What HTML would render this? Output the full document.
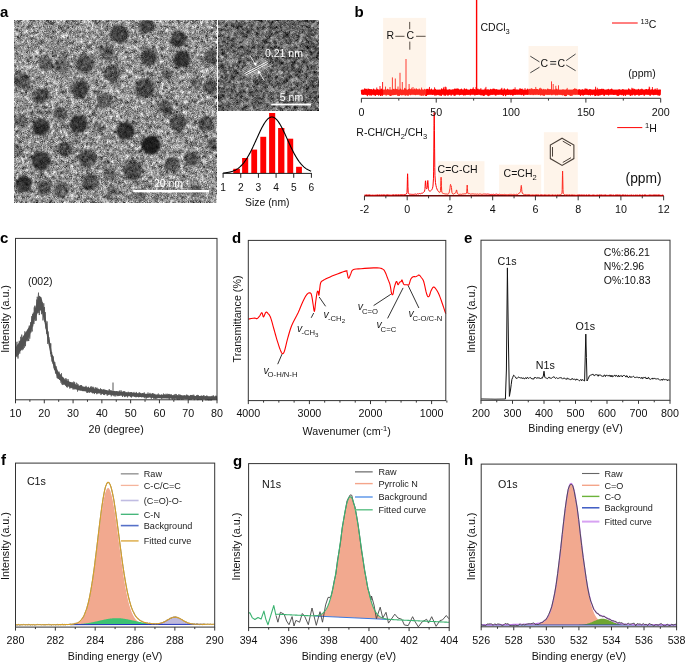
<!DOCTYPE html><html><head><meta charset="utf-8"><style>html,body{margin:0;padding:0;background:#fff;overflow:hidden}svg{display:block;will-change:transform}text{font-family:"Liberation Sans",sans-serif}</style></head><body>
<svg width="685" height="662" viewBox="0 0 685 662">
<rect width="685" height="662" fill="#fff"/>
<text x="0.00" y="17.00" font-size="15" text-anchor="start" fill="#000" font-weight="bold">a</text>
<text x="354.50" y="17.00" font-size="15" text-anchor="start" fill="#000" font-weight="bold">b</text>
<text x="0.00" y="243.00" font-size="15" text-anchor="start" fill="#000" font-weight="bold">c</text>
<text x="232.00" y="243.00" font-size="15" text-anchor="start" fill="#000" font-weight="bold">d</text>
<text x="464.00" y="243.00" font-size="15" text-anchor="start" fill="#000" font-weight="bold">e</text>
<text x="1.00" y="465.00" font-size="15" text-anchor="start" fill="#000" font-weight="bold">f</text>
<text x="233.00" y="466.00" font-size="15" text-anchor="start" fill="#000" font-weight="bold">g</text>
<text x="464.00" y="465.00" font-size="15" text-anchor="start" fill="#000" font-weight="bold">h</text>
<defs>
<filter id="noiseA" x="14" y="20.5" width="202.3" height="182.3" filterUnits="userSpaceOnUse" color-interpolation-filters="sRGB">
<feTurbulence type="fractalNoise" baseFrequency="2.2" numOctaves="1" seed="11" result="n"/>
<feGaussianBlur in="n" stdDeviation="0.8" result="b"/>
<feComposite in="n" in2="b" operator="arithmetic" k1="0" k2="0.35" k3="0.65" k4="0" result="m"/>
<feColorMatrix in="m" type="matrix" values="2.8 0 0 0 -0.83  2.8 0 0 0 -0.83  2.8 0 0 0 -0.83  0 0 0 0 1"/>
</filter>
<filter id="noiseH" x="218.2" y="20.8" width="100.19999999999999" height="89.5" filterUnits="userSpaceOnUse" color-interpolation-filters="sRGB">
<feTurbulence type="fractalNoise" baseFrequency="2.2" numOctaves="1" seed="5" result="n"/>
<feGaussianBlur in="n" stdDeviation="0.85" result="b"/>
<feComposite in="n" in2="b" operator="arithmetic" k1="0" k2="0.25" k3="0.75" k4="0" result="m"/>
<feColorMatrix in="m" type="matrix" values="2.9 0 0 0 -1.05  2.9 0 0 0 -1.05  2.9 0 0 0 -1.05  0 0 0 0 1"/>
</filter>
<filter id="blur2" x="-50%" y="-50%" width="200%" height="200%"><feGaussianBlur stdDeviation="0.9"/></filter>
<clipPath id="clipA"><rect x="14" y="20.5" width="202.3" height="182.3"/></clipPath>
</defs>
<rect x="14" y="20.5" width="202.3" height="182.3" fill="#888" filter="url(#noiseA)"/>
<g clip-path="url(#clipA)" filter="url(#blur2)">
<circle cx="46" cy="63.2" r="7.5" fill="#000" opacity="0.392"/>
<circle cx="62" cy="65" r="7.5" fill="#000" opacity="0.392"/>
<circle cx="85" cy="64.5" r="9.2" fill="#000" opacity="0.470"/>
<circle cx="107" cy="52.5" r="7" fill="#000" opacity="0.426"/>
<circle cx="22.2" cy="81" r="8.5" fill="#000" opacity="0.470"/>
<circle cx="80.3" cy="89.2" r="8.8" fill="#000" opacity="0.560"/>
<circle cx="40.8" cy="96" r="8.2" fill="#000" opacity="0.470"/>
<circle cx="112.3" cy="73.6" r="8.5" fill="#000" opacity="0.448"/>
<circle cx="104.8" cy="101" r="8" fill="#000" opacity="0.403"/>
<circle cx="119.3" cy="33.9" r="9.2" fill="#000" opacity="0.560"/>
<circle cx="146.6" cy="25.5" r="8" fill="#000" opacity="0.504"/>
<circle cx="149.3" cy="57.5" r="8.6" fill="#000" opacity="0.538"/>
<circle cx="178.5" cy="39.5" r="8" fill="#000" opacity="0.560"/>
<circle cx="182" cy="59.3" r="8.6" fill="#000" opacity="0.672"/>
<circle cx="212" cy="57" r="8" fill="#000" opacity="0.448"/>
<circle cx="144.5" cy="88.4" r="9.8" fill="#000" opacity="0.504"/>
<circle cx="167.3" cy="74.2" r="6" fill="#000" opacity="0.280"/>
<circle cx="196.7" cy="83.4" r="5.5" fill="#000" opacity="0.280"/>
<circle cx="210.6" cy="86.5" r="7.5" fill="#000" opacity="0.448"/>
<circle cx="165.5" cy="107.5" r="7.5" fill="#000" opacity="0.392"/>
<circle cx="60.4" cy="113.6" r="7" fill="#000" opacity="0.426"/>
<circle cx="78.5" cy="124" r="9" fill="#000" opacity="0.650"/>
<circle cx="40.8" cy="127" r="8.8" fill="#000" opacity="0.650"/>
<circle cx="20.5" cy="121.5" r="7" fill="#000" opacity="0.336"/>
<circle cx="98.9" cy="127.4" r="6" fill="#000" opacity="0.280"/>
<circle cx="65" cy="149" r="7.5" fill="#000" opacity="0.448"/>
<circle cx="41" cy="160.8" r="9.5" fill="#000" opacity="0.650"/>
<circle cx="87.5" cy="158.5" r="9.2" fill="#000" opacity="0.504"/>
<circle cx="23.8" cy="184" r="8.5" fill="#000" opacity="0.650"/>
<circle cx="44" cy="187.5" r="7.5" fill="#000" opacity="0.426"/>
<circle cx="61" cy="189" r="7.5" fill="#000" opacity="0.426"/>
<circle cx="90.5" cy="182.5" r="8.5" fill="#000" opacity="0.448"/>
<circle cx="109.3" cy="173.5" r="6.5" fill="#000" opacity="0.336"/>
<circle cx="125.3" cy="130.8" r="9" fill="#000" opacity="0.672"/>
<circle cx="151" cy="145.1" r="9.5" fill="#000" opacity="0.800"/>
<circle cx="178.3" cy="122.5" r="8.5" fill="#000" opacity="0.504"/>
<circle cx="206" cy="123.5" r="7.5" fill="#000" opacity="0.470"/>
<circle cx="214" cy="144" r="6.5" fill="#000" opacity="0.448"/>
<circle cx="192" cy="158.6" r="7.5" fill="#000" opacity="0.448"/>
<circle cx="172.2" cy="164.5" r="7.5" fill="#000" opacity="0.448"/>
<circle cx="133" cy="170.5" r="9.5" fill="#000" opacity="0.504"/>
<circle cx="112" cy="191.5" r="6.5" fill="#000" opacity="0.336"/>
<circle cx="167.3" cy="111" r="5" fill="#000" opacity="0.224"/>
<circle cx="18" cy="150" r="6" fill="#000" opacity="0.280"/>
<circle cx="140" cy="195" r="6" fill="#000" opacity="0.336"/>
<circle cx="196" cy="191" r="6" fill="#000" opacity="0.336"/>
</g>
<rect x="133.2" y="190" width="75.8" height="2.4" fill="#fff"/>
<text x="168.50" y="187.00" font-size="10.5" text-anchor="middle" fill="#fff" >20 nm</text>
<rect x="218.2" y="20.8" width="100.19999999999999" height="89.5" fill="#666" filter="url(#noiseH)"/>
<line x1="236.75" y1="72.00" x2="262.75" y2="58.00" stroke="#fff" stroke-width="0.5" opacity="0.6"/>
<line x1="238.50" y1="73.00" x2="264.50" y2="59.00" stroke="#fff" stroke-width="0.5" opacity="0.6"/>
<line x1="240.25" y1="74.00" x2="266.25" y2="60.00" stroke="#fff" stroke-width="0.5" opacity="0.6"/>
<line x1="242.00" y1="75.00" x2="268.00" y2="61.00" stroke="#fff" stroke-width="0.5" opacity="0.6"/>
<line x1="243.75" y1="76.00" x2="269.75" y2="62.00" stroke="#fff" stroke-width="0.5" opacity="0.6"/>
<line x1="245.50" y1="77.00" x2="271.50" y2="63.00" stroke="#fff" stroke-width="0.5" opacity="0.6"/>
<line x1="247.25" y1="78.00" x2="273.25" y2="64.00" stroke="#fff" stroke-width="0.5" opacity="0.6"/>
<line x1="242.60" y1="64.45" x2="252.50" y2="79.57" stroke="#fff" stroke-width="0.45" opacity="0.35"/>
<line x1="244.01" y1="63.70" x2="253.91" y2="78.82" stroke="#fff" stroke-width="0.45" opacity="0.35"/>
<line x1="245.42" y1="62.95" x2="255.32" y2="78.07" stroke="#fff" stroke-width="0.45" opacity="0.35"/>
<line x1="246.83" y1="62.20" x2="256.73" y2="77.32" stroke="#fff" stroke-width="0.45" opacity="0.35"/>
<line x1="248.23" y1="61.44" x2="258.13" y2="76.56" stroke="#fff" stroke-width="0.45" opacity="0.35"/>
<line x1="249.64" y1="60.69" x2="259.54" y2="75.81" stroke="#fff" stroke-width="0.45" opacity="0.35"/>
<line x1="251.05" y1="59.94" x2="260.95" y2="75.06" stroke="#fff" stroke-width="0.45" opacity="0.35"/>
<line x1="252.46" y1="59.19" x2="262.36" y2="74.31" stroke="#fff" stroke-width="0.45" opacity="0.35"/>
<line x1="253.87" y1="58.44" x2="263.77" y2="73.56" stroke="#fff" stroke-width="0.45" opacity="0.35"/>
<line x1="255.27" y1="57.68" x2="265.17" y2="72.80" stroke="#fff" stroke-width="0.45" opacity="0.35"/>
<line x1="256.68" y1="56.93" x2="266.58" y2="72.05" stroke="#fff" stroke-width="0.45" opacity="0.35"/>
<line x1="258.09" y1="56.18" x2="267.99" y2="71.30" stroke="#fff" stroke-width="0.45" opacity="0.35"/>
<line x1="259.50" y1="55.43" x2="269.40" y2="70.55" stroke="#fff" stroke-width="0.45" opacity="0.35"/>
<line x1="244.70" y1="73.50" x2="267.30" y2="61.70" stroke="#fff" stroke-width="0.9" />
<line x1="245.50" y1="75.20" x2="268.10" y2="63.40" stroke="#fff" stroke-width="0.9" />
<line x1="250.10" y1="55.50" x2="255.60" y2="65.00" stroke="#fff" stroke-width="0.8" />
<polygon points="256.30,66.30 253.40,63.60 256.60,62.30" fill="#fff" stroke="none" stroke-width="1" />
<line x1="264.20" y1="80.50" x2="258.60" y2="71.30" stroke="#fff" stroke-width="0.8" />
<polygon points="257.90,70.00 260.80,72.70 257.60,74.00" fill="#fff" stroke="none" stroke-width="1" />
<text x="265.00" y="56.50" font-size="10.5" text-anchor="start" fill="#fff" >0.21 nm</text>
<text x="279.80" y="100.70" font-size="10.5" text-anchor="start" fill="#fff" >5 nm</text>
<rect x="271.2" y="103.6" width="39.8" height="1.8" fill="#fff"/>
<rect x="233.3" y="168.8" width="6.599999999999994" height="4.599999999999994" fill="#f00"/>
<rect x="242.1" y="158" width="6.099999999999994" height="15.400000000000006" fill="#f00"/>
<rect x="251.3" y="149.6" width="5.800000000000011" height="23.80000000000001" fill="#f00"/>
<rect x="260.3" y="136.8" width="5.899999999999977" height="36.599999999999994" fill="#f00"/>
<rect x="269.1" y="113" width="6.099999999999966" height="60.400000000000006" fill="#f00"/>
<rect x="278.1" y="128" width="6.2999999999999545" height="45.400000000000006" fill="#f00"/>
<rect x="287.3" y="138.7" width="5.899999999999977" height="34.70000000000002" fill="#f00"/>
<rect x="296.1" y="166.8" width="5.7999999999999545" height="6.599999999999994" fill="#f00"/>
<polyline points="223.10,173.03 223.60,172.99 224.10,172.94 224.60,172.90 225.10,172.84 225.60,172.79 226.10,172.72 226.60,172.65 227.10,172.58 227.60,172.50 228.10,172.41 228.60,172.32 229.10,172.21 229.60,172.10 230.10,171.98 230.60,171.85 231.10,171.71 231.60,171.56 232.10,171.40 232.60,171.23 233.10,171.04 233.60,170.84 234.10,170.63 234.60,170.40 235.10,170.15 235.60,169.89 236.10,169.62 236.60,169.32 237.10,169.01 237.60,168.68 238.10,168.33 238.60,167.96 239.10,167.56 239.60,167.15 240.10,166.71 240.60,166.25 241.10,165.77 241.60,165.26 242.10,164.73 242.60,164.17 243.10,163.59 243.60,162.98 244.10,162.34 244.60,161.68 245.10,160.99 245.60,160.28 246.10,159.54 246.60,158.77 247.10,157.98 247.60,157.16 248.10,156.31 248.60,155.44 249.10,154.55 249.60,153.63 250.10,152.69 250.60,151.73 251.10,150.75 251.60,149.74 252.10,148.72 252.60,147.68 253.10,146.63 253.60,145.56 254.10,144.48 254.60,143.39 255.10,142.29 255.60,141.19 256.10,140.08 256.60,138.97 257.10,137.86 257.60,136.75 258.10,135.65 258.60,134.56 259.10,133.47 259.60,132.40 260.10,131.35 260.60,130.31 261.10,129.30 261.60,128.30 262.10,127.34 262.60,126.40 263.10,125.50 263.60,124.62 264.10,123.79 264.60,122.99 265.10,122.24 265.60,121.53 266.10,120.86 266.60,120.24 267.10,119.67 267.60,119.16 268.10,118.69 268.60,118.28 269.10,117.92 269.60,117.63 270.10,117.38 270.60,117.20 271.10,117.08 271.60,117.01 272.10,117.00 272.60,117.06 273.10,117.17 273.60,117.34 274.10,117.57 274.60,117.86 275.10,118.20 275.60,118.60 276.10,119.06 276.60,119.57 277.10,120.13 277.60,120.73 278.10,121.39 278.60,122.09 279.10,122.84 279.60,123.63 280.10,124.45 280.60,125.32 281.10,126.22 281.60,127.15 282.10,128.11 282.60,129.10 283.10,130.11 283.60,131.14 284.10,132.19 284.60,133.26 285.10,134.34 285.60,135.43 286.10,136.53 286.60,137.64 287.10,138.75 287.60,139.86 288.10,140.97 288.60,142.07 289.10,143.17 289.60,144.26 290.10,145.35 290.60,146.42 291.10,147.47 291.60,148.51 292.10,149.54 292.60,150.55 293.10,151.53 293.60,152.50 294.10,153.45 294.60,154.37 295.10,155.27 295.60,156.14 296.10,156.99 296.60,157.82 297.10,158.61 297.60,159.39 298.10,160.13 298.60,160.85 299.10,161.55 299.60,162.21 300.10,162.85 300.60,163.47 301.10,164.05 301.60,164.62 302.10,165.15 302.60,165.67 303.10,166.16 303.60,166.62 304.10,167.06 304.60,167.48 305.10,167.88 305.60,168.25 306.10,168.61 306.60,168.95 307.10,169.26 307.60,169.56 308.10,169.84 308.60,170.10 309.10,170.35 309.60,170.58 310.10,170.80 310.60,171.00 311.10,171.19" fill="none" stroke="#000" stroke-width="1.1" stroke-linejoin="round" />
<line x1="222.60" y1="173.40" x2="311.90" y2="173.40" stroke="#222" stroke-width="1" />
<line x1="223.10" y1="173.40" x2="223.10" y2="177.80" stroke="#222" stroke-width="1" />
<text x="223.10" y="190.70" font-size="10.2" text-anchor="middle" fill="#111" >1</text>
<line x1="240.76" y1="173.40" x2="240.76" y2="177.80" stroke="#222" stroke-width="1" />
<text x="240.76" y="190.70" font-size="10.2" text-anchor="middle" fill="#111" >2</text>
<line x1="258.42" y1="173.40" x2="258.42" y2="177.80" stroke="#222" stroke-width="1" />
<text x="258.42" y="190.70" font-size="10.2" text-anchor="middle" fill="#111" >3</text>
<line x1="276.08" y1="173.40" x2="276.08" y2="177.80" stroke="#222" stroke-width="1" />
<text x="276.08" y="190.70" font-size="10.2" text-anchor="middle" fill="#111" >4</text>
<line x1="293.74" y1="173.40" x2="293.74" y2="177.80" stroke="#222" stroke-width="1" />
<text x="293.74" y="190.70" font-size="10.2" text-anchor="middle" fill="#111" >5</text>
<line x1="311.40" y1="173.40" x2="311.40" y2="177.80" stroke="#222" stroke-width="1" />
<text x="311.40" y="190.70" font-size="10.2" text-anchor="middle" fill="#111" >6</text>
<text x="267.30" y="206.00" font-size="10.4" text-anchor="middle" fill="#111" >Size (nm)</text>
<polyline points="361.40,89.99 361.73,93.45 362.06,93.09 362.39,92.06 362.72,90.33 363.05,94.13 363.38,94.23 363.71,92.28 364.04,92.23 364.37,90.46 364.70,88.92 365.03,91.35 365.36,92.76 365.69,89.36 366.02,94.14 366.35,90.43 366.68,90.44 367.01,89.18 367.34,95.48 367.67,93.78 368.00,94.68 368.33,92.96 368.66,89.12 368.99,91.07 369.32,92.18 369.65,89.66 369.98,95.18 370.31,91.33 370.64,89.92 370.97,94.30 371.30,89.72 371.63,95.02 371.96,91.89 372.29,92.54 372.62,91.16 372.95,92.10 373.28,90.13 373.61,89.15 373.94,94.61 374.27,90.45 374.60,94.05 374.93,90.28 375.26,95.29 375.59,94.80 375.92,93.88 376.25,93.93 376.58,92.73 376.91,93.72 377.24,89.71 377.57,92.04 377.90,94.36 378.23,90.23 378.56,94.99 378.89,94.76 379.22,91.60 379.55,91.31 379.88,91.88 380.21,91.45 380.54,95.47 380.87,91.45 381.20,89.08 381.53,89.52 381.86,93.64 382.19,95.45 382.52,92.17 382.85,92.14 383.18,92.53 383.51,93.84 383.84,90.37 384.17,92.92 384.50,92.57 384.83,93.01 385.16,90.09 385.49,90.02 385.82,91.20 386.15,95.02 386.48,91.19 386.81,92.84 387.14,90.92 387.47,89.58 387.80,89.33 388.13,94.27 388.46,94.03 388.79,91.37 389.12,93.41 389.45,93.36 389.78,94.83 390.11,95.22 390.44,91.59 390.77,95.43 391.10,95.25 391.43,92.80 391.76,94.73 392.09,92.14 392.42,91.38 392.75,90.53 393.08,94.68 393.41,89.97 393.74,89.36 394.07,94.21 394.40,94.01 394.73,92.09 395.06,94.42 395.39,89.24 395.72,90.60 396.05,90.81 396.38,91.67 396.71,90.03 397.04,89.36 397.37,91.13 397.70,94.83 398.03,95.39 398.36,93.82 398.69,92.06 399.02,90.56 399.35,95.23 399.68,92.37 400.01,93.71 400.34,89.09 400.67,90.30 401.00,94.43 401.33,94.15 401.66,94.72 401.99,92.87 402.32,91.71 402.65,92.74 402.98,94.51 403.31,90.93 403.64,92.43 403.97,90.72 404.30,93.97 404.63,88.97 404.96,93.42 405.29,95.20 405.62,89.06 405.95,92.82 406.28,93.15 406.61,94.52 406.94,92.76 407.27,90.60 407.60,91.58 407.93,95.23 408.26,94.88 408.59,89.78 408.92,89.53 409.25,89.52 409.58,89.07 409.91,91.85 410.24,89.83 410.57,94.62 410.90,93.23 411.23,89.74 411.56,92.46 411.89,91.04 412.22,92.16 412.55,90.35 412.88,90.00 413.21,90.11 413.54,91.39 413.87,93.59 414.20,92.53 414.53,89.20 414.86,93.59 415.19,94.67 415.52,94.01 415.85,94.12 416.18,88.95 416.51,91.96 416.84,89.32 417.17,93.94 417.50,90.06 417.83,93.60 418.16,90.57 418.49,93.50 418.82,90.97 419.15,89.18 419.48,91.47 419.81,90.94 420.14,94.84 420.47,90.85 420.80,92.22 421.13,92.53 421.46,95.16 421.79,89.55 422.12,92.87 422.45,92.25 422.78,93.75 423.11,95.28 423.44,90.95 423.77,93.52 424.10,92.37 424.43,92.60 424.76,89.32 425.09,94.28 425.42,95.35 425.75,91.24 426.08,91.00 426.41,95.46 426.74,89.61 427.07,89.40 427.40,89.38 427.73,94.27 428.06,93.92 428.39,91.86 428.72,93.00 429.05,89.03 429.38,93.15 429.71,91.82 430.04,92.32 430.37,91.47 430.70,91.55 431.03,90.39 431.36,89.22 431.69,91.76 432.02,90.53 432.35,93.55 432.68,94.29 433.01,93.68 433.34,91.91 433.67,90.46 434.00,91.44 434.33,92.11 434.66,93.07 434.99,95.26 435.32,89.46 435.65,92.07 435.98,92.15 436.31,93.63 436.64,94.78 436.97,94.04 437.30,93.04 437.63,93.91 437.96,93.31 438.29,94.57 438.62,93.51 438.95,93.41 439.28,90.52 439.61,94.95 439.94,91.45 440.27,92.96 440.60,94.34 440.93,95.26 441.26,95.43 441.59,88.94 441.92,90.96 442.25,90.96 442.58,91.48 442.91,89.86 443.24,92.55 443.57,89.42 443.90,90.90 444.23,95.13 444.56,93.80 444.89,91.95 445.22,89.61 445.55,95.21 445.88,93.55 446.21,90.26 446.54,91.11 446.87,93.13 447.20,93.40 447.53,90.62 447.86,95.18 448.19,91.03 448.52,90.58 448.85,94.48 449.18,89.91 449.51,93.40 449.84,90.22 450.17,92.85 450.50,90.73 450.83,91.40 451.16,95.11 451.49,91.98 451.82,91.78 452.15,92.97 452.48,90.75 452.81,90.05 453.14,91.44 453.47,90.70 453.80,90.14 454.13,95.24 454.46,89.13 454.79,94.25 455.12,95.07 455.45,93.55 455.78,89.03 456.11,92.21 456.44,89.16 456.77,92.91 457.10,93.52 457.43,90.49 457.76,88.95 458.09,92.49 458.42,89.52 458.75,90.94 459.08,91.90 459.41,94.80 459.74,91.34 460.07,89.79 460.40,94.13 460.73,94.33 461.06,92.39 461.39,89.22 461.72,90.14 462.05,91.56 462.38,92.54 462.71,90.39 463.04,94.20 463.37,94.47 463.70,95.01 464.03,94.73 464.36,89.02 464.69,92.74 465.02,89.43 465.35,94.84 465.68,93.83 466.01,93.91 466.34,90.14 466.67,89.29 467.00,94.28 467.33,92.90 467.66,92.99 467.99,92.01 468.32,94.18 468.65,91.13 468.98,90.68 469.31,91.23 469.64,90.87 469.97,93.04 470.30,94.77 470.63,89.37 470.96,89.35 471.29,92.28 471.62,93.37 471.95,90.15 472.28,90.68 472.61,89.29 472.94,89.15 473.27,92.17 473.60,93.39 473.93,93.21 474.26,89.94 474.59,89.59 474.92,95.04 475.25,92.45 475.58,91.60 475.91,93.46 476.24,93.70 476.57,92.36 476.90,89.42 477.23,94.36 477.56,90.31 477.89,89.17 478.22,91.23 478.55,92.41 478.88,93.05 479.21,90.05 479.54,93.58 479.87,92.16 480.20,89.97 480.53,94.52 480.86,94.22 481.19,94.88 481.52,93.38 481.85,90.33 482.18,94.03 482.51,94.86 482.84,92.42 483.17,94.90 483.50,95.30 483.83,91.47 484.16,95.12 484.49,95.08 484.82,94.14 485.15,88.97 485.48,91.22 485.81,92.95 486.14,92.91 486.47,93.89 486.80,93.17 487.13,89.97 487.46,95.04 487.79,92.44 488.12,94.72 488.45,90.27 488.78,95.49 489.11,92.56 489.44,94.02 489.77,93.78 490.10,94.73 490.43,91.29 490.76,89.45 491.09,91.58 491.42,90.08 491.75,92.46 492.08,94.28 492.41,91.29 492.74,89.76 493.07,89.08 493.40,91.69 493.73,92.73 494.06,89.07 494.39,93.29 494.72,90.29 495.05,89.61 495.38,95.02 495.71,92.35 496.04,94.81 496.37,92.29 496.70,89.71 497.03,90.48 497.36,91.70 497.69,93.13 498.02,93.99 498.35,93.86 498.68,93.20 499.01,90.57 499.34,91.74 499.67,91.40 500.00,92.13 500.33,90.65 500.66,92.45 500.99,91.93 501.32,89.13 501.65,94.33 501.98,92.77 502.31,94.20 502.64,93.76 502.97,93.72 503.30,95.46 503.63,91.39 503.96,91.50 504.29,88.92 504.62,93.28 504.95,92.74 505.28,92.70 505.61,95.48 505.94,90.20 506.27,90.40 506.60,93.75 506.93,94.26 507.26,92.09 507.59,89.26 507.92,91.34 508.25,94.35 508.58,92.20 508.91,91.95 509.24,91.47 509.57,93.05 509.90,92.85 510.23,93.47 510.56,94.61 510.89,93.86 511.22,91.37 511.55,90.55 511.88,94.06 512.21,94.13 512.54,95.03 512.87,90.21 513.20,94.49 513.53,94.78 513.86,89.41 514.19,90.93 514.52,93.08 514.85,89.86 515.18,94.39 515.51,90.65 515.84,93.40 516.17,90.85 516.50,90.34 516.83,90.27 517.16,92.18 517.49,93.61 517.82,90.34 518.15,93.43 518.48,91.11 518.81,93.19 519.14,91.33 519.47,90.18 519.80,89.83 520.13,89.28 520.46,93.50 520.79,91.63 521.12,89.71 521.45,94.71 521.78,93.22 522.11,89.04 522.44,93.68 522.77,92.82 523.10,91.83 523.43,92.20 523.76,95.25 524.09,91.37 524.42,93.10 524.75,93.10 525.08,91.31 525.41,91.19 525.74,93.88 526.07,93.10 526.40,91.92 526.73,92.29 527.06,90.38 527.39,94.11 527.72,89.03 528.05,93.15 528.38,91.90 528.71,90.36 529.04,92.77 529.37,92.75 529.70,89.47 530.03,92.13 530.36,89.99 530.69,94.17 531.02,91.06 531.35,91.07 531.68,90.32 532.01,89.22 532.34,90.13 532.67,89.90 533.00,93.02 533.33,94.49 533.66,90.36 533.99,89.64 534.32,92.43 534.65,89.66 534.98,91.57 535.31,93.92 535.64,90.24 535.97,93.52 536.30,92.46 536.63,89.46 536.96,90.50 537.29,92.86 537.62,89.54 537.95,90.24 538.28,92.71 538.61,94.30 538.94,92.33 539.27,93.28 539.60,88.96 539.93,90.90 540.26,91.00 540.59,94.93 540.92,91.26 541.25,94.08 541.58,89.13 541.91,92.19 542.24,94.78 542.57,93.99 542.90,92.73 543.23,90.10 543.56,95.01 543.89,89.43 544.22,95.27 544.55,94.02 544.88,93.65 545.21,92.40 545.54,89.98 545.87,91.15 546.20,93.28 546.53,93.23 546.86,91.47 547.19,94.19 547.52,89.25 547.85,90.80 548.18,89.50 548.51,91.04 548.84,94.13 549.17,93.87 549.50,89.89 549.83,90.94 550.16,89.64 550.49,93.27 550.82,91.82 551.15,90.43 551.48,91.37 551.81,94.61 552.14,91.71 552.47,93.46 552.80,93.04 553.13,92.03 553.46,92.57 553.79,91.30 554.12,90.21 554.45,92.16 554.78,90.91 555.11,91.08 555.44,90.13 555.77,94.93 556.10,91.71 556.43,90.22 556.76,89.11 557.09,90.31 557.42,94.63 557.75,91.12 558.08,93.30 558.41,90.42 558.74,93.19 559.07,91.87 559.40,93.76 559.73,92.39 560.06,91.38 560.39,90.75 560.72,92.82 561.05,94.39 561.38,93.46 561.71,92.07 562.04,91.07 562.37,94.78 562.70,94.49 563.03,89.86 563.36,93.38 563.69,94.00 564.02,93.36 564.35,95.26 564.68,94.70 565.01,90.52 565.34,95.48 565.67,91.06 566.00,91.41 566.33,95.34 566.66,90.00 566.99,91.51 567.32,93.03 567.65,90.70 567.98,90.66 568.31,94.14 568.64,92.94 568.97,93.81 569.30,94.11 569.63,94.66 569.96,94.80 570.29,94.33 570.62,95.36 570.95,92.20 571.28,93.53 571.61,92.29 571.94,95.30 572.27,93.22 572.60,91.74 572.93,93.28 573.26,90.85 573.59,89.75 573.92,91.45 574.25,89.80 574.58,88.93 574.91,89.51 575.24,91.90 575.57,93.94 575.90,89.22 576.23,93.10 576.56,89.63 576.89,92.27 577.22,90.85 577.55,91.84 577.88,93.60 578.21,91.63 578.54,91.49 578.87,93.71 579.20,89.66 579.53,91.20 579.86,93.53 580.19,94.41 580.52,95.36 580.85,90.60 581.18,93.03 581.51,90.96 581.84,93.53 582.17,94.48 582.50,89.79 582.83,91.18 583.16,95.08 583.49,91.23 583.82,93.07 584.15,94.30 584.48,90.74 584.81,94.07 585.14,88.92 585.47,91.15 585.80,90.00 586.13,91.18 586.46,90.31 586.79,89.07 587.12,94.20 587.45,90.05 587.78,92.68 588.11,92.56 588.44,94.51 588.77,94.49 589.10,93.00 589.43,90.01 589.76,93.92 590.09,89.54 590.42,95.03 590.75,90.94 591.08,90.57 591.41,90.33 591.74,91.51 592.07,94.12 592.40,94.54 592.73,93.82 593.06,93.71 593.39,90.51 593.72,91.02 594.05,90.91 594.38,91.76 594.71,94.67 595.04,95.47 595.37,89.45 595.70,95.27 596.03,94.96 596.36,91.94 596.69,93.47 597.02,94.08 597.35,90.13 597.68,92.96 598.01,95.38 598.34,94.71 598.67,94.92 599.00,89.46 599.33,93.62 599.66,92.11 599.99,94.90 600.32,90.00 600.65,92.52 600.98,89.70 601.31,94.21 601.64,93.67 601.97,89.11 602.30,90.94 602.63,89.83 602.96,93.09 603.29,93.06 603.62,89.31 603.95,95.18 604.28,95.27 604.61,91.81 604.94,92.69 605.27,91.30 605.60,92.90 605.93,91.53 606.26,91.81 606.59,93.85 606.92,90.13 607.25,90.87 607.58,93.94 607.91,90.38 608.24,89.35 608.57,94.92 608.90,89.95 609.23,91.61 609.56,90.97 609.89,90.63 610.22,91.23 610.55,92.45 610.88,89.67 611.21,92.42 611.54,89.24 611.87,89.42 612.20,90.23 612.53,90.49 612.86,91.15 613.19,90.82 613.52,94.42 613.85,93.24 614.18,92.02 614.51,93.99 614.84,93.43 615.17,90.98 615.50,92.96 615.83,93.82 616.16,92.43 616.49,93.87 616.82,93.08 617.15,95.02 617.48,90.64 617.81,93.33 618.14,95.35 618.47,92.39 618.80,94.87 619.13,89.53 619.46,93.68 619.79,90.65 620.12,93.85 620.45,91.69 620.78,92.43 621.11,90.54 621.44,90.60 621.77,94.61 622.10,93.15 622.43,93.05 622.76,89.66 623.09,90.83 623.42,95.29 623.75,90.24 624.08,92.45 624.41,93.50 624.74,92.27 625.07,92.56 625.40,95.30 625.73,94.06 626.06,90.46 626.39,91.74 626.72,91.67 627.05,93.41 627.38,93.35 627.71,90.62 628.04,93.47 628.37,91.75 628.70,89.00 629.03,90.83 629.36,91.39 629.69,90.20 630.02,93.33 630.35,95.45 630.68,95.05 631.01,93.06 631.34,94.56 631.67,92.14 632.00,92.77 632.33,94.80 632.66,89.29 632.99,91.29 633.32,91.37 633.65,91.15 633.98,91.72 634.31,89.28 634.64,93.38 634.97,95.21 635.30,90.45 635.63,90.13 635.96,91.11 636.29,94.16 636.62,90.39 636.95,93.99 637.28,90.04 637.61,92.83 637.94,93.66 638.27,93.35 638.60,89.46 638.93,95.21 639.26,94.50 639.59,92.07 639.92,94.57 640.25,92.87 640.58,90.01 640.91,91.52 641.24,94.32 641.57,91.96 641.90,89.18 642.23,89.99 642.56,90.13 642.89,92.77 643.22,93.15 643.55,91.86 643.88,91.56 644.21,95.25 644.54,91.16 644.87,93.34 645.20,90.25 645.53,92.29 645.86,90.09 646.19,89.65 646.52,91.12 646.85,89.66 647.18,91.42 647.51,93.21 647.84,92.52 648.17,94.15 648.50,92.05 648.83,89.45 649.16,93.70 649.49,91.55 649.82,93.86 650.15,95.34 650.48,92.36 650.81,90.55 651.14,91.26 651.47,92.19 651.80,91.01 652.13,89.57 652.46,91.53 652.79,93.23 653.12,94.29 653.45,93.93 653.78,94.73 654.11,94.19 654.44,91.62 654.77,93.15 655.10,89.26 655.43,94.14 655.76,93.57 656.09,90.65 656.42,92.02 656.75,90.69 657.08,94.15 657.41,91.72 657.74,94.05 658.07,95.00 658.40,94.03 658.73,91.41 659.06,91.16 659.39,95.14 659.72,94.87 660.05,90.15 660.38,91.29" fill="none" stroke="#f00" stroke-width="1.3" stroke-linejoin="round" />
<rect x="361.4" y="89.6" width="299.30000000000007" height="5.2" fill="#f00"/>
<line x1="382.60" y1="92.00" x2="382.60" y2="82.00" stroke="#f00" stroke-width="0.9" />
<line x1="385.50" y1="92.00" x2="385.50" y2="86.60" stroke="#f00" stroke-width="0.9" />
<line x1="392.40" y1="92.00" x2="392.40" y2="77.40" stroke="#f00" stroke-width="0.9" />
<line x1="395.30" y1="92.00" x2="395.30" y2="78.50" stroke="#f00" stroke-width="0.9" />
<line x1="400.00" y1="92.00" x2="400.00" y2="72.80" stroke="#f00" stroke-width="0.9" />
<line x1="402.30" y1="92.00" x2="402.30" y2="82.00" stroke="#f00" stroke-width="0.9" />
<line x1="406.00" y1="92.00" x2="406.00" y2="59.00" stroke="#f00" stroke-width="0.9" />
<line x1="409.10" y1="92.00" x2="409.10" y2="84.00" stroke="#f00" stroke-width="0.9" />
<line x1="551.50" y1="92.00" x2="551.50" y2="81.40" stroke="#f00" stroke-width="0.9" />
<line x1="553.20" y1="92.00" x2="553.20" y2="84.00" stroke="#f00" stroke-width="0.9" />
<line x1="555.80" y1="92.00" x2="555.80" y2="85.80" stroke="#f00" stroke-width="0.9" />
<line x1="558.50" y1="92.00" x2="558.50" y2="85.30" stroke="#f00" stroke-width="0.9" />
<line x1="380.00" y1="92.00" x2="380.00" y2="86.00" stroke="#f00" stroke-width="0.9" />
<line x1="390.00" y1="92.00" x2="390.00" y2="87.00" stroke="#f00" stroke-width="0.9" />
<line x1="398.00" y1="92.00" x2="398.00" y2="86.50" stroke="#f00" stroke-width="0.9" />
<line x1="413.00" y1="92.00" x2="413.00" y2="87.00" stroke="#f00" stroke-width="0.9" />
<line x1="597.29" y1="92.00" x2="597.29" y2="87.79" stroke="#f00" stroke-width="0.9" />
<line x1="446.14" y1="92.00" x2="446.14" y2="87.26" stroke="#f00" stroke-width="0.9" />
<line x1="649.22" y1="92.00" x2="649.22" y2="86.65" stroke="#f00" stroke-width="0.9" />
<line x1="443.43" y1="92.00" x2="443.43" y2="87.63" stroke="#f00" stroke-width="0.9" />
<line x1="633.01" y1="92.00" x2="633.01" y2="88.11" stroke="#f00" stroke-width="0.9" />
<line x1="501.89" y1="92.00" x2="501.89" y2="87.84" stroke="#f00" stroke-width="0.9" />
<line x1="652.41" y1="92.00" x2="652.41" y2="87.06" stroke="#f00" stroke-width="0.9" />
<line x1="429.48" y1="92.00" x2="429.48" y2="86.94" stroke="#f00" stroke-width="0.9" />
<line x1="595.59" y1="92.00" x2="595.59" y2="86.74" stroke="#f00" stroke-width="0.9" />
<line x1="525.02" y1="92.00" x2="525.02" y2="88.08" stroke="#f00" stroke-width="0.9" />
<line x1="421.57" y1="92.00" x2="421.57" y2="87.57" stroke="#f00" stroke-width="0.9" />
<line x1="519.99" y1="92.00" x2="519.99" y2="88.14" stroke="#f00" stroke-width="0.9" />
<line x1="515.08" y1="92.00" x2="515.08" y2="87.33" stroke="#f00" stroke-width="0.9" />
<line x1="631.83" y1="92.00" x2="631.83" y2="87.78" stroke="#f00" stroke-width="0.9" />
<line x1="404.85" y1="92.00" x2="404.85" y2="87.87" stroke="#f00" stroke-width="0.9" />
<line x1="480.87" y1="92.00" x2="480.87" y2="88.15" stroke="#f00" stroke-width="0.9" />
<line x1="649.65" y1="92.00" x2="649.65" y2="87.34" stroke="#f00" stroke-width="0.9" />
<line x1="485.93" y1="92.00" x2="485.93" y2="86.89" stroke="#f00" stroke-width="0.9" />
<line x1="444.08" y1="92.00" x2="444.08" y2="86.85" stroke="#f00" stroke-width="0.9" />
<line x1="411.74" y1="92.00" x2="411.74" y2="87.74" stroke="#f00" stroke-width="0.9" />
<line x1="376.77" y1="92.00" x2="376.77" y2="87.52" stroke="#f00" stroke-width="0.9" />
<line x1="540.34" y1="92.00" x2="540.34" y2="87.75" stroke="#f00" stroke-width="0.9" />
<line x1="531.23" y1="92.00" x2="531.23" y2="88.08" stroke="#f00" stroke-width="0.9" />
<line x1="445.58" y1="92.00" x2="445.58" y2="86.66" stroke="#f00" stroke-width="0.9" />
<line x1="535.76" y1="92.00" x2="535.76" y2="86.96" stroke="#f00" stroke-width="0.9" />
<line x1="657.14" y1="92.00" x2="657.14" y2="88.07" stroke="#f00" stroke-width="0.9" />
<line x1="567.19" y1="92.00" x2="567.19" y2="87.92" stroke="#f00" stroke-width="0.9" />
<line x1="434.55" y1="92.00" x2="434.55" y2="87.32" stroke="#f00" stroke-width="0.9" />
<line x1="475.98" y1="92.00" x2="475.98" y2="87.09" stroke="#f00" stroke-width="0.9" />
<line x1="473.28" y1="92.00" x2="473.28" y2="87.31" stroke="#f00" stroke-width="0.9" />
<line x1="476.60" y1="95.00" x2="476.60" y2="0.00" stroke="#f00" stroke-width="1.4" />
<rect x="383.1" y="17.9" width="43" height="77.9" fill="rgba(250,202,148,0.2)"/>
<rect x="528.5" y="46" width="49.5" height="49.8" fill="rgba(250,202,148,0.2)"/>
<line x1="361.40" y1="98.30" x2="660.70" y2="98.30" stroke="#333" stroke-width="1" />
<line x1="361.40" y1="98.30" x2="361.40" y2="102.60" stroke="#333" stroke-width="1" />
<line x1="398.81" y1="98.30" x2="398.81" y2="100.60" stroke="#333" stroke-width="1" />
<line x1="436.22" y1="98.30" x2="436.22" y2="102.60" stroke="#333" stroke-width="1" />
<line x1="473.64" y1="98.30" x2="473.64" y2="100.60" stroke="#333" stroke-width="1" />
<line x1="511.05" y1="98.30" x2="511.05" y2="102.60" stroke="#333" stroke-width="1" />
<line x1="548.46" y1="98.30" x2="548.46" y2="100.60" stroke="#333" stroke-width="1" />
<line x1="585.88" y1="98.30" x2="585.88" y2="102.60" stroke="#333" stroke-width="1" />
<line x1="623.29" y1="98.30" x2="623.29" y2="100.60" stroke="#333" stroke-width="1" />
<line x1="660.70" y1="98.30" x2="660.70" y2="102.60" stroke="#333" stroke-width="1" />
<text x="386.60" y="39.20" font-size="10.5" text-anchor="start" fill="#111" >R</text>
<line x1="395.30" y1="36.30" x2="404.50" y2="36.30" stroke="#5a5048" stroke-width="1" />
<text x="406.40" y="39.40" font-size="10.5" text-anchor="start" fill="#111" >C</text>
<line x1="416.10" y1="36.30" x2="425.60" y2="36.30" stroke="#5a5048" stroke-width="1" />
<line x1="409.70" y1="21.90" x2="409.70" y2="29.20" stroke="#5a5048" stroke-width="1" />
<line x1="409.80" y1="41.60" x2="409.80" y2="49.70" stroke="#5a5048" stroke-width="1" />
<text x="540.60" y="66.80" font-size="10.5" text-anchor="start" fill="#111" >C</text>
<line x1="550.20" y1="61.60" x2="556.20" y2="61.60" stroke="#333" stroke-width="1" />
<line x1="550.20" y1="64.20" x2="556.20" y2="64.20" stroke="#333" stroke-width="1" />
<text x="557.40" y="66.80" font-size="10.5" text-anchor="start" fill="#111" >C</text>
<line x1="530.30" y1="56.20" x2="539.50" y2="61.90" stroke="#333" stroke-width="0.9" />
<line x1="530.30" y1="72.80" x2="539.50" y2="67.20" stroke="#333" stroke-width="0.9" />
<line x1="566.20" y1="60.60" x2="575.60" y2="54.00" stroke="#333" stroke-width="0.9" />
<line x1="566.20" y1="65.00" x2="575.60" y2="70.70" stroke="#333" stroke-width="0.9" />
<text x="480.50" y="31.40" font-size="10.5" text-anchor="start" fill="#111" >CDCl<tspan font-size="7.5" dy="2.5">3</tspan></text>
<text x="628.30" y="77.30" font-size="10.5" text-anchor="start" fill="#111" >(ppm)</text>
<line x1="612.00" y1="23.00" x2="637.70" y2="23.00" stroke="#f00" stroke-width="1" />
<text x="640.40" y="27.60" font-size="10.5" text-anchor="start" fill="#111" ><tspan font-size="7.5" dy="-4">13</tspan><tspan dy="4">C</tspan></text>
<line x1="364.46" y1="195.70" x2="663.64" y2="195.70" stroke="#6a0808" stroke-width="1.6" />
<polyline points="364.46,194.99 364.96,195.31 365.46,195.05 365.96,195.25 366.46,194.83 366.96,195.04 367.46,195.02 367.96,195.16 368.46,194.96 368.96,194.96 369.46,194.85 369.96,195.02 370.46,195.17 370.96,194.99 371.46,195.28 371.96,194.93 372.46,195.15 372.96,194.94 373.46,195.23 373.96,195.00 374.46,195.21 374.96,195.28 375.46,195.16 375.96,194.87 376.46,195.09 376.96,195.03 377.46,194.89 377.96,194.79 378.46,195.15 378.96,194.93 379.46,194.89 379.96,194.88 380.46,195.10 380.96,195.03 381.46,194.88 381.96,195.14 382.46,195.02 382.96,194.95 383.46,194.83 383.96,195.14 384.46,194.92 384.96,195.14 385.46,195.17 385.96,195.01 386.46,194.92 386.96,194.92 387.46,194.76 387.96,195.15 388.46,194.97 388.96,194.99 389.46,195.09 389.96,194.76 390.46,195.14 390.96,195.08 391.46,195.19 391.96,194.88 392.46,194.87 392.96,195.08 393.46,194.73 393.96,194.87 394.46,195.08 394.96,194.70 395.46,194.74 395.96,195.00 396.46,194.72 396.96,195.08 397.46,194.96 397.96,194.92 398.46,194.64 398.96,194.96 399.46,194.91 399.96,194.98 400.46,194.66 400.96,194.97 401.46,194.62 401.96,194.86 402.46,194.73 402.96,194.54 403.46,194.81 403.96,194.64 404.46,194.53 404.96,194.47 405.46,194.43 405.96,194.11 406.46,193.92 406.96,192.66 407.00,192.28 407.20,187.97 407.40,179.20 407.46,176.64 407.60,173.75 407.80,179.18 407.96,186.46 408.00,187.94 408.20,192.25 408.46,193.60 408.96,194.16 409.46,194.11 409.96,194.26 410.46,194.21 410.96,194.57 411.46,194.32 411.96,194.43 412.46,194.39 412.96,194.22 413.46,194.36 413.96,194.37 414.46,194.23 414.96,194.45 415.46,194.05 415.96,194.18 416.46,194.37 416.96,194.10 417.46,193.81 417.96,193.73 418.46,193.94 418.96,193.94 419.46,193.52 419.96,193.76 420.46,193.79 420.96,193.56 421.46,193.31 421.96,193.06 422.46,193.18 422.96,192.82 423.46,192.33 423.96,192.13 424.46,191.61 424.90,189.38 424.96,188.66 425.10,186.46 425.30,182.76 425.46,180.92 425.50,180.79 425.70,182.16 425.90,185.29 425.96,186.16 426.10,187.68 426.46,188.71 426.96,188.68 427.20,187.58 427.40,185.13 427.46,184.16 427.60,181.93 427.80,180.47 427.96,181.75 428.00,182.36 428.20,185.97 428.40,188.79 428.46,189.33 428.96,190.68 429.46,191.04 429.96,190.95 430.46,191.01 430.96,190.53 431.46,190.17 431.96,189.47 432.46,188.35 432.96,186.18 433.46,178.80 433.60,171.14 433.80,151.05 433.96,130.27 434.00,125.49 434.20,112.54 434.40,123.86 434.46,130.72 434.60,148.11 434.80,167.38 434.96,175.63 435.46,182.47 435.96,185.48 436.46,187.56 436.96,188.98 437.46,190.20 437.96,190.76 438.46,191.59 438.96,191.72 439.46,192.39 439.96,192.26 440.46,190.97 440.50,190.55 440.70,186.63 440.90,180.50 440.96,178.92 441.10,177.23 441.30,180.63 441.46,185.72 441.50,186.89 441.70,190.94 441.96,192.51 442.46,192.99 442.96,193.43 443.46,193.49 443.96,193.83 444.46,193.78 444.96,193.79 445.46,193.94 445.96,194.27 446.46,193.98 446.96,194.31 447.46,194.15 447.96,194.20 448.46,193.75 448.96,193.33 449.10,192.74 449.30,191.87 449.46,191.12 449.50,190.94 449.70,190.09 449.90,189.04 449.96,188.62 450.10,187.38 450.30,185.41 450.46,184.44 450.50,184.36 450.70,184.78 450.90,185.61 450.96,185.74 451.10,185.85 451.30,186.20 451.46,187.31 451.50,187.71 451.70,190.05 451.90,192.05 451.96,192.48 452.46,193.63 452.96,194.11 453.46,194.08 453.96,193.78 454.46,193.49 454.96,193.56 455.46,192.77 455.96,192.08 456.00,191.95 456.20,191.12 456.40,190.21 456.46,190.02 456.60,189.90 456.80,190.56 456.96,191.55 457.00,191.80 457.20,192.90 457.46,193.65 457.96,193.90 458.46,194.30 458.96,194.39 459.46,194.40 459.96,194.01 460.46,194.22 460.96,194.16 461.46,194.39 461.96,194.10 462.46,193.98 462.96,194.31 463.46,193.99 463.96,193.92 464.46,193.80 464.96,193.95 465.46,193.82 465.96,193.82 466.46,193.27 466.60,193.06 466.80,191.20 466.96,188.25 467.00,187.44 467.20,185.10 467.40,187.43 467.46,188.64 467.60,191.18 467.80,193.02 467.96,193.49 468.46,193.61 468.96,193.72 469.46,193.60 469.96,193.74 470.46,194.11 470.96,194.09 471.46,194.01 471.96,194.00 472.46,193.86 472.96,194.10 473.46,193.96 473.96,194.03 474.46,194.12 474.96,193.96 475.46,194.08 475.96,193.82 476.46,194.26 476.96,193.89 477.46,194.03 477.96,194.14 478.46,194.34 478.96,194.06 479.46,193.99 479.96,194.23 480.46,194.06 480.96,194.16 481.46,194.38 481.96,194.01 482.46,194.29 482.96,194.21 483.46,194.07 483.96,194.02 484.46,194.04 484.96,194.28 485.46,194.05 485.96,194.40 486.46,194.20 486.96,194.27 487.46,194.06 487.96,194.13 488.46,194.17 488.96,194.10 489.46,194.34 489.96,194.29 490.46,194.47 490.96,194.35 491.46,194.43 491.96,194.17 492.46,194.48 492.96,194.10 493.46,194.26 493.96,194.35 494.46,194.52 494.96,194.36 495.46,194.31 495.96,194.53 496.46,194.12 496.96,194.44 497.46,194.41 497.96,194.50 498.46,194.46 498.96,194.52 499.46,194.24 499.96,194.64 500.46,194.51 500.96,194.40 501.46,194.47 501.96,194.56 502.46,194.49 502.96,194.71 503.46,194.59 503.96,194.54 504.46,194.38 504.96,194.56 505.46,194.58 505.96,194.47 506.46,194.66 506.96,194.54 507.46,194.72 507.96,194.52 508.46,194.56 508.96,194.51 509.46,194.41 509.96,194.45 510.46,194.36 510.96,194.74 511.46,194.38 511.96,194.64 512.46,194.67 512.96,194.63 513.46,194.39 513.96,194.36 514.46,194.42 514.96,194.65 515.46,194.72 515.96,194.63 516.46,194.35 516.96,194.25 517.46,194.46 517.96,194.33 518.46,193.59 518.96,193.55 519.46,193.18 519.96,192.34 520.46,191.70 520.70,190.31 520.90,188.38 520.96,187.71 521.10,186.27 521.30,185.43 521.46,186.30 521.50,186.70 521.70,189.20 521.90,191.45 521.96,191.94 522.46,193.41 522.96,193.96 523.46,194.15 523.96,194.16 524.46,194.67 524.96,194.71 525.46,194.48 525.96,194.62 526.46,194.74 526.96,194.81 527.46,194.70 527.96,194.56 528.46,194.58 528.96,194.61 529.46,194.59 529.96,195.03 530.46,195.09 530.96,194.70 531.46,195.00 531.96,194.87 532.46,194.90 532.96,194.66 533.46,194.93 533.96,195.09 534.46,195.06 534.96,194.72 535.46,194.77 535.96,195.11 536.46,194.70 536.96,195.00 537.46,194.83 537.96,194.91 538.46,194.77 538.96,194.96 539.46,195.19 539.96,194.93 540.46,194.79 540.96,195.01 541.46,194.81 541.96,195.00 542.46,195.04 542.96,195.05 543.46,195.11 543.96,194.98 544.46,194.75 544.96,194.94 545.46,194.85 545.96,195.15 546.46,195.06 546.96,194.95 547.46,195.05 547.96,195.24 548.46,194.81 548.96,195.18 549.46,194.92 549.96,194.76 550.46,195.11 550.96,195.12 551.46,195.09 551.96,194.98 552.46,194.76 552.96,195.18 553.46,195.13 553.96,194.80 554.46,195.11 554.96,194.91 555.46,194.88 555.96,195.23 556.46,195.21 556.96,194.84 557.46,194.74 557.96,194.84 558.46,194.93 558.96,195.08 559.46,194.81 559.96,194.94 560.46,194.71 560.96,194.63 561.46,194.00 561.96,193.19 562.00,192.97 562.20,189.51 562.40,179.07 562.46,175.45 562.60,171.10 562.80,179.07 562.96,188.01 563.00,189.52 563.20,192.98 563.46,193.69 563.96,194.32 564.46,194.66 564.96,194.91 565.46,195.03 565.96,195.05 566.46,194.67 566.96,195.18 567.46,194.86 567.96,195.01 568.46,194.95 568.96,195.11 569.46,194.78 569.96,194.87 570.46,195.08 570.96,195.07 571.46,194.83 571.96,195.22 572.46,194.86 572.96,194.99 573.46,195.02 573.96,195.04 574.46,195.01 574.96,195.27 575.46,195.19 575.96,195.14 576.46,195.21 576.96,195.28 577.46,194.96 577.96,195.11 578.46,194.95 578.96,195.13 579.46,194.85 579.96,195.20 580.46,195.07 580.96,195.12 581.46,194.93 581.96,195.26 582.46,195.06 582.96,195.11 583.46,195.02 583.96,195.22 584.46,195.06 584.96,194.84 585.46,195.28 585.96,194.85 586.46,194.85 586.96,195.11 587.46,195.30 587.96,195.09 588.46,194.86 588.96,195.34 589.46,194.97 589.96,194.95 590.46,195.29 590.96,195.04 591.46,195.27 591.96,195.29 592.46,195.08 592.96,195.20 593.46,195.02 593.96,195.08 594.46,195.23 594.96,194.89 595.46,195.35 595.96,194.95 596.46,195.21 596.96,194.90 597.46,195.05 597.96,195.12 598.46,195.24 598.96,194.92 599.46,194.92 599.96,194.87 600.46,195.06 600.96,194.89 601.46,194.91 601.96,195.02 602.46,195.19 602.96,195.05 603.46,195.18 603.96,194.95 604.46,195.08 604.96,194.92 605.46,194.91 605.96,194.98 606.46,195.26 606.96,195.19 607.46,195.32 607.96,195.19 608.46,195.28 608.96,195.21 609.46,194.96 609.96,195.30 610.46,194.90 610.96,194.90 611.46,194.98 611.96,195.24 612.46,195.22 612.96,195.13 613.46,195.05 613.96,194.90 614.46,195.35 614.96,195.32 615.46,194.95 615.96,195.35 616.46,194.92 616.96,195.27 617.46,194.88 617.96,195.13 618.46,195.06 618.96,194.95 619.46,194.95 619.96,195.16 620.46,195.14 620.96,194.97 621.46,195.24 621.96,195.21 622.46,194.93 622.96,194.93 623.46,194.95 623.96,195.20 624.46,195.20 624.96,195.32 625.46,194.95 625.96,195.34 626.46,195.28 626.96,195.36 627.46,195.14 627.96,194.87 628.46,195.33 628.96,195.24 629.46,195.24 629.96,195.02 630.46,195.19 630.96,195.28 631.46,195.02 631.96,194.92 632.46,195.29 632.96,195.34 633.46,195.17 633.96,194.90 634.46,195.34 634.96,195.30 635.46,195.05 635.96,194.99 636.46,195.15 636.96,195.35 637.46,195.10 637.96,195.32 638.46,195.34 638.96,195.34 639.46,194.90 639.96,195.32 640.46,195.14 640.96,194.96 641.46,195.27 641.96,195.18 642.46,194.98 642.96,195.09 643.46,195.28 643.96,195.11 644.46,194.88 644.96,194.97 645.46,194.89 645.96,195.36 646.46,195.35 646.96,195.12 647.46,195.37 647.96,194.89 648.46,195.23 648.96,195.10 649.46,194.94 649.96,195.16 650.46,194.99 650.96,195.30 651.46,195.15 651.96,195.01 652.46,195.14 652.96,195.28 653.46,194.95 653.96,195.20 654.46,194.92 654.96,195.22 655.46,194.96 655.96,195.32 656.46,195.04 656.96,194.90 657.46,195.06 657.96,195.17 658.46,194.89 658.96,194.90 659.46,194.97 659.96,195.27 660.46,195.33 660.96,195.07 661.46,195.31 661.96,195.35 662.46,195.10 662.96,194.91 663.46,195.24" fill="none" stroke="#f00" stroke-width="1" stroke-linejoin="round" />
<rect x="438" y="161.2" width="46.5" height="33.8" fill="rgba(250,202,148,0.2)"/>
<rect x="499.1" y="164.7" width="42.1" height="30.3" fill="rgba(250,202,148,0.2)"/>
<rect x="543.9" y="132.2" width="33.9" height="62.8" fill="rgba(250,202,148,0.2)"/>
<line x1="364.46" y1="196.00" x2="364.46" y2="200.30" stroke="#333" stroke-width="1" />
<text x="364.46" y="212.80" font-size="10.7" text-anchor="middle" fill="#111" >-2</text>
<line x1="385.83" y1="196.00" x2="385.83" y2="198.30" stroke="#333" stroke-width="1" />
<line x1="407.20" y1="196.00" x2="407.20" y2="200.30" stroke="#333" stroke-width="1" />
<text x="407.20" y="212.80" font-size="10.7" text-anchor="middle" fill="#111" >0</text>
<line x1="428.57" y1="196.00" x2="428.57" y2="198.30" stroke="#333" stroke-width="1" />
<line x1="449.94" y1="196.00" x2="449.94" y2="200.30" stroke="#333" stroke-width="1" />
<text x="449.94" y="212.80" font-size="10.7" text-anchor="middle" fill="#111" >2</text>
<line x1="471.31" y1="196.00" x2="471.31" y2="198.30" stroke="#333" stroke-width="1" />
<line x1="492.68" y1="196.00" x2="492.68" y2="200.30" stroke="#333" stroke-width="1" />
<text x="492.68" y="212.80" font-size="10.7" text-anchor="middle" fill="#111" >4</text>
<line x1="514.05" y1="196.00" x2="514.05" y2="198.30" stroke="#333" stroke-width="1" />
<line x1="535.42" y1="196.00" x2="535.42" y2="200.30" stroke="#333" stroke-width="1" />
<text x="535.42" y="212.80" font-size="10.7" text-anchor="middle" fill="#111" >6</text>
<line x1="556.79" y1="196.00" x2="556.79" y2="198.30" stroke="#333" stroke-width="1" />
<line x1="578.16" y1="196.00" x2="578.16" y2="200.30" stroke="#333" stroke-width="1" />
<text x="578.16" y="212.80" font-size="10.7" text-anchor="middle" fill="#111" >8</text>
<line x1="599.53" y1="196.00" x2="599.53" y2="198.30" stroke="#333" stroke-width="1" />
<line x1="620.90" y1="196.00" x2="620.90" y2="200.30" stroke="#333" stroke-width="1" />
<text x="620.90" y="212.80" font-size="10.7" text-anchor="middle" fill="#111" >10</text>
<line x1="642.27" y1="196.00" x2="642.27" y2="198.30" stroke="#333" stroke-width="1" />
<line x1="663.64" y1="196.00" x2="663.64" y2="200.30" stroke="#333" stroke-width="1" />
<text x="663.64" y="212.80" font-size="10.7" text-anchor="middle" fill="#111" >12</text>
<text x="356.30" y="136.10" font-size="10.5" text-anchor="start" fill="#111" >R-CH/CH<tspan font-size="7.5" dy="2.5">2</tspan><tspan dy="-2.5">/CH</tspan><tspan font-size="7.5" dy="2.5">3</tspan></text>
<text x="437.60" y="172.90" font-size="10.5" text-anchor="start" fill="#111" >C=C-CH</text>
<text x="503.60" y="177.00" font-size="10.5" text-anchor="start" fill="#111" >C=CH<tspan font-size="7.5" dy="2.5">2</tspan></text>
<text x="625.60" y="182.50" font-size="13.8" text-anchor="start" fill="#111" >(ppm)</text>
<line x1="617.20" y1="127.60" x2="642.30" y2="127.60" stroke="#f00" stroke-width="1" />
<text x="645.00" y="132.20" font-size="10.5" text-anchor="start" fill="#111" ><tspan font-size="7.5" dy="-4">1</tspan><tspan dy="4">H</tspan></text>
<text x="361.40" y="116.40" font-size="10.7" text-anchor="middle" fill="#111" >0</text>
<text x="436.22" y="116.40" font-size="10.7" text-anchor="middle" fill="#111" >50</text>
<text x="511.05" y="116.40" font-size="10.7" text-anchor="middle" fill="#111" >100</text>
<text x="585.88" y="116.40" font-size="10.7" text-anchor="middle" fill="#111" >150</text>
<text x="660.70" y="116.40" font-size="10.7" text-anchor="middle" fill="#111" >200</text>
<polygon points="562.10,138.20 573.88,145.00 573.88,158.60 562.10,165.40 550.32,158.60 550.32,145.00" fill="none" stroke="#4a4038" stroke-width="1.1" />
<line x1="562.77" y1="141.13" x2="571.01" y2="145.89" stroke="#4a4038" stroke-width="1.0" />
<line x1="571.01" y1="157.71" x2="562.77" y2="162.47" stroke="#4a4038" stroke-width="1.0" />
<line x1="552.52" y1="156.56" x2="552.52" y2="147.04" stroke="#4a4038" stroke-width="1.0" />
<polyline points="15.50,348.22 15.75,353.44 16.00,349.87 16.25,353.79 16.50,353.83 16.75,343.11 17.00,341.74 17.25,356.65 17.50,345.54 17.75,344.69 18.00,358.54 18.25,348.34 18.50,354.84 18.75,347.71 19.00,350.40 19.25,340.80 19.50,349.59 19.75,353.65 20.00,346.73 20.25,350.52 20.50,348.82 20.75,336.81 21.00,349.76 21.25,346.18 21.50,340.21 21.75,334.60 22.00,350.33 22.25,342.35 22.50,346.67 22.75,349.31 23.00,345.74 23.25,349.26 23.50,338.87 23.75,346.13 24.00,339.00 24.25,347.80 24.50,346.31 24.75,331.34 25.00,331.68 25.25,332.80 25.50,346.20 25.75,336.05 26.00,339.13 26.25,332.78 26.50,336.14 26.75,333.54 27.00,332.51 27.25,336.33 27.50,335.90 27.75,341.20 28.00,336.82 28.25,340.78 28.50,339.07 28.75,341.01 29.00,334.97 29.25,325.68 29.50,337.44 29.75,338.62 30.00,336.80 30.25,330.12 30.50,331.88 30.75,322.16 31.00,332.41 31.25,327.01 31.50,321.01 31.75,316.17 32.00,329.71 32.25,331.41 32.50,314.11 32.75,326.40 33.00,318.39 33.25,312.75 33.50,314.59 33.75,322.68 34.00,323.86 34.25,307.39 34.50,317.40 34.75,305.72 35.00,317.80 35.25,309.55 35.50,319.37 35.75,320.90 36.00,310.82 36.25,320.47 36.50,305.36 36.75,299.53 37.00,310.38 37.25,296.78 37.50,299.78 37.75,304.02 38.00,308.27 38.25,296.37 38.50,292.67 38.75,313.17 39.00,298.09 39.25,315.06 39.50,313.41 39.75,300.19 40.00,302.41 40.25,304.00 40.50,307.11 40.75,306.00 41.00,305.21 41.25,306.71 41.50,314.18 41.75,305.19 42.00,304.52 42.25,312.00 42.50,302.38 42.75,304.86 43.00,320.43 43.25,311.69 43.50,313.28 43.75,303.28 44.00,312.63 44.25,316.98 44.50,307.07 44.75,320.26 45.00,321.99 45.25,312.13 45.50,324.71 45.75,322.95 46.00,328.54 46.25,323.55 46.50,331.89 46.75,333.91 47.00,321.35 47.25,323.52 47.50,336.91 47.75,343.90 48.00,331.48 48.25,336.87 48.50,340.81 48.75,336.99 49.00,339.17 49.25,339.60 49.50,341.97 49.75,347.23 50.00,343.53 50.25,346.17 50.50,353.90 50.75,343.36 51.00,353.19 51.25,356.97 51.50,351.95 51.75,352.08 52.00,361.59 52.25,355.00 52.50,355.10 52.75,359.24 53.00,363.55 53.25,356.37 53.50,360.10 53.75,361.05 54.00,368.38 54.25,364.00 54.50,370.17 54.75,362.10 55.00,365.05 55.25,369.82 55.50,373.55 55.75,368.86 56.00,366.83 56.25,366.34 56.50,372.18 56.75,368.81 57.00,377.11 57.25,378.15 57.50,370.53 57.75,371.95 58.00,378.52 58.25,376.82 58.50,379.01 58.75,373.88 59.00,371.67 59.25,373.84 59.50,379.87 59.75,374.17 60.00,375.31 60.25,376.39 60.50,376.70 60.75,376.86 61.00,382.78 61.25,374.64 61.50,373.29 61.75,383.75 62.00,383.31 62.25,384.70 62.50,379.08 62.75,384.79 63.00,384.79 63.25,377.70 63.50,383.40 63.75,384.59 64.00,383.07 64.25,381.87 64.50,379.84 64.75,380.64 65.00,379.80 65.25,378.34 65.50,383.57 65.75,380.71 66.00,385.93 66.25,378.56 66.50,387.03 66.75,385.08 67.00,387.40 67.25,387.22 67.50,387.34 67.75,384.33 68.00,379.04 68.25,386.13 68.50,380.77 68.75,382.10 69.00,385.63 69.25,384.43 69.50,383.48 69.75,388.51 70.00,385.54 70.25,383.11 70.50,382.39 70.75,388.14 71.00,384.68 71.25,387.59 71.50,383.73 71.75,382.42 72.00,385.61 72.25,388.27 72.50,382.51 72.75,388.22 73.00,389.49 73.25,388.54 73.50,388.78 73.75,381.59 74.00,387.23 74.25,389.40 74.50,382.31 74.75,384.37 75.00,384.45 75.25,386.82 75.50,386.01 75.75,386.55 76.00,389.28 76.25,382.68 76.50,383.25 76.75,383.98 77.00,384.07 77.25,383.70 77.50,391.52 77.75,390.59 78.00,384.18 78.25,387.80 78.50,386.34 78.75,386.43 79.00,386.79 79.25,389.30 79.50,388.85 79.75,387.01 80.00,385.65 80.25,386.84 80.50,385.20 80.75,388.81 81.00,390.17 81.25,387.45 81.50,385.04 81.75,385.90 82.00,387.54 82.25,389.47 82.50,390.96 82.75,387.73 83.00,391.19 83.25,389.79 83.50,388.29 83.75,387.85 84.00,388.90 84.25,390.60 84.50,388.38 84.75,390.62 85.00,388.79 85.25,387.12 85.50,389.48 85.75,390.79 86.00,385.89 86.25,388.74 86.50,388.79 86.75,392.42 87.00,392.90 87.25,388.52 87.50,392.68 87.75,391.88 88.00,387.78 88.25,389.41 88.50,386.80 88.75,392.21 89.00,391.08 89.25,392.87 89.50,392.17 89.75,391.25 90.00,391.80 90.25,390.53 90.50,387.02 90.75,390.78 91.00,386.34 91.25,387.44 91.50,392.31 91.75,386.75 92.00,387.15 92.25,387.25 92.50,393.25 92.75,387.93 93.00,386.78 93.25,393.05 93.50,387.60 93.75,393.14 94.00,391.87 94.25,393.14 94.50,394.06 94.75,391.26 95.00,392.96 95.25,387.22 95.50,392.79 95.75,390.88 96.00,392.46 96.25,387.90 96.50,392.78 96.75,394.21 97.00,387.67 97.25,389.68 97.50,391.52 97.75,393.54 98.00,389.18 98.25,388.74 98.50,389.31 98.75,392.08 99.00,393.15 99.25,390.49 99.50,390.33 99.75,390.58 100.00,390.27 100.25,390.81 100.50,388.36 100.75,391.50 101.00,395.04 101.25,390.92 101.50,393.43 101.75,389.12 102.00,393.08 102.25,393.60 102.50,393.02 102.75,391.90 103.00,391.69 103.25,392.89 103.50,394.80 103.75,389.33 104.00,388.97 104.25,393.80 104.50,395.07 104.75,392.18 105.00,391.67 105.25,393.72 105.50,389.85 105.75,390.49 106.00,390.02 106.25,392.88 106.50,390.94 106.75,390.37 107.00,393.75 107.25,395.70 107.50,390.95 107.75,393.96 108.00,391.87 108.25,395.09 108.50,393.16 108.75,390.88 109.00,390.55 109.25,389.17 109.50,392.49 109.75,391.81 110.00,390.32 110.25,391.70 110.50,391.45 110.75,394.72 111.00,390.22 111.25,396.31 111.50,392.67 111.75,393.55 112.00,392.64 112.25,395.27 112.50,395.20 112.75,393.34 113.00,392.82 113.25,394.54 113.50,395.53 113.75,392.32 114.00,394.70 114.25,396.32 114.50,392.86 114.75,391.21 115.00,391.27 115.25,394.69 115.50,394.42 115.75,396.43 116.00,395.71 116.25,391.44 116.50,391.10 116.75,391.61 117.00,391.13 117.25,394.77 117.50,395.86 117.75,396.17 118.00,391.70 118.25,395.97 118.50,392.16 118.75,392.95 119.00,395.09 119.25,390.66 119.50,390.73 119.75,395.87 120.00,392.15 120.25,392.63 120.50,394.19 120.75,394.87 121.00,390.29 121.25,392.57 121.50,393.29 121.75,393.65 122.00,391.79 122.25,394.38 122.50,396.93 122.75,393.10 123.00,394.17 123.25,391.30 123.50,392.38 123.75,395.05 124.00,391.33 124.25,396.60 124.50,396.77 124.75,391.30 125.00,397.02 125.25,393.22 125.50,395.93 125.75,395.84 126.00,392.76 126.25,395.34 126.50,395.21 126.75,396.25 127.00,392.66 127.25,395.95 127.50,397.35 127.75,395.45 128.00,394.56 128.25,391.77 128.50,394.32 128.75,393.41 129.00,395.86 129.25,395.61 129.50,394.89 129.75,392.38 130.00,395.46 130.25,395.38 130.50,392.42 130.75,397.12 131.00,395.59 131.25,392.10 131.50,397.44 131.75,392.26 132.00,393.53 132.25,396.10 132.50,395.31 132.75,395.04 133.00,395.67 133.25,394.44 133.50,393.51 133.75,392.63 134.00,391.94 134.25,396.19 134.50,396.46 134.75,395.10 135.00,396.40 135.25,393.93 135.50,393.34 135.75,394.12 136.00,397.33 136.25,391.94 136.50,394.96 136.75,393.31 137.00,396.71 137.25,394.04 137.50,393.92 137.75,394.39 138.00,395.30 138.25,396.81 138.50,394.11 138.75,397.33 139.00,392.59 139.25,393.63 139.50,392.55 139.75,392.65 140.00,396.97 140.25,396.65 140.50,393.17 140.75,393.21 141.00,394.70 141.25,396.82 141.50,397.30 141.75,396.88 142.00,395.89 142.25,393.05 142.50,394.68 142.75,393.39 143.00,395.54 143.25,395.82 143.50,393.49 143.75,393.82 144.00,397.23 144.25,392.45 144.50,397.40 144.75,397.98 145.00,398.37 145.25,394.77 145.50,395.87 145.75,396.08 146.00,396.42 146.25,398.62 146.50,396.79 146.75,394.34 147.00,397.92 147.25,395.55 147.50,396.31 147.75,397.12 148.00,392.55 148.25,397.43 148.50,396.76 148.75,395.70 149.00,395.92 149.25,395.53 149.50,393.86 149.75,396.00 150.00,392.91 150.25,395.85 150.50,396.79 150.75,395.53 151.00,396.32 151.25,398.80 151.50,398.40 151.75,393.66 152.00,397.80 152.25,396.76 152.50,393.18 152.75,395.14 153.00,394.36 153.25,393.41 153.50,396.31 153.75,398.77 154.00,394.99 154.25,398.43 154.50,397.35 154.75,393.87 155.00,398.40 155.25,396.81 155.50,398.86 155.75,397.56 156.00,397.72 156.25,395.28 156.50,398.17 156.75,398.96 157.00,398.54 157.25,395.93 157.50,397.92 157.75,396.26 158.00,393.95 158.25,393.55 158.50,393.79 158.75,394.57 159.00,394.34 159.25,396.43 159.50,397.70 159.75,396.71 160.00,396.02 160.25,397.43 160.50,395.31 160.75,396.30 161.00,398.11 161.25,395.93 161.50,394.58 161.75,399.00 162.00,397.91 162.25,395.75 162.50,395.78 162.75,396.76 163.00,397.18 163.25,394.91 163.50,393.57 163.75,394.84 164.00,398.35 164.25,394.45 164.50,396.39 164.75,394.79 165.00,394.88 165.25,394.65 165.50,396.08 165.75,394.66 166.00,393.81 166.25,394.32 166.50,394.68 166.75,396.64 167.00,394.04 167.25,393.83 167.50,396.41 167.75,396.17 168.00,397.97 168.25,394.04 168.50,396.17 168.75,396.14 169.00,393.92 169.25,399.58 169.50,395.09 169.75,394.35 170.00,396.65 170.25,394.79 170.50,397.55 170.75,395.90 171.00,394.57 171.25,394.15 171.50,398.21 171.75,395.51 172.00,398.58 172.25,396.66 172.50,399.46 172.75,395.69 173.00,395.40 173.25,395.50 173.50,398.78 173.75,397.68 174.00,396.00 174.25,394.51 174.50,398.02 174.75,399.73 175.00,397.50 175.25,394.01 175.50,394.18 175.75,394.54 176.00,395.03 176.25,394.24 176.50,394.36 176.75,397.92 177.00,399.38 177.25,395.25 177.50,399.82 177.75,396.90 178.00,398.83 178.25,399.51 178.50,399.65 178.75,394.32 179.00,395.92 179.25,397.71 179.50,399.71 179.75,394.67 180.00,395.89 180.25,399.16 180.50,394.86 180.75,396.48 181.00,396.16 181.25,398.19 181.50,399.65 181.75,395.25 182.00,398.56 182.25,398.53 182.50,399.13 182.75,397.49 183.00,399.66 183.25,396.40 183.50,396.71 183.75,395.64 184.00,398.84 184.25,397.11 184.50,395.90 184.75,395.33 185.00,398.53 185.25,397.87 185.50,398.48 185.75,396.62 186.00,397.21 186.25,395.29 186.50,398.51 186.75,394.55 187.00,397.12 187.25,398.81 187.50,398.35 187.75,395.01 188.00,395.83 188.25,399.32 188.50,398.17 188.75,399.53 189.00,399.50 189.25,397.09 189.50,399.66 189.75,398.73 190.00,396.45 190.25,396.66 190.50,394.97 190.75,396.84 191.00,400.02 191.25,395.18 191.50,397.83 191.75,395.22 192.00,395.06 192.25,398.30 192.50,395.98 192.75,394.90 193.00,395.50 193.25,398.29 193.50,397.96 193.75,394.72 194.00,395.96 194.25,400.13 194.50,395.92 194.75,397.86 195.00,397.06 195.25,399.10 195.50,398.11 195.75,399.15 196.00,397.73 196.25,395.79 196.50,395.73 196.75,395.19 197.00,399.38 197.25,395.39 197.50,394.90 197.75,400.18 198.00,395.90 198.25,399.78 198.50,395.28 198.75,397.40 199.00,396.05 199.25,399.44 199.50,398.25 199.75,398.41 200.00,399.07 200.25,399.69 200.50,396.78 200.75,398.21 201.00,397.34 201.25,395.50 201.50,399.51 201.75,398.18 202.00,399.41 202.25,396.05 202.50,397.89 202.75,397.49 203.00,398.94 203.25,395.37 203.50,396.85 203.75,397.62 204.00,395.36 204.25,398.01 204.50,399.01 204.75,397.31 205.00,398.55 205.25,398.32 205.50,396.18 205.75,396.93 206.00,400.46 206.25,396.86 206.50,397.39 206.75,395.51 207.00,396.24 207.25,395.96 207.50,400.13 207.75,399.02 208.00,399.83 208.25,400.44 208.50,398.42 208.75,400.15 209.00,398.02 209.25,397.39 209.50,400.25 209.75,400.01 210.00,400.27 210.25,397.76 210.50,399.33 210.75,397.36 211.00,400.54 211.25,400.13 211.50,396.76 211.75,400.21 212.00,396.20 212.25,395.73 212.50,399.09 212.75,396.81 213.00,398.02 213.25,398.66 213.50,395.47 213.75,399.24 214.00,396.74 214.25,397.58 214.50,397.12 214.75,399.24 215.00,399.27 215.25,396.83 215.50,395.86 215.75,396.91 216.00,397.51 216.25,395.75 216.50,396.16 216.75,399.38 217.00,399.06" fill="none" stroke="#555" stroke-width="0.8" stroke-linejoin="round" />
<polygon points="15.50,347.85 16.00,347.08 16.50,346.31 17.00,345.54 17.50,344.77 18.00,344.00 18.50,343.23 19.00,342.46 19.50,341.69 20.00,340.92 20.50,340.15 21.00,339.38 21.50,338.61 22.00,337.84 22.50,337.06 23.00,336.29 23.50,335.52 24.00,334.75 24.50,333.98 25.00,333.20 25.50,332.43 26.00,331.66 26.50,330.89 27.00,330.12 27.50,329.34 28.00,328.57 28.50,327.80 29.00,327.03 29.50,326.26 30.00,324.78 30.50,323.12 31.00,321.46 31.50,319.80 32.00,318.15 32.50,316.49 33.00,314.83 33.50,313.17 34.00,311.52 34.50,309.86 35.00,308.20 35.50,306.54 36.00,304.97 36.50,303.41 37.00,301.84 37.50,300.27 38.00,298.70 38.50,297.13 39.00,295.56 39.50,295.95 40.00,296.33 40.50,296.72 41.00,297.10 41.50,297.49 42.00,299.72 42.50,301.95 43.00,304.18 43.50,306.41 44.00,308.64 44.50,310.99 45.00,313.82 45.50,316.66 46.00,319.50 46.50,322.33 47.00,325.17 47.50,328.01 48.00,330.84 48.50,333.67 49.00,336.49 49.50,339.32 50.00,342.14 50.50,344.96 51.00,347.78 51.50,350.61 52.00,353.43 52.50,355.52 53.00,357.12 53.50,358.72 54.00,360.33 54.50,361.93 55.00,363.54 55.50,365.14 56.00,366.74 56.50,368.35 57.00,369.95 57.50,370.94 58.00,371.53 58.50,372.11 59.00,372.69 59.50,373.28 60.00,373.86 60.50,374.45 61.00,375.03 61.50,375.62 62.00,376.20 62.50,376.79 63.00,377.37 63.50,377.96 64.00,378.54 64.50,379.13 65.00,379.71 65.50,379.92 66.00,380.14 66.50,380.35 67.00,380.57 67.50,380.78 68.00,381.00 68.50,381.21 69.00,381.43 69.50,381.64 70.00,381.86 70.50,382.07 71.00,382.29 71.50,382.50 72.00,382.72 72.50,382.94 73.00,383.15 73.50,383.37 74.00,383.58 74.50,383.80 75.00,384.01 75.50,384.22 76.00,384.44 76.50,384.65 77.00,384.87 77.50,385.08 78.00,385.30 78.50,385.51 79.00,385.68 79.50,385.78 80.00,385.88 80.50,385.98 81.00,386.07 81.50,386.17 82.00,386.27 82.50,386.37 83.00,386.46 83.50,386.56 84.00,386.66 84.50,386.76 85.00,386.85 85.50,386.95 86.00,387.05 86.50,387.15 87.00,387.24 87.50,387.34 88.00,387.44 88.50,387.54 89.00,387.63 89.50,387.73 90.00,387.83 90.50,387.90 91.00,387.98 91.50,388.05 92.00,388.12 92.50,388.19 93.00,388.27 93.50,388.34 94.00,388.41 94.50,388.49 95.00,388.56 95.50,388.63 96.00,388.70 96.50,388.78 97.00,388.85 97.50,388.92 98.00,389.00 98.50,389.07 99.00,389.14 99.50,389.21 100.00,389.29 100.50,389.36 101.00,389.43 101.50,389.51 102.00,389.58 102.50,389.65 103.00,389.73 103.50,389.80 104.00,389.87 104.50,389.94 105.00,390.02 105.50,390.09 106.00,390.16 106.50,390.24 107.00,390.31 107.50,390.38 108.00,390.45 108.50,390.50 109.00,390.55 109.50,390.60 110.00,390.65 110.50,390.70 111.00,390.75 111.50,390.80 112.00,390.85 112.50,390.90 113.00,390.95 113.50,391.00 114.00,391.05 114.50,391.10 115.00,391.15 115.50,391.20 116.00,391.25 116.50,391.30 117.00,391.35 117.50,391.40 118.00,391.45 118.50,391.50 119.00,391.55 119.50,391.60 120.00,391.65 120.50,391.70 121.00,391.75 121.50,391.80 122.00,391.85 122.50,391.89 123.00,391.94 123.50,391.99 124.00,392.04 124.50,392.09 125.00,392.14 125.50,392.19 126.00,392.24 126.50,392.29 127.00,392.34 127.50,392.39 128.00,392.44 128.50,392.49 129.00,392.54 129.50,392.59 130.00,392.64 130.50,392.68 131.00,392.71 131.50,392.75 132.00,392.78 132.50,392.82 133.00,392.85 133.50,392.89 134.00,392.92 134.50,392.96 135.00,392.99 135.50,393.03 136.00,393.06 136.50,393.10 137.00,393.14 137.50,393.17 138.00,393.21 138.50,393.24 139.00,393.28 139.50,393.31 140.00,393.35 140.50,393.38 141.00,393.42 141.50,393.45 142.00,393.49 142.50,393.52 143.00,393.56 143.50,393.60 144.00,393.63 144.50,393.67 145.00,393.70 145.50,393.74 146.00,393.77 146.50,393.81 147.00,393.84 147.50,393.88 148.00,393.91 148.50,393.95 149.00,393.99 149.50,394.02 150.00,394.06 150.50,394.09 151.00,394.13 151.50,394.16 152.00,394.20 152.50,394.23 153.00,394.27 153.50,394.30 154.00,394.34 154.50,394.37 155.00,394.41 155.50,394.45 156.00,394.48 156.50,394.52 157.00,394.55 157.50,394.59 158.00,394.62 158.50,394.66 159.00,394.69 159.50,394.73 160.00,394.76 160.50,394.78 161.00,394.80 161.50,394.82 162.00,394.83 162.50,394.85 163.00,394.87 163.50,394.88 164.00,394.90 164.50,394.92 165.00,394.93 165.50,394.95 166.00,394.97 166.50,394.99 167.00,395.00 167.50,395.02 168.00,395.04 168.50,395.05 169.00,395.07 169.50,395.09 170.00,395.11 170.50,395.12 171.00,395.14 171.50,395.16 172.00,395.17 172.50,395.19 173.00,395.21 173.50,395.22 174.00,395.24 174.50,395.26 175.00,395.28 175.50,395.29 176.00,395.31 176.50,395.33 177.00,395.34 177.50,395.36 178.00,395.38 178.50,395.40 179.00,395.41 179.50,395.43 180.00,395.45 180.50,395.46 181.00,395.48 181.50,395.50 182.00,395.51 182.50,395.53 183.00,395.55 183.50,395.57 184.00,395.58 184.50,395.60 185.00,395.62 185.50,395.63 186.00,395.65 186.50,395.67 187.00,395.69 187.50,395.70 188.00,395.72 188.50,395.74 189.00,395.75 189.50,395.77 190.00,395.79 190.50,395.80 191.00,395.81 191.50,395.83 192.00,395.84 192.50,395.86 193.00,395.87 193.50,395.88 194.00,395.90 194.50,395.91 195.00,395.92 195.50,395.94 196.00,395.95 196.50,395.96 197.00,395.98 197.50,395.99 198.00,396.00 198.50,396.02 199.00,396.03 199.50,396.04 200.00,396.06 200.50,396.07 201.00,396.08 201.50,396.10 202.00,396.11 202.50,396.12 203.00,396.14 203.50,396.15 204.00,396.16 204.50,396.18 205.00,396.19 205.50,396.20 206.00,396.22 206.50,396.23 207.00,396.24 207.50,396.26 208.00,396.27 208.50,396.28 209.00,396.30 209.50,396.31 210.00,396.32 210.50,396.34 211.00,396.35 211.50,396.36 212.00,396.38 212.50,396.39 213.00,396.40 213.50,396.42 214.00,396.43 214.50,396.44 215.00,396.46 215.50,396.47 216.00,396.49 216.50,396.50 217.00,396.51 217.00,399.49 216.50,399.48 216.00,399.47 215.50,399.46 215.00,399.45 214.50,399.44 214.00,399.44 213.50,399.43 213.00,399.42 212.50,399.41 212.00,399.40 211.50,399.39 211.00,399.38 210.50,399.37 210.00,399.36 209.50,399.36 209.00,399.35 208.50,399.34 208.00,399.33 207.50,399.32 207.00,399.31 206.50,399.30 206.00,399.29 205.50,399.29 205.00,399.28 204.50,399.27 204.00,399.26 203.50,399.25 203.00,399.24 202.50,399.23 202.00,399.22 201.50,399.21 201.00,399.21 200.50,399.20 200.00,399.19 199.50,399.18 199.00,399.17 198.50,399.16 198.00,399.15 197.50,399.14 197.00,399.14 196.50,399.13 196.00,399.12 195.50,399.11 195.00,399.10 194.50,399.09 194.00,399.08 193.50,399.07 193.00,399.06 192.50,399.06 192.00,399.05 191.50,399.04 191.00,399.03 190.50,399.02 190.00,399.01 189.50,399.00 189.00,398.99 188.50,398.97 188.00,398.96 187.50,398.95 187.00,398.93 186.50,398.92 186.00,398.91 185.50,398.90 185.00,398.88 184.50,398.87 184.00,398.86 183.50,398.84 183.00,398.83 182.50,398.82 182.00,398.81 181.50,398.79 181.00,398.78 180.50,398.77 180.00,398.75 179.50,398.74 179.00,398.73 178.50,398.71 178.00,398.70 177.50,398.69 177.00,398.68 176.50,398.66 176.00,398.65 175.50,398.64 175.00,398.62 174.50,398.61 174.00,398.60 173.50,398.59 173.00,398.57 172.50,398.56 172.00,398.55 171.50,398.53 171.00,398.52 170.50,398.51 170.00,398.49 169.50,398.48 169.00,398.47 168.50,398.46 168.00,398.44 167.50,398.43 167.00,398.42 166.50,398.40 166.00,398.39 165.50,398.38 165.00,398.37 164.50,398.35 164.00,398.34 163.50,398.33 163.00,398.31 162.50,398.30 162.00,398.29 161.50,398.27 161.00,398.26 160.50,398.25 160.00,398.24 159.50,398.20 159.00,398.17 158.50,398.14 158.00,398.11 157.50,398.08 157.00,398.05 156.50,398.02 156.00,397.99 155.50,397.95 155.00,397.92 154.50,397.89 154.00,397.86 153.50,397.83 153.00,397.80 152.50,397.77 152.00,397.74 151.50,397.70 151.00,397.67 150.50,397.64 150.00,397.61 149.50,397.58 149.00,397.55 148.50,397.52 148.00,397.49 147.50,397.45 147.00,397.42 146.50,397.39 146.00,397.36 145.50,397.33 145.00,397.30 144.50,397.27 144.00,397.24 143.50,397.20 143.00,397.17 142.50,397.14 142.00,397.11 141.50,397.08 141.00,397.05 140.50,397.02 140.00,396.99 139.50,396.95 139.00,396.92 138.50,396.89 138.00,396.86 137.50,396.83 137.00,396.80 136.50,396.77 136.00,396.74 135.50,396.70 135.00,396.67 134.50,396.64 134.00,396.61 133.50,396.58 133.00,396.55 132.50,396.52 132.00,396.49 131.50,396.45 131.00,396.42 130.50,396.39 130.00,396.36 129.50,396.32 129.00,396.28 128.50,396.24 128.00,396.20 127.50,396.15 127.00,396.11 126.50,396.07 126.00,396.03 125.50,395.99 125.00,395.95 124.50,395.91 124.00,395.87 123.50,395.82 123.00,395.78 122.50,395.74 122.00,395.70 121.50,395.66 121.00,395.62 120.50,395.58 120.00,395.54 119.50,395.49 119.00,395.45 118.50,395.41 118.00,395.37 117.50,395.33 117.00,395.29 116.50,395.25 116.00,395.21 115.50,395.16 115.00,395.12 114.50,395.08 114.00,395.04 113.50,395.00 113.00,394.96 112.50,394.92 112.00,394.88 111.50,394.83 111.00,394.79 110.50,394.75 110.00,394.71 109.50,394.67 109.00,394.63 108.50,394.59 108.00,394.55 107.50,394.48 107.00,394.41 106.50,394.35 106.00,394.28 105.50,394.22 105.00,394.15 104.50,394.08 104.00,394.02 103.50,393.95 103.00,393.89 102.50,393.82 102.00,393.75 101.50,393.69 101.00,393.62 100.50,393.56 100.00,393.49 99.50,393.42 99.00,393.36 98.50,393.29 98.00,393.23 97.50,393.16 97.00,393.09 96.50,393.03 96.00,392.96 95.50,392.90 95.00,392.83 94.50,392.76 94.00,392.70 93.50,392.63 93.00,392.57 92.50,392.50 92.00,392.43 91.50,392.37 91.00,392.30 90.50,392.24 90.00,392.17 89.50,392.09 89.00,392.01 88.50,391.93 88.00,391.85 87.50,391.77 87.00,391.68 86.50,391.60 86.00,391.52 85.50,391.44 85.00,391.36 84.50,391.28 84.00,391.20 83.50,391.12 83.00,391.04 82.50,390.96 82.00,390.87 81.50,390.79 81.00,390.71 80.50,390.63 80.00,390.55 79.50,390.47 79.00,390.39 78.50,390.25 78.00,390.06 77.50,389.88 77.00,389.70 76.50,389.51 76.00,389.33 75.50,389.14 75.00,388.96 74.50,388.78 74.00,388.59 73.50,388.41 73.00,388.23 72.50,388.04 72.00,387.86 71.50,387.68 71.00,387.49 70.50,387.31 70.00,387.13 69.50,386.94 69.00,386.76 68.50,386.57 68.00,386.39 67.50,386.21 67.00,386.02 66.50,385.84 66.00,385.66 65.50,385.47 65.00,385.29 64.50,384.78 64.00,384.28 63.50,383.77 63.00,383.27 62.50,382.76 62.00,382.26 61.50,381.75 61.00,381.25 60.50,380.74 60.00,380.24 59.50,379.73 59.00,379.23 58.50,378.72 58.00,378.22 57.50,377.71 57.00,376.80 56.50,375.29 56.00,373.77 55.50,372.25 55.00,370.74 54.50,369.22 54.00,367.70 53.50,366.19 53.00,364.67 52.50,363.15 52.00,361.28 51.50,358.87 51.00,356.46 50.50,354.05 50.00,351.65 49.50,349.24 49.00,346.83 48.50,344.42 48.00,341.77 47.50,338.97 47.00,336.16 46.50,333.36 46.00,330.55 45.50,327.75 45.00,324.95 44.50,322.14 44.00,320.05 43.50,318.14 43.00,316.24 42.50,314.33 42.00,312.42 41.50,310.51 41.00,310.50 40.50,310.48 40.00,310.47 39.50,310.45 39.00,310.44 38.50,311.44 38.00,312.44 37.50,313.45 37.00,314.45 36.50,315.45 36.00,316.45 35.50,317.46 35.00,319.02 34.50,320.58 34.00,322.14 33.50,323.71 33.00,325.27 32.50,326.83 32.00,328.40 31.50,329.96 31.00,331.52 30.50,333.08 30.00,334.65 29.50,336.07 29.00,336.91 28.50,337.75 28.00,338.60 27.50,339.44 27.00,340.28 26.50,341.13 26.00,341.97 25.50,342.81 25.00,343.66 24.50,344.50 24.00,345.34 23.50,346.19 23.00,347.03 22.50,347.88 22.00,348.72 21.50,349.49 21.00,350.21 20.50,350.93 20.00,351.65 19.50,352.37 19.00,353.10 18.50,353.82 18.00,354.54 17.50,355.26 17.00,355.98 16.50,356.70 16.00,357.42 15.50,358.15" fill="#525252" stroke="none" stroke-width="1" />
<line x1="113.00" y1="392.00" x2="113.00" y2="382.50" stroke="#555" stroke-width="1" />
<rect x="15.5" y="238.4" width="201.5" height="161.4" fill="none" stroke="#333" stroke-width="1"/>
<line x1="15.50" y1="399.80" x2="15.50" y2="403.30" stroke="#333" stroke-width="1" />
<text x="15.50" y="416.50" font-size="10.7" text-anchor="middle" fill="#111" >10</text>
<line x1="29.89" y1="399.80" x2="29.89" y2="401.80" stroke="#333" stroke-width="1" />
<line x1="44.29" y1="399.80" x2="44.29" y2="403.30" stroke="#333" stroke-width="1" />
<text x="44.29" y="416.50" font-size="10.7" text-anchor="middle" fill="#111" >20</text>
<line x1="58.68" y1="399.80" x2="58.68" y2="401.80" stroke="#333" stroke-width="1" />
<line x1="73.07" y1="399.80" x2="73.07" y2="403.30" stroke="#333" stroke-width="1" />
<text x="73.07" y="416.50" font-size="10.7" text-anchor="middle" fill="#111" >30</text>
<line x1="87.46" y1="399.80" x2="87.46" y2="401.80" stroke="#333" stroke-width="1" />
<line x1="101.86" y1="399.80" x2="101.86" y2="403.30" stroke="#333" stroke-width="1" />
<text x="101.86" y="416.50" font-size="10.7" text-anchor="middle" fill="#111" >40</text>
<line x1="116.25" y1="399.80" x2="116.25" y2="401.80" stroke="#333" stroke-width="1" />
<line x1="130.64" y1="399.80" x2="130.64" y2="403.30" stroke="#333" stroke-width="1" />
<text x="130.64" y="416.50" font-size="10.7" text-anchor="middle" fill="#111" >50</text>
<line x1="145.04" y1="399.80" x2="145.04" y2="401.80" stroke="#333" stroke-width="1" />
<line x1="159.43" y1="399.80" x2="159.43" y2="403.30" stroke="#333" stroke-width="1" />
<text x="159.43" y="416.50" font-size="10.7" text-anchor="middle" fill="#111" >60</text>
<line x1="173.82" y1="399.80" x2="173.82" y2="401.80" stroke="#333" stroke-width="1" />
<line x1="188.21" y1="399.80" x2="188.21" y2="403.30" stroke="#333" stroke-width="1" />
<text x="188.21" y="416.50" font-size="10.7" text-anchor="middle" fill="#111" >70</text>
<line x1="202.61" y1="399.80" x2="202.61" y2="401.80" stroke="#333" stroke-width="1" />
<line x1="217.00" y1="399.80" x2="217.00" y2="403.30" stroke="#333" stroke-width="1" />
<text x="217.00" y="416.50" font-size="10.7" text-anchor="middle" fill="#111" >80</text>
<text x="40.30" y="284.50" font-size="10.5" text-anchor="middle" fill="#111" >(002)</text>
<text x="8.6" y="319" font-size="10.7" text-anchor="middle" fill="#111" transform="rotate(-90 8.6 319)">Intensity (a.u.)</text>
<text x="116.20" y="432.50" font-size="10.7" text-anchor="middle" fill="#111" >2θ (degree)</text>
<polyline points="248.20,319.10 249.44,318.89 251.25,318.57 253.13,318.27 254.60,318.10 255.48,318.19 256.04,318.44 256.49,318.64 257.00,318.60 257.62,318.23 258.25,317.65 258.88,316.95 259.50,316.20 260.13,315.22 260.76,314.03 261.36,313.05 261.90,312.70 262.34,313.44 262.70,314.93 263.06,316.38 263.50,317.00 264.04,316.29 264.65,314.77 265.28,313.16 265.90,312.20 266.50,312.09 267.10,312.45 267.70,313.08 268.30,313.80 268.88,314.46 269.45,315.20 270.04,316.24 270.70,317.80 271.44,320.09 272.25,322.94 273.08,326.02 273.90,329.00 274.70,331.86 275.50,334.75 276.30,337.59 277.10,340.30 277.93,342.96 278.78,345.58 279.58,347.96 280.30,349.90 280.88,351.35 281.38,352.42 281.83,353.13 282.30,353.50 282.77,353.65 283.22,353.52 283.71,352.89 284.30,351.50 285.02,349.06 285.83,345.78 286.70,342.16 287.60,338.70 288.49,335.48 289.41,332.25 290.41,329.02 291.60,325.80 293.07,322.56 294.75,319.29 296.46,316.09 298.00,313.00 299.33,310.00 300.55,307.06 301.69,304.29 302.80,301.80 303.88,299.57 304.90,297.55 305.88,295.83 306.80,294.50 307.69,293.61 308.55,293.09 309.33,292.89 310.00,292.90 310.51,293.05 310.90,293.39 311.24,294.09 311.60,295.30 312.01,297.29 312.43,299.90 312.83,302.64 313.20,305.00 313.53,307.21 313.82,309.41 314.10,311.00 314.40,311.40 314.72,310.11 315.04,307.56 315.37,304.53 315.70,301.80 316.03,299.35 316.36,296.85 316.69,294.60 317.00,292.90 317.30,291.86 317.58,291.29 317.85,291.14 318.10,291.30 318.32,292.15 318.52,293.60 318.71,294.90 318.90,295.30 319.09,294.43 319.28,292.75 319.48,290.74 319.70,288.90 319.91,287.21 320.12,285.45 320.39,283.82 320.80,282.50 321.32,281.64 321.92,281.10 322.69,280.66 323.70,280.10 325.02,279.36 326.58,278.55 328.31,277.72 330.10,276.90 331.99,276.09 333.99,275.27 336.06,274.47 338.10,273.70 340.29,272.89 342.61,272.06 344.69,271.35 346.20,270.90 346.87,270.67 346.96,270.60 346.84,270.83 346.90,271.50 347.22,273.02 347.61,275.19 348.04,277.21 348.50,278.30 348.98,278.07 349.50,277.01 350.04,275.59 350.60,274.30 351.05,273.13 351.43,271.87 352.00,270.70 353.00,269.80 354.42,269.28 356.14,269.02 358.30,268.88 361.00,268.70 364.70,268.41 369.20,268.10 373.62,267.87 377.10,267.80 379.31,267.94 380.76,268.22 381.77,268.62 382.70,269.10 383.52,269.61 384.09,270.18 384.57,270.91 385.10,271.90 385.72,273.25 386.35,274.88 386.98,276.62 387.60,278.30 388.23,279.84 388.86,281.35 389.46,282.93 390.00,284.70 390.46,286.92 390.87,289.45 391.24,291.81 391.60,293.50 391.95,294.41 392.28,294.80 392.60,294.74 392.90,294.30 393.18,293.35 393.43,291.90 393.69,290.25 394.00,288.70 394.38,287.21 394.80,285.65 395.22,284.22 395.60,283.10 395.91,282.31 396.17,281.75 396.42,281.47 396.70,281.50 397.00,282.09 397.32,283.15 397.65,284.18 398.00,284.70 398.38,284.46 398.78,283.75 399.19,282.92 399.60,282.30 400.02,282.01 400.45,281.85 400.86,281.72 401.20,281.50 401.45,281.04 401.63,280.45 401.80,279.98 402.00,279.90 402.25,280.40 402.52,281.30 402.80,282.30 403.10,283.10 403.39,283.65 403.67,284.10 403.99,284.45 404.40,284.70 404.93,284.81 405.55,284.80 406.20,284.74 406.80,284.70 407.35,284.83 407.88,285.05 408.40,285.09 408.90,284.70 409.38,283.62 409.82,282.05 410.29,280.41 410.80,279.10 411.39,278.22 412.02,277.55 412.67,277.06 413.30,276.70 413.93,276.55 414.56,276.60 415.16,276.70 415.70,276.70 416.15,276.56 416.53,276.35 416.90,276.12 417.30,275.90 417.75,275.62 418.22,275.30 418.70,275.08 419.20,275.10 419.70,275.44 420.22,276.00 420.75,276.71 421.30,277.50 421.88,278.24 422.48,279.00 423.09,280.01 423.70,281.50 424.32,283.79 424.95,286.67 425.56,289.56 426.10,291.90 426.56,293.55 426.95,294.82 427.32,295.76 427.70,296.40 428.10,296.75 428.50,296.79 428.90,296.53 429.30,296.00 429.68,295.07 430.05,293.77 430.44,292.37 430.90,291.10 431.44,289.91 432.05,288.69 432.68,287.69 433.30,287.10 433.88,287.01 434.45,287.30 435.04,287.89 435.70,288.70 436.44,289.74 437.24,291.04 438.07,292.57 438.90,294.30 439.74,296.33 440.60,298.65 441.44,301.02 442.20,303.20 442.89,305.21 443.53,307.16 444.11,308.92 444.60,310.40 445.01,311.56 445.35,312.45 445.61,313.12 445.80,313.60" fill="none" stroke="#f00" stroke-width="1.1" stroke-linejoin="round" />
<rect x="248.3" y="240.4" width="197.5" height="160.20000000000002" fill="none" stroke="#333" stroke-width="1"/>
<line x1="248.30" y1="400.60" x2="248.30" y2="404.10" stroke="#333" stroke-width="1" />
<line x1="263.57" y1="400.60" x2="263.57" y2="402.60" stroke="#333" stroke-width="1" />
<line x1="278.85" y1="400.60" x2="278.85" y2="402.60" stroke="#333" stroke-width="1" />
<line x1="294.12" y1="400.60" x2="294.12" y2="402.60" stroke="#333" stroke-width="1" />
<line x1="309.40" y1="400.60" x2="309.40" y2="404.10" stroke="#333" stroke-width="1" />
<line x1="324.68" y1="400.60" x2="324.68" y2="402.60" stroke="#333" stroke-width="1" />
<line x1="339.95" y1="400.60" x2="339.95" y2="402.60" stroke="#333" stroke-width="1" />
<line x1="355.23" y1="400.60" x2="355.23" y2="402.60" stroke="#333" stroke-width="1" />
<line x1="370.50" y1="400.60" x2="370.50" y2="404.10" stroke="#333" stroke-width="1" />
<line x1="385.77" y1="400.60" x2="385.77" y2="402.60" stroke="#333" stroke-width="1" />
<line x1="401.05" y1="400.60" x2="401.05" y2="402.60" stroke="#333" stroke-width="1" />
<line x1="416.33" y1="400.60" x2="416.33" y2="402.60" stroke="#333" stroke-width="1" />
<line x1="431.60" y1="400.60" x2="431.60" y2="404.10" stroke="#333" stroke-width="1" />
<line x1="446.88" y1="400.60" x2="446.88" y2="402.60" stroke="#333" stroke-width="1" />
<text x="248.30" y="416.60" font-size="10.7" text-anchor="middle" fill="#111" >4000</text>
<text x="309.40" y="416.60" font-size="10.7" text-anchor="middle" fill="#111" >3000</text>
<text x="370.50" y="416.60" font-size="10.7" text-anchor="middle" fill="#111" >2000</text>
<text x="431.60" y="416.60" font-size="10.7" text-anchor="middle" fill="#111" >1000</text>
<text x="240.6" y="319" font-size="10.7" text-anchor="middle" fill="#111" transform="rotate(-90 240.6 319)">Transmittance (%)</text>
<text x="346.70" y="434.50" font-size="10.7" text-anchor="middle" fill="#111" >Wavenumer (cm<tspan font-size="7.5" dy="-4">-1</tspan><tspan dy="4">)</tspan></text>
<line x1="282.00" y1="354.10" x2="277.70" y2="364.20" stroke="#333" stroke-width="1" />
<line x1="313.70" y1="313.00" x2="311.20" y2="317.80" stroke="#333" stroke-width="1" />
<line x1="319.20" y1="297.00" x2="325.60" y2="306.30" stroke="#333" stroke-width="1" />
<line x1="390.80" y1="294.30" x2="373.60" y2="305.60" stroke="#333" stroke-width="1" />
<line x1="403.10" y1="287.90" x2="387.60" y2="318.40" stroke="#333" stroke-width="1" />
<line x1="408.10" y1="285.50" x2="418.90" y2="308.00" stroke="#333" stroke-width="1" />
<text x="263.4" y="374.1" font-size="10.5" fill="#222" font-family="Liberation Serif" font-style="italic">v</text>
<text x="267.6" y="377.40" font-size="7.7" fill="#222">O-H/N-H</text>
<text x="297.1" y="332.1" font-size="10.5" fill="#222" font-family="Liberation Serif" font-style="italic">v</text>
<text x="301.4" y="335.40" font-size="7.7" fill="#222">-CH<tspan font-size="6.2" dy="1.5">3</tspan></text>
<text x="323.6" y="317.7" font-size="10.5" fill="#222" font-family="Liberation Serif" font-style="italic">v</text>
<text x="328.0" y="321.00" font-size="7.7" fill="#222">-CH<tspan font-size="6.2" dy="1.5">2</tspan></text>
<text x="357.8" y="310.3" font-size="10.5" fill="#222" font-family="Liberation Serif" font-style="italic">v</text>
<text x="361.9" y="313.60" font-size="7.7" fill="#222">C=O</text>
<text x="376.4" y="328.3" font-size="10.5" fill="#222" font-family="Liberation Serif" font-style="italic">v</text>
<text x="380.6" y="331.60" font-size="7.7" fill="#222">C=C</text>
<text x="408.4" y="317.2" font-size="10.5" fill="#222" font-family="Liberation Serif" font-style="italic">v</text>
<text x="412.4" y="320.50" font-size="7.7" fill="#222">C-O/C-N</text>
<polyline points="481.20,398.90 481.80,398.91 482.40,398.93 483.00,398.94 483.60,398.95 484.20,398.97 484.80,398.98 485.40,398.99 486.00,399.00 486.60,399.02 487.20,399.03 487.80,399.04 488.40,399.06 489.00,399.07 489.60,399.08 490.20,399.10 490.80,399.11 491.40,399.12 492.00,399.13 492.60,399.15 493.20,399.16 493.80,399.17 494.40,399.19 495.00,399.20 495.61,399.19 496.22,399.18 496.84,399.16 497.45,399.15 498.06,399.14 498.67,399.13 499.28,399.12 499.89,399.11 500.51,399.09 501.12,399.08 501.73,399.07 502.34,399.06 502.95,399.05 503.56,399.04 504.18,399.02 504.79,399.01 505.40,399.00 506.40,370.00 507.40,267.90 508.40,340.00 509.40,396.40 510.50,390.00 511.20,384.70 511.90,379.40 512.75,377.30 513.60,375.20 514.23,375.77 514.85,376.35 515.48,376.93 516.10,378.36 516.72,378.41 517.34,378.28 517.96,377.42 518.59,377.09 519.21,377.41 519.83,377.73 520.45,377.90 521.07,377.98 521.69,377.70 522.31,378.63 522.94,377.66 523.56,378.03 524.18,378.85 524.80,378.75 525.40,377.84 526.00,377.75 526.60,378.77 527.20,377.35 527.80,377.57 528.40,378.30 529.00,378.31 529.60,377.65 530.20,377.45 530.80,377.74 531.40,378.76 532.00,378.22 532.60,379.15 533.20,378.81 533.80,379.17 534.40,377.47 535.00,377.75 535.60,377.45 536.20,378.21 536.80,378.05 537.40,377.54 538.00,378.43 538.60,377.63 539.20,378.03 539.80,377.92 540.40,378.92 541.00,378.24 541.60,377.96 542.20,378.40 543.30,376.00 544.00,371.20 544.80,377.18 545.42,377.84 546.04,378.17 546.66,378.22 547.27,378.62 547.89,378.40 548.51,377.36 549.13,377.13 549.75,378.21 550.37,378.24 550.99,377.70 551.61,378.25 552.23,377.72 552.84,377.20 553.46,376.97 554.08,376.66 554.70,377.76 555.30,378.27 555.91,378.35 556.51,377.61 557.11,378.03 557.72,378.56 558.32,378.41 558.92,378.09 559.52,377.81 560.13,378.05 560.73,377.48 561.33,377.56 561.94,378.52 562.54,379.13 563.14,378.39 563.75,378.20 564.35,378.15 564.95,378.40 565.55,379.08 566.16,378.51 566.76,379.48 567.36,378.09 567.97,378.43 568.57,378.86 569.17,378.72 569.78,379.57 570.38,379.59 570.98,379.83 571.58,379.31 572.19,378.32 572.79,379.36 573.39,379.37 574.00,379.32 574.60,379.00 575.22,379.83 575.84,380.26 576.46,378.86 577.09,379.93 577.71,379.45 578.33,379.77 578.95,380.51 579.57,380.69 580.19,380.17 580.81,379.42 581.44,380.79 582.06,379.51 582.68,379.93 583.30,380.20 583.95,380.60 584.60,381.00 585.80,334.10 586.40,357.55 587.00,381.00 587.75,379.50 588.50,378.00 589.50,375.70 590.12,375.40 590.75,375.10 591.38,374.80 592.00,375.09 592.62,374.26 593.23,374.27 593.85,375.59 594.46,375.67 595.08,374.63 595.69,374.86 596.31,374.75 596.92,374.58 597.54,374.88 598.15,376.29 598.77,374.76 599.38,375.12 600.00,375.16 600.60,374.95 601.21,375.77 601.81,376.17 602.41,376.35 603.01,375.99 603.62,376.34 604.22,374.88 604.82,375.39 605.42,376.62 606.03,375.03 606.63,375.40 607.23,375.80 607.83,375.42 608.44,375.93 609.04,375.04 609.64,375.39 610.24,376.70 610.85,375.25 611.45,376.63 612.05,375.33 612.66,376.81 613.26,376.25 613.86,376.21 614.46,375.31 615.07,375.16 615.67,376.44 616.27,375.40 616.87,375.44 617.48,376.59 618.08,376.69 618.68,375.21 619.28,376.87 619.89,376.11 620.49,375.85 621.09,375.36 621.69,375.88 622.30,376.97 622.90,375.71 623.51,375.49 624.13,375.57 624.74,375.59 625.36,376.05 625.97,377.11 626.58,375.66 627.20,375.92 627.81,377.31 628.42,377.47 629.04,377.49 629.65,376.22 630.27,376.47 630.88,377.60 631.49,376.81 632.11,377.26 632.72,376.61 633.34,376.14 633.95,376.77 634.56,377.55 635.18,377.66 635.79,377.33 636.41,377.20 637.02,377.38 637.63,377.26 638.25,377.48 638.86,378.07 639.48,376.99 640.09,377.75 640.70,378.41 641.32,378.31 641.93,377.16 642.54,378.62 643.16,378.45 643.77,377.30 644.39,377.53 645.00,377.46 645.61,377.25 646.21,378.96 646.82,377.99 647.43,378.88 648.04,377.56 648.64,377.43 649.25,379.02 649.86,378.94 650.47,379.35 651.07,378.85 651.68,378.61 652.29,379.09 652.90,377.93 653.50,378.79 654.11,378.66 654.72,378.18 655.32,379.05 655.93,378.60 656.54,378.98 657.15,378.80 657.75,378.75 658.36,378.87 658.97,379.36 659.58,380.09 660.18,380.07 660.79,379.98 661.40,379.99 662.00,379.05 662.61,380.34 663.22,379.12 663.83,378.91 664.43,379.64 665.04,380.11 665.65,379.46 666.26,380.05 666.86,379.45 667.47,380.74 668.08,379.86 668.69,379.96 669.29,380.11 669.90,380.10" fill="none" stroke="#111" stroke-width="1" stroke-linejoin="round" />
<rect x="481.0" y="240.2" width="189.0" height="160.10000000000002" fill="none" stroke="#333" stroke-width="1"/>
<line x1="481.00" y1="400.30" x2="481.00" y2="403.80" stroke="#333" stroke-width="1" />
<text x="481.00" y="416.60" font-size="10.7" text-anchor="middle" fill="#111" >200</text>
<line x1="496.75" y1="400.30" x2="496.75" y2="402.30" stroke="#333" stroke-width="1" />
<line x1="512.50" y1="400.30" x2="512.50" y2="403.80" stroke="#333" stroke-width="1" />
<text x="512.50" y="416.60" font-size="10.7" text-anchor="middle" fill="#111" >300</text>
<line x1="528.25" y1="400.30" x2="528.25" y2="402.30" stroke="#333" stroke-width="1" />
<line x1="544.00" y1="400.30" x2="544.00" y2="403.80" stroke="#333" stroke-width="1" />
<text x="544.00" y="416.60" font-size="10.7" text-anchor="middle" fill="#111" >400</text>
<line x1="559.75" y1="400.30" x2="559.75" y2="402.30" stroke="#333" stroke-width="1" />
<line x1="575.50" y1="400.30" x2="575.50" y2="403.80" stroke="#333" stroke-width="1" />
<text x="575.50" y="416.60" font-size="10.7" text-anchor="middle" fill="#111" >500</text>
<line x1="591.25" y1="400.30" x2="591.25" y2="402.30" stroke="#333" stroke-width="1" />
<line x1="607.00" y1="400.30" x2="607.00" y2="403.80" stroke="#333" stroke-width="1" />
<text x="607.00" y="416.60" font-size="10.7" text-anchor="middle" fill="#111" >600</text>
<line x1="622.75" y1="400.30" x2="622.75" y2="402.30" stroke="#333" stroke-width="1" />
<line x1="638.50" y1="400.30" x2="638.50" y2="403.80" stroke="#333" stroke-width="1" />
<text x="638.50" y="416.60" font-size="10.7" text-anchor="middle" fill="#111" >700</text>
<line x1="654.25" y1="400.30" x2="654.25" y2="402.30" stroke="#333" stroke-width="1" />
<line x1="670.00" y1="400.30" x2="670.00" y2="403.80" stroke="#333" stroke-width="1" />
<text x="670.00" y="416.60" font-size="10.7" text-anchor="middle" fill="#111" >800</text>
<text x="474.6" y="319" font-size="10.7" text-anchor="middle" fill="#111" transform="rotate(-90 474.6 319)">Intensity (a.u.)</text>
<text x="575.50" y="432.20" font-size="10.7" text-anchor="middle" fill="#111" >Binding energy (eV)</text>
<text x="507.00" y="265.00" font-size="10.7" text-anchor="middle" fill="#111" >C1s</text>
<text x="545.30" y="369.20" font-size="10.7" text-anchor="middle" fill="#111" >N1s</text>
<text x="585.30" y="330.30" font-size="10.7" text-anchor="middle" fill="#111" >O1s</text>
<text x="603.80" y="255.70" font-size="10.5" text-anchor="start" fill="#111" >C%:86.21</text>
<text x="603.80" y="270.10" font-size="10.5" text-anchor="start" fill="#111" >N%:2.96</text>
<text x="603.80" y="283.50" font-size="10.5" text-anchor="start" fill="#111" >O%:10.83</text>
<polygon points="68.00,624.62 68.50,624.60 69.00,624.59 69.50,624.57 70.00,624.55 70.50,624.52 71.00,624.49 71.50,624.46 72.00,624.42 72.50,624.37 73.00,624.32 73.50,624.26 74.00,624.18 74.50,624.09 75.00,623.99 75.50,623.88 76.00,623.75 76.50,623.59 77.00,623.42 77.50,623.22 78.00,622.99 78.50,622.72 79.00,622.43 79.50,622.09 80.00,621.71 80.50,621.28 81.00,620.80 81.50,620.26 82.00,619.66 82.50,618.99 83.00,618.25 83.50,617.42 84.00,616.51 84.50,615.51 85.00,614.41 85.50,613.20 86.00,611.88 86.50,610.45 87.00,608.89 87.50,607.21 88.00,605.39 88.50,603.43 89.00,601.34 89.50,599.09 90.00,596.70 90.50,594.17 91.00,591.48 91.50,588.64 92.00,585.66 92.50,582.53 93.00,579.26 93.50,575.86 94.00,572.34 94.50,568.69 95.00,564.94 95.50,561.09 96.00,557.16 96.50,553.16 97.00,549.11 97.50,545.02 98.00,540.92 98.50,536.82 99.00,532.75 99.50,528.73 100.00,524.77 100.50,520.90 101.00,517.15 101.50,513.54 102.00,510.08 102.50,506.81 103.00,503.73 103.50,500.89 104.00,498.28 104.50,495.94 105.00,493.87 105.50,492.10 106.00,490.63 106.50,489.47 107.00,488.64 107.50,488.14 108.00,487.97 108.50,488.11 109.00,488.55 109.50,489.28 110.00,490.29 110.50,491.57 111.00,493.13 111.50,494.95 112.00,497.01 112.50,499.32 113.00,501.84 113.50,504.57 114.00,507.49 114.50,510.58 115.00,513.83 115.50,517.22 116.00,520.72 116.50,524.33 117.00,528.02 117.50,531.77 118.00,535.57 118.50,539.39 119.00,543.22 119.50,547.05 120.00,550.86 120.50,554.62 121.00,558.34 121.50,561.99 122.00,565.57 122.50,569.07 123.00,572.46 123.50,575.76 124.00,578.94 124.50,582.01 125.00,584.95 125.50,587.77 126.00,590.46 126.50,593.02 127.00,595.46 127.50,597.76 128.00,599.93 128.50,601.97 129.00,603.89 129.50,605.68 130.00,607.36 130.50,608.92 131.00,610.37 131.50,611.71 132.00,612.94 132.50,614.08 133.00,615.13 133.50,616.09 134.00,616.97 134.50,617.77 135.00,618.50 135.50,619.16 136.00,619.76 136.50,620.30 137.00,620.78 137.50,621.22 138.00,621.61 138.50,621.96 139.00,622.27 139.50,622.55 140.00,622.79 140.50,623.01 141.00,623.20 141.50,623.37 142.00,623.52 142.50,623.65 143.00,623.77 143.50,623.86 144.00,623.95 144.50,624.03 145.00,624.09 145.50,624.15 146.00,624.19 146.50,624.23 147.00,624.27 147.50,624.30 148.00,624.33 148.50,624.35 149.00,624.36 149.50,624.38 150.00,624.39 150.50,624.40 150.50,624.46 150.00,624.46 149.50,624.46 149.00,624.47 148.50,624.47 148.00,624.47 147.50,624.47 147.00,624.47 146.50,624.47 146.00,624.47 145.50,624.47 145.00,624.48 144.50,624.48 144.00,624.48 143.50,624.48 143.00,624.48 142.50,624.48 142.00,624.48 141.50,624.48 141.00,624.49 140.50,624.49 140.00,624.49 139.50,624.49 139.00,624.49 138.50,624.49 138.00,624.49 137.50,624.50 137.00,624.50 136.50,624.50 136.00,624.50 135.50,624.50 135.00,624.50 134.50,624.50 134.00,624.50 133.50,624.50 133.00,624.51 132.50,624.51 132.00,624.51 131.50,624.51 131.00,624.51 130.50,624.51 130.00,624.51 129.50,624.51 129.00,624.52 128.50,624.52 128.00,624.52 127.50,624.52 127.00,624.52 126.50,624.52 126.00,624.52 125.50,624.52 125.00,624.53 124.50,624.53 124.00,624.53 123.50,624.53 123.00,624.53 122.50,624.53 122.00,624.53 121.50,624.53 121.00,624.54 120.50,624.54 120.00,624.54 119.50,624.54 119.00,624.54 118.50,624.54 118.00,624.54 117.50,624.54 117.00,624.55 116.50,624.55 116.00,624.55 115.50,624.55 115.00,624.55 114.50,624.55 114.00,624.55 113.50,624.55 113.00,624.56 112.50,624.56 112.00,624.56 111.50,624.56 111.00,624.56 110.50,624.56 110.00,624.56 109.50,624.56 109.00,624.57 108.50,624.57 108.00,624.57 107.50,624.57 107.00,624.57 106.50,624.57 106.00,624.57 105.50,624.57 105.00,624.58 104.50,624.58 104.00,624.58 103.50,624.58 103.00,624.58 102.50,624.58 102.00,624.58 101.50,624.58 101.00,624.59 100.50,624.59 100.00,624.59 99.50,624.59 99.00,624.59 98.50,624.59 98.00,624.59 97.50,624.59 97.00,624.60 96.50,624.60 96.00,624.60 95.50,624.60 95.00,624.60 94.50,624.60 94.00,624.60 93.50,624.60 93.00,624.61 92.50,624.61 92.00,624.61 91.50,624.61 91.00,624.61 90.50,624.61 90.00,624.61 89.50,624.62 89.00,624.62 88.50,624.62 88.00,624.62 87.50,624.62 87.00,624.62 86.50,624.62 86.00,624.62 85.50,624.62 85.00,624.63 84.50,624.63 84.00,624.63 83.50,624.63 83.00,624.63 82.50,624.63 82.00,624.63 81.50,624.63 81.00,624.64 80.50,624.64 80.00,624.64 79.50,624.64 79.00,624.64 78.50,624.64 78.00,624.64 77.50,624.64 77.00,624.65 76.50,624.65 76.00,624.65 75.50,624.65 75.00,624.65 74.50,624.65 74.00,624.65 73.50,624.65 73.00,624.66 72.50,624.66 72.00,624.66 71.50,624.66 71.00,624.66 70.50,624.66 70.00,624.66 69.50,624.66 69.00,624.67 68.50,624.67 68.00,624.67" fill="#F2A98F" stroke="none" stroke-width="1" />
<polygon points="15.50,624.80 16.00,624.80 16.50,624.80 17.00,624.80 17.50,624.79 18.00,624.79 18.50,624.79 19.00,624.79 19.50,624.79 20.00,624.79 20.50,624.79 21.00,624.79 21.50,624.78 22.00,624.78 22.50,624.78 23.00,624.78 23.50,624.78 24.00,624.78 24.50,624.78 25.00,624.78 25.50,624.77 26.00,624.77 26.50,624.77 27.00,624.77 27.50,624.77 28.00,624.77 28.50,624.77 29.00,624.77 29.50,624.76 30.00,624.76 30.50,624.76 31.00,624.76 31.50,624.76 32.00,624.76 32.50,624.76 33.00,624.76 33.50,624.75 34.00,624.75 34.50,624.75 35.00,624.75 35.50,624.75 36.00,624.75 36.50,624.75 37.00,624.75 37.50,624.74 38.00,624.74 38.50,624.74 39.00,624.74 39.50,624.74 40.00,624.74 40.50,624.74 41.00,624.74 41.50,624.73 42.00,624.73 42.50,624.73 43.00,624.73 43.50,624.73 44.00,624.73 44.50,624.73 45.00,624.73 45.50,624.72 46.00,624.72 46.50,624.72 47.00,624.72 47.50,624.72 48.00,624.72 48.50,624.72 49.00,624.71 49.50,624.71 50.00,624.71 50.50,624.71 51.00,624.71 51.50,624.71 52.00,624.70 52.50,624.70 53.00,624.70 53.50,624.70 54.00,624.70 54.50,624.69 55.00,624.69 55.50,624.69 56.00,624.69 56.50,624.68 57.00,624.68 57.50,624.68 58.00,624.68 58.50,624.67 59.00,624.67 59.50,624.67 60.00,624.66 60.50,624.66 61.00,624.66 61.50,624.65 62.00,624.65 62.50,624.64 63.00,624.64 63.50,624.63 64.00,624.62 64.50,624.62 65.00,624.61 65.50,624.60 66.00,624.60 66.50,624.59 67.00,624.58 67.50,624.57 68.00,624.56 68.50,624.55 69.00,624.54 69.50,624.52 70.00,624.51 70.50,624.50 71.00,624.48 71.50,624.47 72.00,624.45 72.50,624.43 73.00,624.41 73.50,624.39 74.00,624.37 74.50,624.35 75.00,624.33 75.50,624.30 76.00,624.27 76.50,624.25 77.00,624.22 77.50,624.18 78.00,624.15 78.50,624.12 79.00,624.08 79.50,624.04 80.00,624.00 80.50,623.96 81.00,623.91 81.50,623.87 82.00,623.82 82.50,623.77 83.00,623.71 83.50,623.66 84.00,623.60 84.50,623.54 85.00,623.48 85.50,623.41 86.00,623.34 86.50,623.27 87.00,623.20 87.50,623.13 88.00,623.05 88.50,622.97 89.00,622.89 89.50,622.80 90.00,622.71 90.50,622.63 91.00,622.53 91.50,622.44 92.00,622.34 92.50,622.24 93.00,622.14 93.50,622.04 94.00,621.94 94.50,621.83 95.00,621.72 95.50,621.62 96.00,621.51 96.50,621.39 97.00,621.28 97.50,621.17 98.00,621.05 98.50,620.94 99.00,620.82 99.50,620.71 100.00,620.59 100.50,620.48 101.00,620.36 101.50,620.25 102.00,620.14 102.50,620.02 103.00,619.91 103.50,619.80 104.00,619.69 104.50,619.59 105.00,619.49 105.50,619.38 106.00,619.29 106.50,619.19 107.00,619.10 107.50,619.01 108.00,618.92 108.50,618.84 109.00,618.76 109.50,618.69 110.00,618.61 110.50,618.55 111.00,618.49 111.50,618.43 112.00,618.38 112.50,618.33 113.00,618.29 113.50,618.25 114.00,618.22 114.50,618.20 115.00,618.18 115.50,618.16 116.00,618.15 116.50,618.15 117.00,618.15 117.50,618.16 118.00,618.17 118.50,618.19 119.00,618.21 119.50,618.24 120.00,618.27 120.50,618.31 121.00,618.36 121.50,618.41 122.00,618.46 122.50,618.52 123.00,618.58 123.50,618.65 124.00,618.72 124.50,618.80 125.00,618.88 125.50,618.96 126.00,619.05 126.50,619.14 127.00,619.23 127.50,619.33 128.00,619.43 128.50,619.53 129.00,619.63 129.50,619.74 130.00,619.84 130.50,619.95 131.00,620.06 131.50,620.17 132.00,620.29 132.50,620.40 133.00,620.51 133.50,620.62 134.00,620.74 134.50,620.85 135.00,620.96 135.50,621.07 136.00,621.18 136.50,621.29 137.00,621.40 137.50,621.51 138.00,621.62 138.50,621.72 139.00,621.83 139.50,621.93 140.00,622.03 140.50,622.12 141.00,622.22 141.50,622.31 142.00,622.41 142.50,622.50 143.00,622.58 143.50,622.67 144.00,622.75 144.50,622.83 145.00,622.91 145.50,622.98 146.00,623.05 146.50,623.12 147.00,623.19 147.50,623.26 148.00,623.32 148.50,623.38 149.00,623.44 149.50,623.49 150.00,623.55 150.50,623.60 151.00,623.64 151.50,623.69 152.00,623.74 152.50,623.78 153.00,623.82 153.50,623.86 154.00,623.89 154.50,623.93 155.00,623.96 155.50,623.99 156.00,624.02 156.50,624.05 157.00,624.07 157.50,624.10 158.00,624.12 158.50,624.14 159.00,624.16 159.50,624.18 160.00,624.20 160.50,624.21 161.00,624.23 161.50,624.24 162.00,624.26 162.50,624.27 163.00,624.28 163.50,624.29 164.00,624.30 164.50,624.31 165.00,624.32 165.50,624.32 166.00,624.33 166.50,624.34 167.00,624.34 167.50,624.35 168.00,624.35 168.50,624.36 169.00,624.36 169.50,624.37 170.00,624.37 170.50,624.37 171.00,624.37 171.50,624.38 172.00,624.38 172.50,624.38 173.00,624.38 173.50,624.38 174.00,624.38 174.50,624.38 175.00,624.38 175.50,624.38 176.00,624.38 176.50,624.38 177.00,624.38 177.50,624.38 178.00,624.38 178.50,624.38 179.00,624.38 179.50,624.38 180.00,624.38 180.50,624.38 181.00,624.38 181.50,624.38 182.00,624.38 182.50,624.38 183.00,624.38 183.50,624.38 184.00,624.38 184.50,624.38 185.00,624.37 185.50,624.37 186.00,624.37 186.50,624.37 187.00,624.37 187.50,624.37 188.00,624.37 188.50,624.37 189.00,624.37 189.50,624.36 190.00,624.36 190.50,624.36 191.00,624.36 191.50,624.36 192.00,624.36 192.50,624.36 193.00,624.36 193.50,624.35 194.00,624.35 194.50,624.35 195.00,624.35 195.50,624.35 196.00,624.35 196.50,624.35 197.00,624.35 197.50,624.34 198.00,624.34 198.50,624.34 199.00,624.34 199.50,624.34 200.00,624.34 200.50,624.34 201.00,624.34 201.50,624.33 202.00,624.33 202.50,624.33 203.00,624.33 203.50,624.33 204.00,624.33 204.50,624.33 205.00,624.33 205.50,624.32 206.00,624.32 206.50,624.32 207.00,624.32 207.50,624.32 208.00,624.32 208.50,624.32 209.00,624.32 209.50,624.31 210.00,624.31 210.50,624.31 211.00,624.31 211.50,624.31 212.00,624.31 212.50,624.31 213.00,624.31 213.50,624.30 214.00,624.30 214.50,624.30 214.50,624.30 214.00,624.30 213.50,624.30 213.00,624.31 212.50,624.31 212.00,624.31 211.50,624.31 211.00,624.31 210.50,624.31 210.00,624.31 209.50,624.31 209.00,624.32 208.50,624.32 208.00,624.32 207.50,624.32 207.00,624.32 206.50,624.32 206.00,624.32 205.50,624.32 205.00,624.33 204.50,624.33 204.00,624.33 203.50,624.33 203.00,624.33 202.50,624.33 202.00,624.33 201.50,624.33 201.00,624.34 200.50,624.34 200.00,624.34 199.50,624.34 199.00,624.34 198.50,624.34 198.00,624.34 197.50,624.34 197.00,624.35 196.50,624.35 196.00,624.35 195.50,624.35 195.00,624.35 194.50,624.35 194.00,624.35 193.50,624.35 193.00,624.36 192.50,624.36 192.00,624.36 191.50,624.36 191.00,624.36 190.50,624.36 190.00,624.36 189.50,624.37 189.00,624.37 188.50,624.37 188.00,624.37 187.50,624.37 187.00,624.37 186.50,624.37 186.00,624.37 185.50,624.38 185.00,624.38 184.50,624.38 184.00,624.38 183.50,624.38 183.00,624.38 182.50,624.38 182.00,624.38 181.50,624.38 181.00,624.39 180.50,624.39 180.00,624.39 179.50,624.39 179.00,624.39 178.50,624.39 178.00,624.39 177.50,624.39 177.00,624.40 176.50,624.40 176.00,624.40 175.50,624.40 175.00,624.40 174.50,624.40 174.00,624.40 173.50,624.40 173.00,624.41 172.50,624.41 172.00,624.41 171.50,624.41 171.00,624.41 170.50,624.41 170.00,624.41 169.50,624.41 169.00,624.42 168.50,624.42 168.00,624.42 167.50,624.42 167.00,624.42 166.50,624.42 166.00,624.42 165.50,624.42 165.00,624.43 164.50,624.43 164.00,624.43 163.50,624.43 163.00,624.43 162.50,624.43 162.00,624.43 161.50,624.43 161.00,624.44 160.50,624.44 160.00,624.44 159.50,624.44 159.00,624.44 158.50,624.44 158.00,624.44 157.50,624.44 157.00,624.45 156.50,624.45 156.00,624.45 155.50,624.45 155.00,624.45 154.50,624.45 154.00,624.45 153.50,624.45 153.00,624.46 152.50,624.46 152.00,624.46 151.50,624.46 151.00,624.46 150.50,624.46 150.00,624.46 149.50,624.46 149.00,624.47 148.50,624.47 148.00,624.47 147.50,624.47 147.00,624.47 146.50,624.47 146.00,624.47 145.50,624.47 145.00,624.48 144.50,624.48 144.00,624.48 143.50,624.48 143.00,624.48 142.50,624.48 142.00,624.48 141.50,624.48 141.00,624.49 140.50,624.49 140.00,624.49 139.50,624.49 139.00,624.49 138.50,624.49 138.00,624.49 137.50,624.50 137.00,624.50 136.50,624.50 136.00,624.50 135.50,624.50 135.00,624.50 134.50,624.50 134.00,624.50 133.50,624.50 133.00,624.51 132.50,624.51 132.00,624.51 131.50,624.51 131.00,624.51 130.50,624.51 130.00,624.51 129.50,624.51 129.00,624.52 128.50,624.52 128.00,624.52 127.50,624.52 127.00,624.52 126.50,624.52 126.00,624.52 125.50,624.52 125.00,624.53 124.50,624.53 124.00,624.53 123.50,624.53 123.00,624.53 122.50,624.53 122.00,624.53 121.50,624.53 121.00,624.54 120.50,624.54 120.00,624.54 119.50,624.54 119.00,624.54 118.50,624.54 118.00,624.54 117.50,624.54 117.00,624.55 116.50,624.55 116.00,624.55 115.50,624.55 115.00,624.55 114.50,624.55 114.00,624.55 113.50,624.55 113.00,624.56 112.50,624.56 112.00,624.56 111.50,624.56 111.00,624.56 110.50,624.56 110.00,624.56 109.50,624.56 109.00,624.57 108.50,624.57 108.00,624.57 107.50,624.57 107.00,624.57 106.50,624.57 106.00,624.57 105.50,624.57 105.00,624.58 104.50,624.58 104.00,624.58 103.50,624.58 103.00,624.58 102.50,624.58 102.00,624.58 101.50,624.58 101.00,624.59 100.50,624.59 100.00,624.59 99.50,624.59 99.00,624.59 98.50,624.59 98.00,624.59 97.50,624.59 97.00,624.60 96.50,624.60 96.00,624.60 95.50,624.60 95.00,624.60 94.50,624.60 94.00,624.60 93.50,624.60 93.00,624.61 92.50,624.61 92.00,624.61 91.50,624.61 91.00,624.61 90.50,624.61 90.00,624.61 89.50,624.62 89.00,624.62 88.50,624.62 88.00,624.62 87.50,624.62 87.00,624.62 86.50,624.62 86.00,624.62 85.50,624.62 85.00,624.63 84.50,624.63 84.00,624.63 83.50,624.63 83.00,624.63 82.50,624.63 82.00,624.63 81.50,624.63 81.00,624.64 80.50,624.64 80.00,624.64 79.50,624.64 79.00,624.64 78.50,624.64 78.00,624.64 77.50,624.64 77.00,624.65 76.50,624.65 76.00,624.65 75.50,624.65 75.00,624.65 74.50,624.65 74.00,624.65 73.50,624.65 73.00,624.66 72.50,624.66 72.00,624.66 71.50,624.66 71.00,624.66 70.50,624.66 70.00,624.66 69.50,624.66 69.00,624.67 68.50,624.67 68.00,624.67 67.50,624.67 67.00,624.67 66.50,624.67 66.00,624.67 65.50,624.67 65.00,624.68 64.50,624.68 64.00,624.68 63.50,624.68 63.00,624.68 62.50,624.68 62.00,624.68 61.50,624.68 61.00,624.69 60.50,624.69 60.00,624.69 59.50,624.69 59.00,624.69 58.50,624.69 58.00,624.69 57.50,624.69 57.00,624.70 56.50,624.70 56.00,624.70 55.50,624.70 55.00,624.70 54.50,624.70 54.00,624.70 53.50,624.70 53.00,624.71 52.50,624.71 52.00,624.71 51.50,624.71 51.00,624.71 50.50,624.71 50.00,624.71 49.50,624.71 49.00,624.72 48.50,624.72 48.00,624.72 47.50,624.72 47.00,624.72 46.50,624.72 46.00,624.72 45.50,624.72 45.00,624.73 44.50,624.73 44.00,624.73 43.50,624.73 43.00,624.73 42.50,624.73 42.00,624.73 41.50,624.73 41.00,624.74 40.50,624.74 40.00,624.74 39.50,624.74 39.00,624.74 38.50,624.74 38.00,624.74 37.50,624.75 37.00,624.75 36.50,624.75 36.00,624.75 35.50,624.75 35.00,624.75 34.50,624.75 34.00,624.75 33.50,624.75 33.00,624.76 32.50,624.76 32.00,624.76 31.50,624.76 31.00,624.76 30.50,624.76 30.00,624.76 29.50,624.76 29.00,624.77 28.50,624.77 28.00,624.77 27.50,624.77 27.00,624.77 26.50,624.77 26.00,624.77 25.50,624.77 25.00,624.78 24.50,624.78 24.00,624.78 23.50,624.78 23.00,624.78 22.50,624.78 22.00,624.78 21.50,624.78 21.00,624.79 20.50,624.79 20.00,624.79 19.50,624.79 19.00,624.79 18.50,624.79 18.00,624.79 17.50,624.79 17.00,624.80 16.50,624.80 16.00,624.80 15.50,624.80" fill="#3CC272" stroke="none" stroke-width="1" />
<polygon points="152.00,624.41 152.50,624.39 153.00,624.38 153.50,624.36 154.00,624.34 154.50,624.31 155.00,624.28 155.50,624.24 156.00,624.20 156.50,624.15 157.00,624.10 157.50,624.03 158.00,623.96 158.50,623.88 159.00,623.78 159.50,623.67 160.00,623.55 160.50,623.42 161.00,623.28 161.50,623.11 162.00,622.94 162.50,622.75 163.00,622.54 163.50,622.32 164.00,622.08 164.50,621.83 165.00,621.57 165.50,621.29 166.00,621.01 166.50,620.72 167.00,620.42 167.50,620.11 168.00,619.81 168.50,619.51 169.00,619.21 169.50,618.92 170.00,618.64 170.50,618.38 171.00,618.13 171.50,617.90 172.00,617.70 172.50,617.52 173.00,617.38 173.50,617.26 174.00,617.17 174.50,617.12 175.00,617.10 175.50,617.12 176.00,617.17 176.50,617.25 177.00,617.37 177.50,617.51 178.00,617.68 178.50,617.89 179.00,618.11 179.50,618.35 180.00,618.62 180.50,618.89 181.00,619.18 181.50,619.47 182.00,619.77 182.50,620.08 183.00,620.38 183.50,620.67 184.00,620.96 184.50,621.25 185.00,621.52 185.50,621.78 186.00,622.03 186.50,622.26 187.00,622.48 187.50,622.68 188.00,622.87 188.50,623.05 189.00,623.21 189.50,623.35 190.00,623.48 190.50,623.60 191.00,623.70 191.50,623.79 192.00,623.87 192.50,623.95 193.00,624.01 193.50,624.06 194.00,624.11 194.50,624.15 195.00,624.18 195.50,624.21 196.00,624.23 196.50,624.25 197.00,624.27 197.50,624.28 198.00,624.29 198.00,624.34 197.50,624.34 197.00,624.35 196.50,624.35 196.00,624.35 195.50,624.35 195.00,624.35 194.50,624.35 194.00,624.35 193.50,624.35 193.00,624.36 192.50,624.36 192.00,624.36 191.50,624.36 191.00,624.36 190.50,624.36 190.00,624.36 189.50,624.37 189.00,624.37 188.50,624.37 188.00,624.37 187.50,624.37 187.00,624.37 186.50,624.37 186.00,624.37 185.50,624.38 185.00,624.38 184.50,624.38 184.00,624.38 183.50,624.38 183.00,624.38 182.50,624.38 182.00,624.38 181.50,624.38 181.00,624.39 180.50,624.39 180.00,624.39 179.50,624.39 179.00,624.39 178.50,624.39 178.00,624.39 177.50,624.39 177.00,624.40 176.50,624.40 176.00,624.40 175.50,624.40 175.00,624.40 174.50,624.40 174.00,624.40 173.50,624.40 173.00,624.41 172.50,624.41 172.00,624.41 171.50,624.41 171.00,624.41 170.50,624.41 170.00,624.41 169.50,624.41 169.00,624.42 168.50,624.42 168.00,624.42 167.50,624.42 167.00,624.42 166.50,624.42 166.00,624.42 165.50,624.42 165.00,624.43 164.50,624.43 164.00,624.43 163.50,624.43 163.00,624.43 162.50,624.43 162.00,624.43 161.50,624.43 161.00,624.44 160.50,624.44 160.00,624.44 159.50,624.44 159.00,624.44 158.50,624.44 158.00,624.44 157.50,624.44 157.00,624.45 156.50,624.45 156.00,624.45 155.50,624.45 155.00,624.45 154.50,624.45 154.00,624.45 153.50,624.45 153.00,624.46 152.50,624.46 152.00,624.46" fill="#BEB9DC" stroke="none" stroke-width="1" />
<polyline points="152.00,624.41 152.50,624.39 153.00,624.38 153.50,624.36 154.00,624.34 154.50,624.31 155.00,624.28 155.50,624.24 156.00,624.20 156.50,624.15 157.00,624.10 157.50,624.03 158.00,623.96 158.50,623.88 159.00,623.78 159.50,623.67 160.00,623.55 160.50,623.42 161.00,623.28 161.50,623.11 162.00,622.94 162.50,622.75 163.00,622.54 163.50,622.32 164.00,622.08 164.50,621.83 165.00,621.57 165.50,621.29 166.00,621.01 166.50,620.72 167.00,620.42 167.50,620.11 168.00,619.81 168.50,619.51 169.00,619.21 169.50,618.92 170.00,618.64 170.50,618.38 171.00,618.13 171.50,617.90 172.00,617.70 172.50,617.52 173.00,617.38 173.50,617.26 174.00,617.17 174.50,617.12 175.00,617.10 175.50,617.12" fill="none" stroke="#3344dd" stroke-width="0.8" stroke-linejoin="round" />
<line x1="70.00" y1="624.66" x2="205.00" y2="624.33" stroke="#2233bb" stroke-width="1" />
<polyline points="15.50,624.92 16.00,625.04 16.50,625.09 17.00,625.24 17.50,625.03 18.00,625.22 18.50,624.32 19.00,624.76 19.50,625.23 20.00,624.94 20.50,625.19 21.00,624.40 21.50,624.75 22.00,624.53 22.50,624.83 23.00,624.86 23.50,624.29 24.00,624.50 24.50,624.56 25.00,625.19 25.50,625.04 26.00,624.43 26.50,625.07 27.00,624.41 27.50,624.89 28.00,624.40 28.50,624.27 29.00,625.14 29.50,624.47 30.00,624.48 30.50,625.24 31.00,625.13 31.50,624.55 32.00,625.22 32.50,624.80 33.00,624.93 33.50,624.46 34.00,625.19 34.50,624.94 35.00,625.22 35.50,625.14 36.00,624.55 36.50,624.61 37.00,624.41 37.50,624.39 38.00,624.31 38.50,624.54 39.00,624.84 39.50,624.24 40.00,624.92 40.50,624.58 41.00,624.55 41.50,625.05 42.00,624.71 42.50,624.55 43.00,624.71 43.50,624.93 44.00,624.29 44.50,625.20 45.00,624.25 45.50,624.97 46.00,625.07 46.50,624.24 47.00,625.01 47.50,624.58 48.00,624.80 48.50,624.22 49.00,624.26 49.50,624.39 50.00,625.17 50.50,624.41 51.00,624.96 51.50,625.14 52.00,625.15 52.50,624.55 53.00,624.56 53.50,624.72 54.00,624.97 54.50,624.30 55.00,624.94 55.50,624.99 56.00,625.05 56.50,624.22 57.00,625.13 57.50,624.27 58.00,624.52 58.50,624.78 59.00,625.09 59.50,624.51 60.00,625.09 60.50,624.70 61.00,624.46 61.50,624.46 62.00,624.32 62.50,624.21 63.00,624.28 63.50,624.81 64.00,625.11 64.50,624.27 65.00,624.14 65.50,625.07 66.00,624.61 66.50,624.46 67.00,624.28 67.50,624.62 68.00,624.83 68.50,624.44 69.00,624.38 69.50,623.99 70.00,624.81 70.50,623.89 71.00,624.31 71.50,624.61 72.00,623.84 72.50,624.38 73.00,624.53 73.50,624.12 74.00,624.19 74.50,623.40 75.00,623.60 75.50,623.18 76.00,623.72 76.50,622.99 77.00,622.94 77.50,623.25 78.00,622.85 78.50,622.67 79.00,621.82 79.50,621.48 80.00,621.30 80.50,620.58 81.00,619.87 81.50,619.40 82.00,618.49 82.50,618.00 83.00,617.82 83.50,616.91 84.00,615.61 84.50,614.42 85.00,613.10 85.50,611.58 86.00,610.38 86.50,609.38 87.00,607.84 87.50,605.57 88.00,604.10 88.50,602.06 89.00,599.80 89.50,597.44 90.00,595.06 90.50,592.04 91.00,589.60 91.50,586.25 92.00,583.38 92.50,580.44 93.00,576.99 93.50,573.10 94.00,570.12 94.50,566.07 95.00,562.14 95.50,557.62 96.00,554.11 96.50,549.71 97.00,545.96 97.50,541.56 98.00,537.70 98.50,533.32 99.00,529.28 99.50,524.69 100.00,520.92 100.50,517.03 101.00,513.26 101.50,509.05 102.00,505.97 102.50,502.62 103.00,499.25 103.50,496.59 104.00,493.85 104.50,490.97 105.00,488.81 105.50,486.57 106.00,485.67 106.50,484.52 107.00,483.14 107.50,482.77 108.00,482.54 108.50,482.61 109.00,482.42 109.50,483.68 110.00,484.42 110.50,485.73 111.00,486.98 111.50,488.94 112.00,491.11 112.50,493.23 113.00,495.79 113.50,497.79 114.00,500.82 114.50,504.17 115.00,507.61 115.50,510.55 116.00,514.51 116.50,518.06 117.00,521.16 117.50,525.35 118.00,528.92 118.50,532.59 119.00,536.53 119.50,540.57 120.00,544.27 120.50,548.09 121.00,551.70 121.50,555.83 122.00,559.38 122.50,563.16 123.00,566.60 123.50,569.61 124.00,573.54 124.50,575.78 125.00,579.21 125.50,581.99 126.00,584.90 126.50,587.26 127.00,590.50 127.50,592.44 128.00,594.37 128.50,597.10 129.00,598.60 129.50,600.95 130.00,602.53 130.50,604.44 131.00,606.38 131.50,607.69 132.00,608.64 132.50,610.29 133.00,611.28 133.50,612.08 134.00,612.85 134.50,614.21 135.00,615.02 135.50,616.19 136.00,616.91 136.50,617.20 137.00,617.54 137.50,618.63 138.00,618.23 138.50,618.80 139.00,619.67 139.50,620.10 140.00,619.97 140.50,620.78 141.00,621.33 141.50,621.08 142.00,621.38 142.50,621.39 143.00,621.66 143.50,622.52 144.00,622.10 144.50,622.84 145.00,622.93 145.50,622.75 146.00,622.53 146.50,623.36 147.00,622.98 147.50,623.00 148.00,622.99 148.50,623.73 149.00,623.31 149.50,623.18 150.00,623.43 150.50,623.13 151.00,623.68 151.50,623.55 152.00,623.44 152.50,623.97 153.00,624.04 153.50,623.25 154.00,623.79 154.50,623.55 155.00,624.21 155.50,624.06 156.00,623.51 156.50,623.51 157.00,623.37 157.50,624.17 158.00,623.42 158.50,623.68 159.00,623.47 159.50,623.56 160.00,623.41 160.50,623.44 161.00,622.68 161.50,623.18 162.00,622.56 162.50,622.62 163.00,622.22 163.50,621.98 164.00,621.98 164.50,621.68 165.00,621.32 165.50,621.44 166.00,621.01 166.50,620.17 167.00,620.09 167.50,620.00 168.00,620.16 168.50,619.84 169.00,619.20 169.50,618.38 170.00,618.87 170.50,618.26 171.00,618.17 171.50,618.08 172.00,617.80 172.50,617.48 173.00,617.76 173.50,617.12 174.00,617.04 174.50,617.45 175.00,616.78 175.50,616.90 176.00,617.48 176.50,616.80 177.00,617.69 177.50,617.70 178.00,617.61 178.50,617.66 179.00,618.38 179.50,618.76 180.00,618.25 180.50,618.86 181.00,619.22 181.50,619.47 182.00,619.60 182.50,619.73 183.00,620.46 183.50,620.98 184.00,620.53 184.50,620.98 185.00,621.84 185.50,622.07 186.00,622.19 186.50,621.79 187.00,622.70 187.50,623.16 188.00,623.37 188.50,623.25 189.00,622.75 189.50,623.69 190.00,623.20 190.50,623.74 191.00,624.15 191.50,624.00 192.00,623.51 192.50,623.74 193.00,624.42 193.50,623.71 194.00,624.22 194.50,624.06 195.00,623.84 195.50,624.33 196.00,623.78 196.50,623.86 197.00,624.15 197.50,623.85 198.00,623.85 198.50,624.38 199.00,624.55 199.50,624.69 200.00,623.95 200.50,624.25 201.00,624.14 201.50,624.43 202.00,624.32 202.50,624.76 203.00,624.20 203.50,623.88 204.00,624.52 204.50,623.98 205.00,624.46 205.50,624.33 206.00,624.73 206.50,624.38 207.00,624.44 207.50,624.08 208.00,624.37 208.50,624.07 209.00,624.57 209.50,624.33 210.00,623.95 210.50,624.05 211.00,624.18 211.50,624.55 212.00,623.99 212.50,624.52 213.00,624.46 213.50,623.89 214.00,624.47 214.50,623.89" fill="none" stroke="#888" stroke-width="1" stroke-linejoin="round" />
<polyline points="15.50,624.80 16.00,624.80 16.50,624.80 17.00,624.80 17.50,624.79 18.00,624.79 18.50,624.79 19.00,624.79 19.50,624.79 20.00,624.79 20.50,624.79 21.00,624.79 21.50,624.78 22.00,624.78 22.50,624.78 23.00,624.78 23.50,624.78 24.00,624.78 24.50,624.78 25.00,624.78 25.50,624.77 26.00,624.77 26.50,624.77 27.00,624.77 27.50,624.77 28.00,624.77 28.50,624.77 29.00,624.77 29.50,624.76 30.00,624.76 30.50,624.76 31.00,624.76 31.50,624.76 32.00,624.76 32.50,624.76 33.00,624.76 33.50,624.75 34.00,624.75 34.50,624.75 35.00,624.75 35.50,624.75 36.00,624.75 36.50,624.75 37.00,624.75 37.50,624.74 38.00,624.74 38.50,624.74 39.00,624.74 39.50,624.74 40.00,624.74 40.50,624.74 41.00,624.74 41.50,624.73 42.00,624.73 42.50,624.73 43.00,624.73 43.50,624.73 44.00,624.73 44.50,624.73 45.00,624.73 45.50,624.72 46.00,624.72 46.50,624.72 47.00,624.72 47.50,624.72 48.00,624.72 48.50,624.72 49.00,624.71 49.50,624.71 50.00,624.71 50.50,624.71 51.00,624.71 51.50,624.71 52.00,624.70 52.50,624.70 53.00,624.70 53.50,624.70 54.00,624.70 54.50,624.69 55.00,624.69 55.50,624.69 56.00,624.69 56.50,624.68 57.00,624.68 57.50,624.68 58.00,624.68 58.50,624.67 59.00,624.67 59.50,624.67 60.00,624.66 60.50,624.66 61.00,624.65 61.50,624.65 62.00,624.64 62.50,624.64 63.00,624.63 63.50,624.62 64.00,624.61 64.50,624.61 65.00,624.60 65.50,624.58 66.00,624.57 66.50,624.56 67.00,624.54 67.50,624.53 68.00,624.51 68.50,624.48 69.00,624.46 69.50,624.43 70.00,624.40 70.50,624.36 71.00,624.32 71.50,624.27 72.00,624.21 72.50,624.15 73.00,624.08 73.50,623.99 74.00,623.90 74.50,623.79 75.00,623.67 75.50,623.53 76.00,623.37 76.50,623.19 77.00,622.99 77.50,622.75 78.00,622.49 78.50,622.20 79.00,621.87 79.50,621.49 80.00,621.07 80.50,620.60 81.00,620.08 81.50,619.50 82.00,618.85 82.50,618.13 83.00,617.33 83.50,616.45 84.00,615.48 84.50,614.42 85.00,613.26 85.50,611.99 86.00,610.60 86.50,609.10 87.00,607.47 87.50,605.71 88.00,603.82 88.50,601.78 89.00,599.61 89.50,597.28 90.00,594.80 90.50,592.18 91.00,589.40 91.50,586.47 92.00,583.39 92.50,580.17 93.00,576.80 93.50,573.30 94.00,569.67 94.50,565.92 95.00,562.06 95.50,558.11 96.00,554.07 96.50,549.96 97.00,545.79 97.50,541.60 98.00,537.38 98.50,533.17 99.00,528.98 99.50,524.84 100.00,520.77 100.50,516.79 101.00,512.93 101.50,509.20 102.00,505.63 102.50,502.25 103.00,499.07 103.50,496.11 104.00,493.40 104.50,490.95 105.00,488.78 105.50,486.91 106.00,485.34 106.50,484.09 107.00,483.16 107.50,482.57 108.00,482.32 108.50,482.38 109.00,482.74 109.50,483.40 110.00,484.34 110.50,485.56 111.00,487.06 111.50,488.82 112.00,490.83 112.50,493.09 113.00,495.57 113.50,498.27 114.00,501.16 114.50,504.23 115.00,507.46 115.50,510.83 116.00,514.33 116.50,517.93 117.00,521.62 117.50,525.38 118.00,529.19 118.50,533.03 119.00,536.89 119.50,540.75 120.00,544.59 120.50,548.40 121.00,552.16 121.50,555.87 122.00,559.50 122.50,563.05 123.00,566.51 123.50,569.88 124.00,573.13 124.50,576.28 125.00,579.30 125.50,582.21 126.00,584.99 126.50,587.64 127.00,590.17 127.50,592.57 128.00,594.84 128.50,596.98 129.00,599.00 129.50,600.91 130.00,602.69 130.50,604.36 131.00,605.92 131.50,607.37 132.00,608.72 132.50,609.98 133.00,611.14 133.50,612.21 134.00,613.20 134.50,614.12 135.00,614.96 135.50,615.73 136.00,616.44 136.50,617.09 137.00,617.69 137.50,618.24 138.00,618.73 138.50,619.19 139.00,619.61 139.50,619.99 140.00,620.33 140.50,620.65 141.00,620.94 141.50,621.20 142.00,621.44 142.50,621.66 143.00,621.87 143.50,622.05 144.00,622.22 144.50,622.38 145.00,622.52 145.50,622.65 146.00,622.77 146.50,622.88 147.00,622.99 147.50,623.08 148.00,623.17 148.50,623.25 149.00,623.32 149.50,623.39 150.00,623.45 150.50,623.51 151.00,623.56 151.50,623.61 152.00,623.65 152.50,623.69 153.00,623.72 153.50,623.74 154.00,623.76 154.50,623.77 155.00,623.78 155.50,623.77 156.00,623.76 156.50,623.75 157.00,623.72 157.50,623.68 158.00,623.63 158.50,623.57 159.00,623.50 159.50,623.41 160.00,623.31 160.50,623.20 161.00,623.07 161.50,622.92 162.00,622.76 162.50,622.58 163.00,622.39 163.50,622.18 164.00,621.95 164.50,621.71 165.00,621.46 165.50,621.19 166.00,620.92 166.50,620.63 167.00,620.34 167.50,620.04 168.00,619.74 168.50,619.45 169.00,619.15 169.50,618.87 170.00,618.59 170.50,618.33 171.00,618.09 171.50,617.87 172.00,617.67 172.50,617.50 173.00,617.35 173.50,617.23 174.00,617.15 174.50,617.10 175.00,617.08 175.50,617.10 176.00,617.15 176.50,617.24 177.00,617.35 177.50,617.50 178.00,617.68 178.50,617.88 179.00,618.10 179.50,618.35 180.00,618.61 180.50,618.89 181.00,619.17 181.50,619.47 182.00,619.77 182.50,620.07 183.00,620.37 183.50,620.67 184.00,620.96 184.50,621.25 185.00,621.52 185.50,621.78 186.00,622.03 186.50,622.26 187.00,622.48 187.50,622.68 188.00,622.87 188.50,623.05 189.00,623.20 189.50,623.35 190.00,623.48 190.50,623.60 191.00,623.70 191.50,623.79 192.00,623.87 192.50,623.94 193.00,624.01 193.50,624.06 194.00,624.11 194.50,624.15 195.00,624.18 195.50,624.21 196.00,624.23 196.50,624.25 197.00,624.27 197.50,624.28 198.00,624.29 198.50,624.30 199.00,624.31 199.50,624.31 200.00,624.32 200.50,624.32 201.00,624.32 201.50,624.32 202.00,624.33 202.50,624.33 203.00,624.33 203.50,624.33 204.00,624.33 204.50,624.33 205.00,624.32 205.50,624.32 206.00,624.32 206.50,624.32 207.00,624.32 207.50,624.32 208.00,624.32 208.50,624.32 209.00,624.32 209.50,624.31 210.00,624.31 210.50,624.31 211.00,624.31 211.50,624.31 212.00,624.31 212.50,624.31 213.00,624.31 213.50,624.30 214.00,624.30 214.50,624.30" fill="none" stroke="#D6A02A" stroke-width="1.1" stroke-linejoin="round" />
<rect x="15.5" y="463.1" width="199.2" height="164.0" fill="none" stroke="#333" stroke-width="1"/>
<line x1="15.50" y1="627.10" x2="15.50" y2="630.60" stroke="#333" stroke-width="1" />
<text x="15.50" y="643.80" font-size="10.7" text-anchor="middle" fill="#111" >280</text>
<line x1="35.42" y1="627.10" x2="35.42" y2="629.10" stroke="#333" stroke-width="1" />
<line x1="55.34" y1="627.10" x2="55.34" y2="630.60" stroke="#333" stroke-width="1" />
<text x="55.34" y="643.80" font-size="10.7" text-anchor="middle" fill="#111" >282</text>
<line x1="75.26" y1="627.10" x2="75.26" y2="629.10" stroke="#333" stroke-width="1" />
<line x1="95.18" y1="627.10" x2="95.18" y2="630.60" stroke="#333" stroke-width="1" />
<text x="95.18" y="643.80" font-size="10.7" text-anchor="middle" fill="#111" >284</text>
<line x1="115.10" y1="627.10" x2="115.10" y2="629.10" stroke="#333" stroke-width="1" />
<line x1="135.02" y1="627.10" x2="135.02" y2="630.60" stroke="#333" stroke-width="1" />
<text x="135.02" y="643.80" font-size="10.7" text-anchor="middle" fill="#111" >286</text>
<line x1="154.94" y1="627.10" x2="154.94" y2="629.10" stroke="#333" stroke-width="1" />
<line x1="174.86" y1="627.10" x2="174.86" y2="630.60" stroke="#333" stroke-width="1" />
<text x="174.86" y="643.80" font-size="10.7" text-anchor="middle" fill="#111" >288</text>
<line x1="194.78" y1="627.10" x2="194.78" y2="629.10" stroke="#333" stroke-width="1" />
<line x1="214.70" y1="627.10" x2="214.70" y2="630.60" stroke="#333" stroke-width="1" />
<text x="214.70" y="643.80" font-size="10.7" text-anchor="middle" fill="#111" >290</text>
<text x="8.8" y="546.1" font-size="10.7" text-anchor="middle" fill="#111" transform="rotate(-90 8.8 546.1)">Intensity (a.u.)</text>
<text x="115.10" y="659.60" font-size="10.7" text-anchor="middle" fill="#111" >Binding energy (eV)</text>
<text x="26.90" y="484.80" font-size="10.7" text-anchor="start" fill="#111" >C1s</text>
<line x1="120.80" y1="473.80" x2="138.60" y2="473.80" stroke="#A0A0A0" stroke-width="1.6" />
<text x="143.80" y="477.00" font-size="9.1" text-anchor="start" fill="#222" >Raw</text>
<line x1="120.80" y1="485.40" x2="138.60" y2="485.40" stroke="#F5B49C" stroke-width="1.3" />
<text x="143.80" y="488.60" font-size="9.1" text-anchor="start" fill="#222" >C-C/C=C</text>
<line x1="120.80" y1="500.50" x2="138.60" y2="500.50" stroke="#C0BCE2" stroke-width="1.6" />
<text x="143.80" y="503.70" font-size="9.1" text-anchor="start" fill="#222" >(C=O)-O-</text>
<line x1="120.80" y1="514.30" x2="138.60" y2="514.30" stroke="#3DB374" stroke-width="1.3" />
<text x="143.80" y="517.50" font-size="9.1" text-anchor="start" fill="#222" >C-N</text>
<line x1="120.80" y1="525.60" x2="138.60" y2="525.60" stroke="#5570C8" stroke-width="1.6" />
<text x="143.80" y="528.80" font-size="9.1" text-anchor="start" fill="#222" >Background</text>
<line x1="120.80" y1="540.90" x2="138.60" y2="540.90" stroke="#E0B458" stroke-width="1.6" />
<text x="143.80" y="544.10" font-size="9.1" text-anchor="start" fill="#222" >Fitted curve</text>
<polygon points="315.10,615.70 315.60,615.67 316.10,615.63 316.60,615.57 317.10,615.50 317.60,615.42 318.10,615.33 318.60,615.21 319.10,615.08 319.60,614.92 320.10,614.74 320.60,614.53 321.10,614.29 321.60,614.01 322.10,613.70 322.60,613.34 323.10,612.93 323.60,612.48 324.10,611.97 324.60,611.40 325.10,610.77 325.60,610.06 326.10,609.28 326.60,608.42 327.10,607.47 327.60,606.43 328.10,605.30 328.60,604.06 329.10,602.72 329.60,601.26 330.10,599.69 330.60,598.00 331.10,596.19 331.60,594.25 332.10,592.18 332.60,589.99 333.10,587.66 333.60,585.21 334.10,582.63 334.60,579.92 335.10,577.09 335.60,574.14 336.10,571.09 336.60,567.93 337.10,564.67 337.60,561.33 338.10,557.92 338.60,554.44 339.10,550.92 339.60,547.37 340.10,543.80 340.60,540.23 341.10,536.67 341.60,533.15 342.10,529.69 342.60,526.30 343.10,523.01 343.60,519.83 344.10,516.78 344.60,513.89 345.10,511.17 345.60,508.63 346.10,506.30 346.60,504.20 347.10,502.32 347.60,500.70 348.10,499.34 348.60,498.25 349.10,497.44 349.60,496.92 350.10,496.68 350.60,496.73 351.10,497.05 351.60,497.63 352.10,498.48 352.60,499.59 353.10,500.94 353.60,502.54 354.10,504.37 354.60,506.42 355.10,508.68 355.60,511.13 356.10,513.76 356.60,516.55 357.10,519.49 357.60,522.55 358.10,525.73 358.60,529.00 359.10,532.35 359.60,535.75 360.10,539.20 360.60,542.68 361.10,546.16 361.60,549.64 362.10,553.10 362.60,556.52 363.10,559.90 363.60,563.22 364.10,566.46 364.60,569.63 365.10,572.70 365.60,575.68 366.10,578.56 366.60,581.33 367.10,583.99 367.60,586.53 368.10,588.95 368.60,591.26 369.10,593.44 369.60,595.50 370.10,597.45 370.60,599.28 371.10,600.99 371.60,602.59 372.10,604.09 372.60,605.47 373.10,606.76 373.60,607.95 374.10,609.05 374.60,610.06 375.10,610.99 375.60,611.84 376.10,612.61 376.60,613.32 377.10,613.97 377.60,614.55 378.10,615.08 378.60,615.56 379.10,615.99 379.60,616.38 380.10,616.73 380.60,617.05 381.10,617.33 381.60,617.58 382.10,617.81 382.60,618.01 383.10,618.19 383.60,618.35 384.10,618.50 384.60,618.63 385.10,618.74 385.60,618.84 386.10,618.94 386.60,619.02 386.60,619.36 386.10,619.34 385.60,619.32 385.10,619.29 384.60,619.27 384.10,619.25 383.60,619.22 383.10,619.20 382.60,619.18 382.10,619.15 381.60,619.13 381.10,619.11 380.60,619.08 380.10,619.06 379.60,619.04 379.10,619.01 378.60,618.99 378.10,618.97 377.60,618.94 377.10,618.92 376.60,618.90 376.10,618.87 375.60,618.85 375.10,618.82 374.60,618.80 374.10,618.78 373.60,618.75 373.10,618.73 372.60,618.71 372.10,618.68 371.60,618.66 371.10,618.64 370.60,618.61 370.10,618.59 369.60,618.57 369.10,618.54 368.60,618.52 368.10,618.50 367.60,618.47 367.10,618.45 366.60,618.43 366.10,618.40 365.60,618.38 365.10,618.36 364.60,618.33 364.10,618.31 363.60,618.29 363.10,618.26 362.60,618.24 362.10,618.22 361.60,618.19 361.10,618.17 360.60,618.15 360.10,618.12 359.60,618.10 359.10,618.08 358.60,618.05 358.10,618.03 357.60,618.01 357.10,617.98 356.60,617.96 356.10,617.94 355.60,617.91 355.10,617.89 354.60,617.87 354.10,617.84 353.60,617.82 353.10,617.80 352.60,617.77 352.10,617.75 351.60,617.73 351.10,617.70 350.60,617.68 350.10,617.65 349.60,617.63 349.10,617.61 348.60,617.58 348.10,617.56 347.60,617.54 347.10,617.51 346.60,617.49 346.10,617.47 345.60,617.44 345.10,617.42 344.60,617.40 344.10,617.37 343.60,617.35 343.10,617.33 342.60,617.30 342.10,617.28 341.60,617.26 341.10,617.23 340.60,617.21 340.10,617.19 339.60,617.16 339.10,617.14 338.60,617.12 338.10,617.09 337.60,617.07 337.10,617.05 336.60,617.02 336.10,617.00 335.60,616.98 335.10,616.95 334.60,616.93 334.10,616.91 333.60,616.88 333.10,616.86 332.60,616.84 332.10,616.81 331.60,616.79 331.10,616.77 330.60,616.74 330.10,616.72 329.60,616.70 329.10,616.67 328.60,616.65 328.10,616.63 327.60,616.60 327.10,616.58 326.60,616.56 326.10,616.53 325.60,616.51 325.10,616.48 324.60,616.46 324.10,616.44 323.60,616.41 323.10,616.39 322.60,616.37 322.10,616.34 321.60,616.32 321.10,616.30 320.60,616.27 320.10,616.25 319.60,616.23 319.10,616.20 318.60,616.18 318.10,616.16 317.60,616.13 317.10,616.11 316.60,616.09 316.10,616.06 315.60,616.04 315.10,616.02" fill="#F2A98F" stroke="none" stroke-width="1" />
<line x1="314.50" y1="615.99" x2="389.50" y2="619.50" stroke="#3a78e0" stroke-width="1" />
<polyline points="276.00,615.40 277.90,622.20 280.40,612.30 284.10,614.20 286.60,621.00 289.00,624.70 292.10,616.60 294.00,626.00 295.90,620.40 299.60,622.20 302.30,613.50 304.60,616.00 308.30,624.70 312.00,608.00 316.30,625.30 320.00,611.70 322.50,622.20 325.60,604.90 328.10,597.40 330.00,597.40 331.00,596.43 332.60,589.53 334.20,580.79 335.80,574.25 337.40,560.90 339.00,551.64 340.60,541.66 342.20,527.50 343.80,518.79 345.40,510.04 347.00,501.03 348.60,497.82 350.20,494.90 351.80,495.27 353.40,502.68 355.00,506.98 356.60,515.61 358.20,524.98 359.80,537.15 361.40,549.78 363.00,559.55 364.60,570.61 366.20,578.71 367.80,588.40 369.40,593.26 371.00,599.91 371.50,596.00 374.00,605.00 376.40,618.70 380.20,607.20 382.80,618.00 386.00,612.30 388.50,623.10 394.80,614.20 398.00,618.00 401.80,619.30 404.40,625.00 408.20,625.60 412.60,616.70 415.20,621.80 418.30,626.90 422.20,621.80 426.60,619.30 428.50,623.10 431.70,616.70 436.10,626.30 439.90,620.60 442.50,619.90 446.30,615.50 448.80,618.70" fill="none" stroke="#444" stroke-width="0.9" stroke-linejoin="round" />
<polyline points="248.60,612.90 250.00,612.90 252.40,617.90 254.90,619.50 258.00,617.50 261.10,619.10 263.90,611.10 265.80,619.10 268.00,624.70 270.40,616.60 273.80,605.50 275.80,614.80 276.10,614.19 276.60,614.22 277.10,614.24 277.60,614.26 278.10,614.29 278.60,614.31 279.10,614.33 279.60,614.36 280.10,614.38 280.60,614.40 281.10,614.43 281.60,614.45 282.10,614.47 282.60,614.50 283.10,614.52 283.60,614.54 284.10,614.57 284.60,614.59 285.10,614.61 285.60,614.64 286.10,614.66 286.60,614.68 287.10,614.71 287.60,614.73 288.10,614.75 288.60,614.78 289.10,614.80 289.60,614.82 290.10,614.85 290.60,614.87 291.10,614.89 291.60,614.92 292.10,614.94 292.60,614.96 293.10,614.99 293.60,615.01 294.10,615.03 294.60,615.06 295.10,615.08 295.60,615.10 296.10,615.13 296.60,615.15 297.10,615.17 297.60,615.20 298.10,615.22 298.60,615.24 299.10,615.27 299.60,615.29 300.10,615.31 300.60,615.34 301.10,615.36 301.60,615.38 302.10,615.41 302.60,615.43 303.10,615.45 303.60,615.48 304.10,615.50 304.60,615.52 305.10,615.54 305.60,615.56 306.10,615.59 306.60,615.61 307.10,615.63 307.60,615.65 308.10,615.67 308.60,615.68 309.10,615.70 309.60,615.72 310.10,615.73 310.60,615.74 311.10,615.75 311.60,615.76 312.10,615.77 312.60,615.77 313.10,615.77 313.60,615.76 314.10,615.75 314.60,615.73 315.10,615.70 315.60,615.67 316.10,615.63 316.60,615.57 317.10,615.50 317.60,615.42 318.10,615.33 318.60,615.21 319.10,615.08 319.60,614.92 320.10,614.74 320.60,614.53 321.10,614.29 321.60,614.01 322.10,613.70 322.60,613.34 323.10,612.93 323.60,612.48 324.10,611.97 324.60,611.40 325.10,610.77 325.60,610.06 326.10,609.28 326.60,608.42 327.10,607.47 327.60,606.43 328.10,605.30 328.60,604.06 329.10,602.72 329.60,601.26 330.10,599.69 330.60,598.00 331.10,596.19 331.60,594.25 332.10,592.18 332.60,589.99 333.10,587.66 333.60,585.21 334.10,582.63 334.60,579.92 335.10,577.09 335.60,574.14 336.10,571.09 336.60,567.93 337.10,564.67 337.60,561.33 338.10,557.92 338.60,554.44 339.10,550.92 339.60,547.37 340.10,543.80 340.60,540.23 341.10,536.67 341.60,533.15 342.10,529.69 342.60,526.30 343.10,523.01 343.60,519.83 344.10,516.78 344.60,513.89 345.10,511.17 345.60,508.63 346.10,506.30 346.60,504.20 347.10,502.32 347.60,500.70 348.10,499.34 348.60,498.25 349.10,497.44 349.60,496.92 350.10,496.68 350.60,496.73 351.10,497.05 351.60,497.63 352.10,498.48 352.60,499.59 353.10,500.94 353.60,502.54 354.10,504.37 354.60,506.42 355.10,508.68 355.60,511.13 356.10,513.76 356.60,516.55 357.10,519.49 357.60,522.55 358.10,525.73 358.60,529.00 359.10,532.35 359.60,535.75 360.10,539.20 360.60,542.68 361.10,546.16 361.60,549.64 362.10,553.10 362.60,556.52 363.10,559.90 363.60,563.22 364.10,566.46 364.60,569.63 365.10,572.70 365.60,575.68 366.10,578.56 366.60,581.33 367.10,583.99 367.60,586.53 368.10,588.95 368.60,591.26 369.10,593.44 369.60,595.50 370.10,597.45 370.60,599.28 371.10,600.99 371.60,602.59 372.10,604.09 372.60,605.47 373.10,606.76 373.60,607.95 374.10,609.05 374.60,610.06 375.10,610.99 375.60,611.84 376.10,612.61 376.60,613.32 377.10,613.97 377.60,614.55 378.10,615.08 378.60,615.56 379.10,615.99 379.60,616.38 380.10,616.73 380.60,617.05 381.10,617.33 381.60,617.58 382.10,617.81 382.60,618.01 383.10,618.19 383.60,618.35 384.10,618.50 384.60,618.63 385.10,618.74 385.60,618.84 386.10,618.94 386.60,619.02 387.10,619.09 387.60,619.16 388.10,619.22 388.60,619.28 389.10,619.33 389.60,619.38 390.10,619.42 390.60,619.46 391.10,619.50 391.60,619.54 392.10,619.57 392.60,619.60 393.10,619.63 393.60,619.66 394.10,619.69 394.60,619.72 395.10,619.74 395.60,619.77 396.10,619.80 396.60,619.82 397.10,619.85 397.60,619.87 398.10,619.90 398.60,619.92 399.10,619.95 399.60,619.97 400.10,619.99 400.60,620.02 401.10,620.04 401.60,620.06 402.10,620.09 402.60,620.11 403.10,620.13 403.60,620.16 404.10,620.18 404.60,620.21 405.10,620.23 405.60,620.25 406.10,620.28 406.60,620.30 407.10,620.32 407.60,620.35 408.10,620.37 408.60,620.39 409.10,620.42 409.60,620.44 410.10,620.46 410.60,620.49 411.10,620.51 411.60,620.53 412.10,620.56 412.60,620.58 413.10,620.60 413.60,620.63 414.10,620.65 414.60,620.67 415.10,620.70 415.60,620.72 416.10,620.74 416.60,620.77 417.10,620.79 417.60,620.81 418.10,620.84 418.60,620.86 419.10,620.88 419.60,620.91 420.10,620.93 420.60,620.95 421.10,620.98 421.60,621.00 422.10,621.02 422.60,621.05 423.10,621.07 423.60,621.09 424.10,621.12 424.60,621.14 425.10,621.16 425.60,621.19 426.10,621.21 426.60,621.24 427.10,621.26 427.60,621.28 428.10,621.31 428.60,621.33 429.10,621.35 429.60,621.38 430.10,621.40 430.60,621.42 431.10,621.45 431.60,621.47 432.10,621.49 432.60,621.52 433.10,621.54 433.60,621.56 434.10,621.59 434.60,621.61 435.10,621.63 435.60,621.66 436.10,621.68 436.60,621.70 437.10,621.73 437.60,621.75 438.10,621.77 438.60,621.80 439.10,621.82 439.60,621.84 440.10,621.87 440.60,621.89 441.10,621.91 441.60,621.94 442.10,621.96 442.60,621.98 443.10,622.01 443.60,622.03 444.10,622.05 444.60,622.08 445.10,622.10 445.60,622.12 446.10,622.15 446.60,622.17 447.10,622.19 447.60,622.22 448.10,622.24 448.60,622.26 449.10,622.29" fill="none" stroke="#3CB371" stroke-width="1.1" stroke-linejoin="round" />
<rect x="248.6" y="463.6" width="200.6" height="164.0" fill="none" stroke="#333" stroke-width="1"/>
<line x1="248.60" y1="627.60" x2="248.60" y2="631.10" stroke="#333" stroke-width="1" />
<text x="248.60" y="643.80" font-size="10.7" text-anchor="middle" fill="#111" >394</text>
<line x1="268.66" y1="627.60" x2="268.66" y2="629.60" stroke="#333" stroke-width="1" />
<line x1="288.72" y1="627.60" x2="288.72" y2="631.10" stroke="#333" stroke-width="1" />
<text x="288.72" y="643.80" font-size="10.7" text-anchor="middle" fill="#111" >396</text>
<line x1="308.78" y1="627.60" x2="308.78" y2="629.60" stroke="#333" stroke-width="1" />
<line x1="328.84" y1="627.60" x2="328.84" y2="631.10" stroke="#333" stroke-width="1" />
<text x="328.84" y="643.80" font-size="10.7" text-anchor="middle" fill="#111" >398</text>
<line x1="348.90" y1="627.60" x2="348.90" y2="629.60" stroke="#333" stroke-width="1" />
<line x1="368.96" y1="627.60" x2="368.96" y2="631.10" stroke="#333" stroke-width="1" />
<text x="368.96" y="643.80" font-size="10.7" text-anchor="middle" fill="#111" >400</text>
<line x1="389.02" y1="627.60" x2="389.02" y2="629.60" stroke="#333" stroke-width="1" />
<line x1="409.08" y1="627.60" x2="409.08" y2="631.10" stroke="#333" stroke-width="1" />
<text x="409.08" y="643.80" font-size="10.7" text-anchor="middle" fill="#111" >402</text>
<line x1="429.14" y1="627.60" x2="429.14" y2="629.60" stroke="#333" stroke-width="1" />
<line x1="449.20" y1="627.60" x2="449.20" y2="631.10" stroke="#333" stroke-width="1" />
<text x="449.20" y="643.80" font-size="10.7" text-anchor="middle" fill="#111" >404</text>
<text x="240.4" y="546.6" font-size="10.7" text-anchor="middle" fill="#111" transform="rotate(-90 240.4 546.6)">Intensity (a.u.)</text>
<text x="348.90" y="659.60" font-size="10.7" text-anchor="middle" fill="#111" >Binding energy (eV)</text>
<text x="262.00" y="488.40" font-size="10.7" text-anchor="start" fill="#111" >N1s</text>
<line x1="355.00" y1="471.90" x2="372.70" y2="471.90" stroke="#333" stroke-width="0.9" />
<text x="378.50" y="475.10" font-size="9.1" text-anchor="start" fill="#222" >Raw</text>
<line x1="355.00" y1="483.60" x2="372.70" y2="483.60" stroke="#F4A58A" stroke-width="1.4" />
<text x="378.50" y="486.80" font-size="9.1" text-anchor="start" fill="#222" >Pyrrolic N</text>
<line x1="355.00" y1="497.00" x2="372.70" y2="497.00" stroke="#4a8ae6" stroke-width="1.3" />
<text x="378.50" y="500.20" font-size="9.1" text-anchor="start" fill="#222" >Background</text>
<line x1="355.00" y1="509.80" x2="372.70" y2="509.80" stroke="#5cc085" stroke-width="1.4" />
<text x="378.50" y="513.00" font-size="9.1" text-anchor="start" fill="#222" >Fitted curve</text>
<polygon points="496.70,624.70 497.20,624.70 497.70,624.69 498.20,624.69 498.70,624.68 499.20,624.68 499.70,624.67 500.20,624.67 500.70,624.66 501.20,624.66 501.70,624.66 502.20,624.65 502.70,624.65 503.20,624.64 503.70,624.64 504.20,624.63 504.70,624.62 505.20,624.62 505.70,624.61 506.20,624.61 506.70,624.60 507.20,624.60 507.70,624.59 508.20,624.58 508.70,624.58 509.20,624.57 509.70,624.56 510.20,624.56 510.70,624.55 511.20,624.54 511.70,624.53 512.20,624.53 512.70,624.52 513.20,624.51 513.70,624.50 514.20,624.49 514.70,624.48 515.20,624.48 515.70,624.47 516.20,624.46 516.70,624.45 517.20,624.44 517.70,624.43 518.20,624.42 518.70,624.41 519.20,624.39 519.70,624.38 520.20,624.37 520.70,624.36 521.20,624.35 521.70,624.33 522.20,624.32 522.70,624.31 523.20,624.29 523.70,624.28 524.20,624.27 524.70,624.25 525.20,624.23 525.70,624.22 526.20,624.20 526.70,624.18 527.20,624.17 527.70,624.15 528.20,624.13 528.70,624.11 529.20,624.09 529.70,624.06 530.20,624.04 530.70,624.02 531.20,623.99 531.70,623.96 532.20,623.93 532.70,623.90 533.20,623.87 533.70,623.84 534.20,623.80 534.70,623.76 535.20,623.71 535.70,623.66 536.20,623.61 536.70,623.55 537.20,623.48 537.70,623.41 538.20,623.33 538.70,623.24 539.20,623.13 539.70,623.01 540.20,622.88 540.70,622.73 541.20,622.57 541.70,622.38 542.20,622.16 542.70,621.91 543.20,621.64 543.70,621.33 544.20,620.97 544.70,620.57 545.20,620.12 545.70,619.62 546.20,619.05 546.70,618.42 547.20,617.71 547.70,616.92 548.20,616.04 548.70,615.07 549.20,613.99 549.70,612.80 550.20,611.49 550.70,610.05 551.20,608.48 551.70,606.77 552.20,604.91 552.70,602.90 553.20,600.72 553.70,598.38 554.20,595.87 554.70,593.19 555.20,590.33 555.70,587.30 556.20,584.10 556.70,580.72 557.20,577.18 557.70,573.48 558.20,569.63 558.70,565.64 559.20,561.51 559.70,557.28 560.20,552.94 560.70,548.52 561.20,544.05 561.70,539.54 562.20,535.01 562.70,530.50 563.20,526.02 563.70,521.62 564.20,517.31 564.70,513.13 565.20,509.11 565.70,505.27 566.20,501.66 566.70,498.30 567.20,495.22 567.70,492.45 568.20,490.01 568.70,487.93 569.20,486.24 569.70,484.93 570.20,484.05 570.70,483.58 571.20,483.53 571.70,483.86 572.20,484.56 572.70,485.62 573.20,487.02 573.70,488.77 574.20,490.83 574.70,493.20 575.20,495.85 575.70,498.76 576.20,501.91 576.70,505.28 577.20,508.84 577.70,512.56 578.20,516.43 578.70,520.41 579.20,524.48 579.70,528.62 580.20,532.81 580.70,537.01 581.20,541.22 581.70,545.41 582.20,549.56 582.70,553.65 583.20,557.67 583.70,561.60 584.20,565.44 584.70,569.16 585.20,572.77 585.70,576.24 586.20,579.58 586.70,582.77 587.20,585.82 587.70,588.72 588.20,591.47 588.70,594.07 589.20,596.52 589.70,598.82 590.20,600.97 590.70,602.98 591.20,604.86 591.70,606.59 592.20,608.20 592.70,609.69 593.20,611.06 593.70,612.32 594.20,613.47 594.70,614.52 595.20,615.48 595.70,616.35 596.20,617.14 596.70,617.86 597.20,618.51 597.70,619.09 598.20,619.62 598.70,620.09 599.20,620.51 599.70,620.89 600.20,621.23 600.70,621.53 601.20,621.80 601.70,622.04 602.20,622.26 602.70,622.45 603.20,622.62 603.70,622.77 604.20,622.90 604.70,623.03 605.20,623.13 605.70,623.23 606.20,623.32 606.70,623.39 607.20,623.46 607.70,623.53 608.20,623.59 608.70,623.64 609.20,623.69 609.70,623.73 610.20,623.77 610.70,623.81 611.20,623.84 611.70,623.87 612.20,623.91 612.70,623.93 613.20,623.96 613.70,623.99 614.20,624.01 614.70,624.03 615.20,624.06 615.70,624.08 616.20,624.10 616.70,624.12 617.20,624.13 617.70,624.15 618.20,624.17 618.70,624.19 619.20,624.20 619.70,624.22 620.20,624.23 620.70,624.25 621.20,624.26 621.70,624.28 622.20,624.29 622.70,624.30 623.20,624.31 623.70,624.33 624.20,624.34 624.70,624.35 625.20,624.36 625.70,624.37 626.20,624.38 626.70,624.39 627.20,624.40 627.70,624.41 628.20,624.42 628.70,624.43 629.20,624.44 629.70,624.45 630.20,624.46 630.70,624.47 631.20,624.48 631.70,624.49 632.20,624.49 632.70,624.50 633.20,624.51 633.70,624.52 634.20,624.53 634.70,624.53 635.20,624.54 635.70,624.55 636.20,624.55 636.70,624.56 637.20,624.57 637.70,624.57 638.20,624.58 638.70,624.58 639.20,624.59 639.70,624.60 640.20,624.60 640.70,624.61 641.20,624.61 641.70,624.62 642.20,624.62 642.70,624.63 643.20,624.63 643.70,624.64 644.20,624.64 644.70,624.65 645.20,624.65 645.70,624.66 646.20,624.66 646.70,624.67 647.20,624.67 647.70,624.67 648.20,624.68 648.70,624.68 649.20,624.69 649.70,624.69 650.20,624.69 650.70,624.70 650.70,625.00 650.20,625.00 649.70,625.00 649.20,625.00 648.70,625.00 648.20,625.00 647.70,625.00 647.20,625.00 646.70,625.00 646.20,625.00 645.70,625.00 645.20,625.00 644.70,625.00 644.20,625.00 643.70,625.00 643.20,625.00 642.70,625.00 642.20,625.00 641.70,625.00 641.20,625.00 640.70,625.00 640.20,625.00 639.70,625.00 639.20,625.00 638.70,625.00 638.20,625.00 637.70,625.00 637.20,625.00 636.70,625.00 636.20,625.00 635.70,625.00 635.20,625.00 634.70,625.00 634.20,625.00 633.70,625.00 633.20,625.00 632.70,625.00 632.20,625.00 631.70,625.00 631.20,625.00 630.70,625.00 630.20,625.00 629.70,625.00 629.20,625.00 628.70,625.00 628.20,625.00 627.70,625.00 627.20,625.00 626.70,625.00 626.20,625.00 625.70,625.00 625.20,625.00 624.70,625.00 624.20,625.00 623.70,625.00 623.20,625.00 622.70,625.00 622.20,625.00 621.70,625.00 621.20,625.00 620.70,625.00 620.20,625.00 619.70,625.00 619.20,625.00 618.70,625.00 618.20,625.00 617.70,625.00 617.20,625.00 616.70,625.00 616.20,625.00 615.70,625.00 615.20,625.00 614.70,625.00 614.20,625.00 613.70,625.00 613.20,625.00 612.70,625.00 612.20,625.00 611.70,625.00 611.20,625.00 610.70,625.00 610.20,625.00 609.70,625.00 609.20,625.00 608.70,625.00 608.20,625.00 607.70,625.00 607.20,625.00 606.70,625.00 606.20,625.00 605.70,625.00 605.20,625.00 604.70,625.00 604.20,625.00 603.70,625.00 603.20,625.00 602.70,625.00 602.20,625.00 601.70,625.00 601.20,625.00 600.70,625.00 600.20,625.00 599.70,625.00 599.20,625.00 598.70,625.00 598.20,625.00 597.70,625.00 597.20,625.00 596.70,625.00 596.20,625.00 595.70,625.00 595.20,625.00 594.70,625.00 594.20,625.00 593.70,625.00 593.20,625.00 592.70,625.00 592.20,625.00 591.70,625.00 591.20,625.00 590.70,625.00 590.20,625.00 589.70,625.00 589.20,625.00 588.70,625.00 588.20,625.00 587.70,625.00 587.20,625.00 586.70,625.00 586.20,625.00 585.70,625.00 585.20,625.00 584.70,625.00 584.20,625.00 583.70,625.00 583.20,625.00 582.70,625.00 582.20,625.00 581.70,625.00 581.20,625.00 580.70,625.00 580.20,625.00 579.70,625.00 579.20,625.00 578.70,625.00 578.20,625.00 577.70,625.00 577.20,625.00 576.70,625.00 576.20,625.00 575.70,625.00 575.20,625.00 574.70,625.00 574.20,625.00 573.70,625.00 573.20,625.00 572.70,625.00 572.20,625.00 571.70,625.00 571.20,625.00 570.70,625.00 570.20,625.00 569.70,625.00 569.20,625.00 568.70,625.00 568.20,625.00 567.70,625.00 567.20,625.00 566.70,625.00 566.20,625.00 565.70,625.00 565.20,625.00 564.70,625.00 564.20,625.00 563.70,625.00 563.20,625.00 562.70,625.00 562.20,625.00 561.70,625.00 561.20,625.00 560.70,625.00 560.20,625.00 559.70,625.00 559.20,625.00 558.70,625.00 558.20,625.00 557.70,625.00 557.20,625.00 556.70,625.00 556.20,625.00 555.70,625.00 555.20,625.00 554.70,625.00 554.20,625.00 553.70,625.00 553.20,625.00 552.70,625.00 552.20,625.00 551.70,625.00 551.20,625.00 550.70,625.00 550.20,625.00 549.70,625.00 549.20,625.00 548.70,625.00 548.20,625.00 547.70,625.00 547.20,625.00 546.70,625.00 546.20,625.00 545.70,625.00 545.20,625.00 544.70,625.00 544.20,625.00 543.70,625.00 543.20,625.00 542.70,625.00 542.20,625.00 541.70,625.00 541.20,625.00 540.70,625.00 540.20,625.00 539.70,625.00 539.20,625.00 538.70,625.00 538.20,625.00 537.70,625.00 537.20,625.00 536.70,625.00 536.20,625.00 535.70,625.00 535.20,625.00 534.70,625.00 534.20,625.00 533.70,625.00 533.20,625.00 532.70,625.00 532.20,625.00 531.70,625.00 531.20,625.00 530.70,625.00 530.20,625.00 529.70,625.00 529.20,625.00 528.70,625.00 528.20,625.00 527.70,625.00 527.20,625.00 526.70,625.00 526.20,625.00 525.70,625.00 525.20,625.00 524.70,625.00 524.20,625.00 523.70,625.00 523.20,625.00 522.70,625.00 522.20,625.00 521.70,625.00 521.20,625.00 520.70,625.00 520.20,625.00 519.70,625.00 519.20,625.00 518.70,625.00 518.20,625.00 517.70,625.00 517.20,625.00 516.70,625.00 516.20,625.00 515.70,625.00 515.20,625.00 514.70,625.00 514.20,625.00 513.70,625.00 513.20,625.00 512.70,625.00 512.20,625.00 511.70,625.00 511.20,625.00 510.70,625.00 510.20,625.00 509.70,625.00 509.20,625.00 508.70,625.00 508.20,625.00 507.70,625.00 507.20,625.00 506.70,625.00 506.20,625.00 505.70,625.00 505.20,625.00 504.70,625.00 504.20,625.00 503.70,625.00 503.20,625.00 502.70,625.00 502.20,625.00 501.70,625.00 501.20,625.00 500.70,625.00 500.20,625.00 499.70,625.00 499.20,625.00 498.70,625.00 498.20,625.00 497.70,625.00 497.20,625.00 496.70,625.00" fill="#F2A98F" stroke="none" stroke-width="1" />
<polygon points="576.20,624.95 576.70,624.94 577.20,624.92 577.70,624.91 578.20,624.89 578.70,624.88 579.20,624.85 579.70,624.83 580.20,624.80 580.70,624.77 581.20,624.73 581.70,624.68 582.20,624.64 582.70,624.58 583.20,624.52 583.70,624.45 584.20,624.38 584.70,624.30 585.20,624.21 585.70,624.11 586.20,624.00 586.70,623.88 587.20,623.75 587.70,623.62 588.20,623.47 588.70,623.31 589.20,623.15 589.70,622.97 590.20,622.79 590.70,622.60 591.20,622.40 591.70,622.19 592.20,621.98 592.70,621.76 593.20,621.54 593.70,621.31 594.20,621.09 594.70,620.86 595.20,620.64 595.70,620.43 596.20,620.21 596.70,620.01 597.20,619.81 597.70,619.63 598.20,619.46 598.70,619.30 599.20,619.16 599.70,619.03 600.20,618.93 600.70,618.84 601.20,618.77 601.70,618.73 602.20,618.70 602.70,618.70 603.20,618.72 603.70,618.76 604.20,618.82 604.70,618.91 605.20,619.01 605.70,619.13 606.20,619.27 606.70,619.42 607.20,619.59 607.70,619.78 608.20,619.97 608.70,620.17 609.20,620.38 609.70,620.60 610.20,620.82 610.70,621.04 611.20,621.27 611.70,621.49 612.20,621.71 612.70,621.93 613.20,622.15 613.70,622.36 614.20,622.56 614.70,622.75 615.20,622.94 615.70,623.11 616.20,623.28 616.70,623.44 617.20,623.59 617.70,623.73 618.20,623.86 618.70,623.98 619.20,624.09 619.70,624.19 620.20,624.28 620.70,624.36 621.20,624.44 621.70,624.51 622.20,624.57 622.70,624.63 623.20,624.68 623.70,624.72 624.20,624.76 624.70,624.79 625.20,624.82 625.70,624.85 626.20,624.87 626.70,624.89 627.20,624.91 627.70,624.92 628.20,624.93 628.70,624.95 628.70,625.00 628.20,625.00 627.70,625.00 627.20,625.00 626.70,625.00 626.20,625.00 625.70,625.00 625.20,625.00 624.70,625.00 624.20,625.00 623.70,625.00 623.20,625.00 622.70,625.00 622.20,625.00 621.70,625.00 621.20,625.00 620.70,625.00 620.20,625.00 619.70,625.00 619.20,625.00 618.70,625.00 618.20,625.00 617.70,625.00 617.20,625.00 616.70,625.00 616.20,625.00 615.70,625.00 615.20,625.00 614.70,625.00 614.20,625.00 613.70,625.00 613.20,625.00 612.70,625.00 612.20,625.00 611.70,625.00 611.20,625.00 610.70,625.00 610.20,625.00 609.70,625.00 609.20,625.00 608.70,625.00 608.20,625.00 607.70,625.00 607.20,625.00 606.70,625.00 606.20,625.00 605.70,625.00 605.20,625.00 604.70,625.00 604.20,625.00 603.70,625.00 603.20,625.00 602.70,625.00 602.20,625.00 601.70,625.00 601.20,625.00 600.70,625.00 600.20,625.00 599.70,625.00 599.20,625.00 598.70,625.00 598.20,625.00 597.70,625.00 597.20,625.00 596.70,625.00 596.20,625.00 595.70,625.00 595.20,625.00 594.70,625.00 594.20,625.00 593.70,625.00 593.20,625.00 592.70,625.00 592.20,625.00 591.70,625.00 591.20,625.00 590.70,625.00 590.20,625.00 589.70,625.00 589.20,625.00 588.70,625.00 588.20,625.00 587.70,625.00 587.20,625.00 586.70,625.00 586.20,625.00 585.70,625.00 585.20,625.00 584.70,625.00 584.20,625.00 583.70,625.00 583.20,625.00 582.70,625.00 582.20,625.00 581.70,625.00 581.20,625.00 580.70,625.00 580.20,625.00 579.70,625.00 579.20,625.00 578.70,625.00 578.20,625.00 577.70,625.00 577.20,625.00 576.70,625.00 576.20,625.00" fill="#6EA532" stroke="none" stroke-width="1" />
<line x1="481.20" y1="625.00" x2="676.60" y2="625.00" stroke="#2A40B0" stroke-width="1" />
<polyline points="481.20,624.79 481.70,624.79 482.20,624.79 482.70,624.79 483.20,624.78 483.70,624.78 484.20,624.78 484.70,624.78 485.20,624.77 485.70,624.77 486.20,624.77 486.70,624.77 487.20,624.76 487.70,624.76 488.20,624.76 488.70,624.75 489.20,624.75 489.70,624.75 490.20,624.74 490.70,624.74 491.20,624.74 491.70,624.74 492.20,624.73 492.70,624.73 493.20,624.73 493.70,624.72 494.20,624.72 494.70,624.71 495.20,624.71 495.70,624.71 496.20,624.70 496.70,624.70 497.20,624.70 497.70,624.69 498.20,624.69 498.70,624.68 499.20,624.68 499.70,624.67 500.20,624.67 500.70,624.66 501.20,624.66 501.70,624.66 502.20,624.65 502.70,624.65 503.20,624.64 503.70,624.64 504.20,624.63 504.70,624.62 505.20,624.62 505.70,624.61 506.20,624.61 506.70,624.60 507.20,624.60 507.70,624.59 508.20,624.58 508.70,624.58 509.20,624.57 509.70,624.56 510.20,624.56 510.70,624.55 511.20,624.54 511.70,624.53 512.20,624.53 512.70,624.52 513.20,624.51 513.70,624.50 514.20,624.49 514.70,624.48 515.20,624.48 515.70,624.47 516.20,624.46 516.70,624.45 517.20,624.44 517.70,624.43 518.20,624.42 518.70,624.41 519.20,624.39 519.70,624.38 520.20,624.37 520.70,624.36 521.20,624.35 521.70,624.33 522.20,624.32 522.70,624.31 523.20,624.29 523.70,624.28 524.20,624.27 524.70,624.25 525.20,624.23 525.70,624.22 526.20,624.20 526.70,624.18 527.20,624.17 527.70,624.15 528.20,624.13 528.70,624.11 529.20,624.09 529.70,624.06 530.20,624.04 530.70,624.02 531.20,623.99 531.70,623.96 532.20,623.93 532.70,623.90 533.20,623.87 533.70,623.84 534.20,623.80 534.70,623.76 535.20,623.71 535.70,623.66 536.20,623.61 536.70,623.55 537.20,623.48 537.70,623.41 538.20,623.33 538.70,623.24 539.20,623.13 539.70,623.01 540.20,622.88 540.70,622.73 541.20,622.57 541.70,622.38 542.20,622.16 542.70,621.91 543.20,621.64 543.70,621.33 544.20,620.97 544.70,620.57 545.20,620.12 545.70,619.62 546.20,619.05 546.70,618.42 547.20,617.71 547.70,616.92 548.20,616.04 548.70,615.07 549.20,613.99 549.70,612.80 550.20,611.49 550.70,610.05 551.20,608.48 551.70,606.77 552.20,604.91 552.70,602.90 553.20,600.72 553.70,598.38 554.20,595.87 554.70,593.19 555.20,590.33 555.70,587.30 556.20,584.10 556.70,580.72 557.20,577.18 557.70,573.48 558.20,569.63 558.70,565.64 559.20,561.51 559.70,557.28 560.20,552.94 560.70,548.52 561.20,544.05 561.70,539.54 562.20,535.01 562.70,530.50 563.20,526.02 563.70,521.62 564.20,517.31 564.70,513.13 565.20,509.11 565.70,505.27 566.20,501.66 566.70,498.30 567.20,495.22 567.70,492.45 568.20,490.01 568.70,487.93 569.20,486.23 569.70,484.93 570.20,484.04 570.70,483.57 571.20,483.52 571.70,483.85 572.20,484.55 572.70,485.60 573.20,487.01 573.70,488.74 574.20,490.80 574.70,493.17 575.20,495.81 575.70,498.72 576.20,501.86 576.70,505.22 577.20,508.76 577.70,512.47 578.20,516.32 578.70,520.28 579.20,524.33 579.70,528.45 580.20,532.60 580.70,536.78 581.20,540.95 581.70,545.09 582.20,549.19 582.70,553.23 583.20,557.19 583.70,561.06 584.20,564.82 584.70,568.46 585.20,571.97 585.70,575.35 586.20,578.58 586.70,581.65 587.20,584.58 587.70,587.34 588.20,589.94 588.70,592.38 589.20,594.67 589.70,596.79 590.20,598.76 590.70,600.58 591.20,602.25 591.70,603.78 592.20,605.18 592.70,606.45 593.20,607.60 593.70,608.63 594.20,609.56 594.70,610.38 595.20,611.12 595.70,611.78 596.20,612.36 596.70,612.87 597.20,613.32 597.70,613.72 598.20,614.07 598.70,614.39 599.20,614.67 599.70,614.92 600.20,615.15 600.70,615.37 601.20,615.57 601.70,615.77 602.20,615.96 602.70,616.15 603.20,616.34 603.70,616.53 604.20,616.73 604.70,616.93 605.20,617.14 605.70,617.36 606.20,617.59 606.70,617.82 607.20,618.06 607.70,618.30 608.20,618.55 608.70,618.81 609.20,619.07 609.70,619.33 610.20,619.59 610.70,619.85 611.20,620.11 611.70,620.37 612.20,620.62 612.70,620.87 613.20,621.11 613.70,621.34 614.20,621.57 614.70,621.78 615.20,621.99 615.70,622.19 616.20,622.38 616.70,622.55 617.20,622.72 617.70,622.88 618.20,623.02 618.70,623.16 619.20,623.29 619.70,623.40 620.20,623.51 620.70,623.61 621.20,623.70 621.70,623.78 622.20,623.86 622.70,623.93 623.20,623.99 623.70,624.05 624.20,624.10 624.70,624.14 625.20,624.18 625.70,624.22 626.20,624.25 626.70,624.29 627.20,624.31 627.70,624.34 628.20,624.36 628.70,624.38 629.20,624.40 629.70,624.41 630.20,624.43 630.70,624.44 631.20,624.46 631.70,624.47 632.20,624.48 632.70,624.49 633.20,624.50 633.70,624.51 634.20,624.52 634.70,624.53 635.20,624.54 635.70,624.54 636.20,624.55 636.70,624.56 637.20,624.56 637.70,624.57 638.20,624.58 638.70,624.58 639.20,624.59 639.70,624.60 640.20,624.60 640.70,624.61 641.20,624.61 641.70,624.62 642.20,624.62 642.70,624.63 643.20,624.63 643.70,624.64 644.20,624.64 644.70,624.65 645.20,624.65 645.70,624.66 646.20,624.66 646.70,624.67 647.20,624.67 647.70,624.67 648.20,624.68 648.70,624.68 649.20,624.69 649.70,624.69 650.20,624.69 650.70,624.70 651.20,624.70 651.70,624.71 652.20,624.71 652.70,624.71 653.20,624.72 653.70,624.72 654.20,624.72 654.70,624.73 655.20,624.73 655.70,624.73 656.20,624.73 656.70,624.74 657.20,624.74 657.70,624.74 658.20,624.75 658.70,624.75 659.20,624.75 659.70,624.75 660.20,624.76 660.70,624.76 661.20,624.76 661.70,624.77 662.20,624.77 662.70,624.77 663.20,624.77 663.70,624.78 664.20,624.78 664.70,624.78 665.20,624.78 665.70,624.78 666.20,624.79 666.70,624.79 667.20,624.79 667.70,624.79 668.20,624.80 668.70,624.80 669.20,624.80 669.70,624.80 670.20,624.80 670.70,624.81 671.20,624.81 671.70,624.81 672.20,624.81 672.70,624.81 673.20,624.81 673.70,624.82 674.20,624.82 674.70,624.82 675.20,624.82 675.70,624.82 676.20,624.82" fill="none" stroke="#C57EF0" stroke-width="1.3" stroke-linejoin="round" />
<polyline points="481.20,624.17 482.70,625.27 484.20,625.26 485.70,625.68 487.20,623.95 488.70,624.05 490.20,623.83 491.70,624.02 493.20,625.33 494.70,623.75 496.20,624.78 497.70,623.95 499.20,624.14 500.70,624.49 502.20,625.53 503.70,624.92 505.20,623.36 506.70,624.02 508.20,623.66 509.70,625.53 511.20,625.35 512.70,625.31 514.20,625.34 515.70,625.10 517.20,625.61 518.70,625.17 520.20,623.74 521.70,625.24 523.20,624.26 524.70,624.91 526.20,624.37 527.70,623.96 529.20,623.73 530.70,623.83 532.20,623.45 533.70,622.84 535.20,624.54 536.70,624.32 538.20,624.59 539.70,623.51 541.20,622.66 542.70,622.36 544.20,620.31 545.70,619.94 547.20,617.61 548.70,614.48 550.20,610.95 551.70,606.81 553.20,600.28 554.70,593.11 556.20,584.29 557.70,573.29 559.20,560.85 560.70,548.51 562.20,534.54 563.70,521.14 565.20,508.56 566.70,498.06 568.20,489.24 569.70,485.20 571.20,484.34 572.70,485.40 574.20,491.20 575.70,499.50 577.20,507.94 578.70,519.64 580.20,533.16 581.70,545.70 583.20,557.44 584.70,567.85 586.20,578.42 587.70,588.00 589.20,595.36 590.70,601.13 592.20,604.65 593.70,609.27 595.20,610.90 596.70,613.26 598.20,613.42 599.70,615.77 601.20,615.84 602.70,616.73 604.20,615.98 605.70,617.67 607.20,618.27 608.70,619.05 610.20,619.22 611.70,620.96 613.20,620.70 614.70,621.25 616.20,621.50 617.70,623.36 619.20,622.28 620.70,622.90 622.20,622.74 623.70,624.42 625.20,624.33 626.70,624.40 628.20,623.16 629.70,624.26 631.20,624.05 632.70,623.43 634.20,623.23 635.70,625.84 637.20,623.58 638.70,624.07 640.20,624.00 641.70,624.87 643.20,623.53 644.70,624.57 646.20,624.31 647.70,625.54 649.20,623.40 650.70,624.27 652.20,624.70 653.70,625.94 655.20,624.77 656.70,624.67 658.20,625.19 659.70,624.23 661.20,623.55 662.70,624.77 664.20,625.84 665.70,625.40 667.20,624.16 668.70,625.28 670.20,625.71 671.70,624.18 673.20,625.04 674.70,624.44 676.20,624.16" fill="none" stroke="#444" stroke-width="0.9" stroke-linejoin="round" />
<rect x="481.2" y="464.1" width="195.40000000000003" height="162.69999999999993" fill="none" stroke="#333" stroke-width="1"/>
<line x1="481.20" y1="626.80" x2="481.20" y2="630.30" stroke="#333" stroke-width="1" />
<text x="481.20" y="643.80" font-size="10.7" text-anchor="middle" fill="#111" >526</text>
<line x1="497.48" y1="626.80" x2="497.48" y2="628.80" stroke="#333" stroke-width="1" />
<line x1="513.77" y1="626.80" x2="513.77" y2="630.30" stroke="#333" stroke-width="1" />
<text x="513.77" y="643.80" font-size="10.7" text-anchor="middle" fill="#111" >528</text>
<line x1="530.05" y1="626.80" x2="530.05" y2="628.80" stroke="#333" stroke-width="1" />
<line x1="546.33" y1="626.80" x2="546.33" y2="630.30" stroke="#333" stroke-width="1" />
<text x="546.33" y="643.80" font-size="10.7" text-anchor="middle" fill="#111" >530</text>
<line x1="562.62" y1="626.80" x2="562.62" y2="628.80" stroke="#333" stroke-width="1" />
<line x1="578.90" y1="626.80" x2="578.90" y2="630.30" stroke="#333" stroke-width="1" />
<text x="578.90" y="643.80" font-size="10.7" text-anchor="middle" fill="#111" >532</text>
<line x1="595.18" y1="626.80" x2="595.18" y2="628.80" stroke="#333" stroke-width="1" />
<line x1="611.47" y1="626.80" x2="611.47" y2="630.30" stroke="#333" stroke-width="1" />
<text x="611.47" y="643.80" font-size="10.7" text-anchor="middle" fill="#111" >534</text>
<line x1="627.75" y1="626.80" x2="627.75" y2="628.80" stroke="#333" stroke-width="1" />
<line x1="644.03" y1="626.80" x2="644.03" y2="630.30" stroke="#333" stroke-width="1" />
<text x="644.03" y="643.80" font-size="10.7" text-anchor="middle" fill="#111" >536</text>
<line x1="660.32" y1="626.80" x2="660.32" y2="628.80" stroke="#333" stroke-width="1" />
<line x1="676.60" y1="626.80" x2="676.60" y2="630.30" stroke="#333" stroke-width="1" />
<text x="676.60" y="643.80" font-size="10.7" text-anchor="middle" fill="#111" >538</text>
<text x="474.6" y="546.45" font-size="10.7" text-anchor="middle" fill="#111" transform="rotate(-90 474.6 546.45)">Intensity (a.u.)</text>
<text x="578.90" y="659.60" font-size="10.7" text-anchor="middle" fill="#111" >Binding energy (eV)</text>
<text x="498.00" y="488.40" font-size="10.7" text-anchor="start" fill="#111" >O1s</text>
<line x1="582.00" y1="473.50" x2="599.40" y2="473.50" stroke="#666" stroke-width="1.1" />
<text x="604.40" y="476.70" font-size="9.1" text-anchor="start" fill="#222" >Raw</text>
<line x1="582.00" y1="485.30" x2="599.40" y2="485.30" stroke="#F4A58A" stroke-width="1.4" />
<text x="604.40" y="488.50" font-size="9.1" text-anchor="start" fill="#222" >C=O</text>
<line x1="582.00" y1="496.40" x2="599.40" y2="496.40" stroke="#6CB33A" stroke-width="1.4" />
<text x="604.40" y="499.60" font-size="9.1" text-anchor="start" fill="#222" >C-O</text>
<line x1="582.00" y1="507.80" x2="599.40" y2="507.80" stroke="#2F4FBF" stroke-width="1.4" />
<text x="604.40" y="511.00" font-size="9.1" text-anchor="start" fill="#222" >Background</text>
<line x1="582.00" y1="521.60" x2="599.40" y2="521.60" stroke="#D7A2F2" stroke-width="2.0" />
<text x="604.40" y="524.80" font-size="9.1" text-anchor="start" fill="#222" >Fitted curve</text>
</svg></body></html>
